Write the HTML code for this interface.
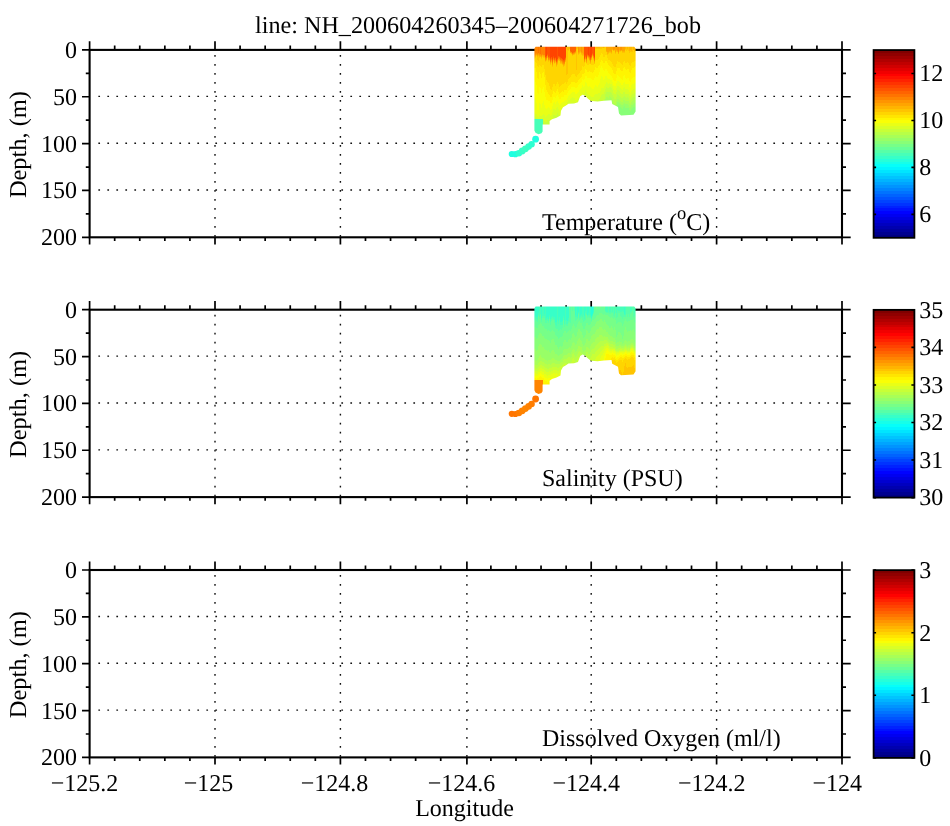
<!DOCTYPE html><html><head><meta charset="utf-8"><style>html,body{margin:0;padding:0;background:#fff;overflow:hidden}svg{display:block;text-rendering:geometricPrecision;will-change:transform}</style></head><body>
<svg width="950" height="826" viewBox="0 0 950 826">
<defs><linearGradient id="jet" x1="0" y1="1" x2="0" y2="0"><stop offset="0.00000" stop-color="#000080"/><stop offset="0.01562" stop-color="#000080"/><stop offset="0.01562" stop-color="#000090"/><stop offset="0.03125" stop-color="#000090"/><stop offset="0.03125" stop-color="#0000a0"/><stop offset="0.04688" stop-color="#0000a0"/><stop offset="0.04688" stop-color="#0000b0"/><stop offset="0.06250" stop-color="#0000b0"/><stop offset="0.06250" stop-color="#0000c0"/><stop offset="0.07812" stop-color="#0000c0"/><stop offset="0.07812" stop-color="#0000d0"/><stop offset="0.09375" stop-color="#0000d0"/><stop offset="0.09375" stop-color="#0000e1"/><stop offset="0.10938" stop-color="#0000e1"/><stop offset="0.10938" stop-color="#0000f1"/><stop offset="0.12500" stop-color="#0000f1"/><stop offset="0.12500" stop-color="#0002ff"/><stop offset="0.14062" stop-color="#0002ff"/><stop offset="0.14062" stop-color="#0012ff"/><stop offset="0.15625" stop-color="#0012ff"/><stop offset="0.15625" stop-color="#0022ff"/><stop offset="0.17188" stop-color="#0022ff"/><stop offset="0.17188" stop-color="#0033ff"/><stop offset="0.18750" stop-color="#0033ff"/><stop offset="0.18750" stop-color="#0043ff"/><stop offset="0.20312" stop-color="#0043ff"/><stop offset="0.20312" stop-color="#0053ff"/><stop offset="0.21875" stop-color="#0053ff"/><stop offset="0.21875" stop-color="#0063ff"/><stop offset="0.23438" stop-color="#0063ff"/><stop offset="0.23438" stop-color="#0073ff"/><stop offset="0.25000" stop-color="#0073ff"/><stop offset="0.25000" stop-color="#0084ff"/><stop offset="0.26562" stop-color="#0084ff"/><stop offset="0.26562" stop-color="#0094ff"/><stop offset="0.28125" stop-color="#0094ff"/><stop offset="0.28125" stop-color="#00a4ff"/><stop offset="0.29688" stop-color="#00a4ff"/><stop offset="0.29688" stop-color="#00b4ff"/><stop offset="0.31250" stop-color="#00b4ff"/><stop offset="0.31250" stop-color="#00c4ff"/><stop offset="0.32812" stop-color="#00c4ff"/><stop offset="0.32812" stop-color="#00d4ff"/><stop offset="0.34375" stop-color="#00d4ff"/><stop offset="0.34375" stop-color="#00e5ff"/><stop offset="0.35938" stop-color="#00e5ff"/><stop offset="0.35938" stop-color="#00f5ff"/><stop offset="0.37500" stop-color="#00f5ff"/><stop offset="0.37500" stop-color="#06fff9"/><stop offset="0.39062" stop-color="#06fff9"/><stop offset="0.39062" stop-color="#16ffe9"/><stop offset="0.40625" stop-color="#16ffe9"/><stop offset="0.40625" stop-color="#26ffd9"/><stop offset="0.42188" stop-color="#26ffd9"/><stop offset="0.42188" stop-color="#37ffc8"/><stop offset="0.43750" stop-color="#37ffc8"/><stop offset="0.43750" stop-color="#47ffb8"/><stop offset="0.45312" stop-color="#47ffb8"/><stop offset="0.45312" stop-color="#57ffa8"/><stop offset="0.46875" stop-color="#57ffa8"/><stop offset="0.46875" stop-color="#67ff98"/><stop offset="0.48438" stop-color="#67ff98"/><stop offset="0.48438" stop-color="#77ff88"/><stop offset="0.50000" stop-color="#77ff88"/><stop offset="0.50000" stop-color="#88ff77"/><stop offset="0.51562" stop-color="#88ff77"/><stop offset="0.51562" stop-color="#98ff67"/><stop offset="0.53125" stop-color="#98ff67"/><stop offset="0.53125" stop-color="#a8ff57"/><stop offset="0.54688" stop-color="#a8ff57"/><stop offset="0.54688" stop-color="#b8ff47"/><stop offset="0.56250" stop-color="#b8ff47"/><stop offset="0.56250" stop-color="#c8ff37"/><stop offset="0.57812" stop-color="#c8ff37"/><stop offset="0.57812" stop-color="#d9ff26"/><stop offset="0.59375" stop-color="#d9ff26"/><stop offset="0.59375" stop-color="#e9ff16"/><stop offset="0.60938" stop-color="#e9ff16"/><stop offset="0.60938" stop-color="#f9ff06"/><stop offset="0.62500" stop-color="#f9ff06"/><stop offset="0.62500" stop-color="#fff500"/><stop offset="0.64062" stop-color="#fff500"/><stop offset="0.64062" stop-color="#ffe500"/><stop offset="0.65625" stop-color="#ffe500"/><stop offset="0.65625" stop-color="#ffd500"/><stop offset="0.67188" stop-color="#ffd500"/><stop offset="0.67188" stop-color="#ffc400"/><stop offset="0.68750" stop-color="#ffc400"/><stop offset="0.68750" stop-color="#ffb400"/><stop offset="0.70312" stop-color="#ffb400"/><stop offset="0.70312" stop-color="#ffa400"/><stop offset="0.71875" stop-color="#ffa400"/><stop offset="0.71875" stop-color="#ff9400"/><stop offset="0.73438" stop-color="#ff9400"/><stop offset="0.73438" stop-color="#ff8400"/><stop offset="0.75000" stop-color="#ff8400"/><stop offset="0.75000" stop-color="#ff7300"/><stop offset="0.76562" stop-color="#ff7300"/><stop offset="0.76562" stop-color="#ff6300"/><stop offset="0.78125" stop-color="#ff6300"/><stop offset="0.78125" stop-color="#ff5300"/><stop offset="0.79688" stop-color="#ff5300"/><stop offset="0.79688" stop-color="#ff4300"/><stop offset="0.81250" stop-color="#ff4300"/><stop offset="0.81250" stop-color="#ff3300"/><stop offset="0.82812" stop-color="#ff3300"/><stop offset="0.82812" stop-color="#ff2200"/><stop offset="0.84375" stop-color="#ff2200"/><stop offset="0.84375" stop-color="#ff1200"/><stop offset="0.85938" stop-color="#ff1200"/><stop offset="0.85938" stop-color="#ff0200"/><stop offset="0.87500" stop-color="#ff0200"/><stop offset="0.87500" stop-color="#f10000"/><stop offset="0.89062" stop-color="#f10000"/><stop offset="0.89062" stop-color="#e10000"/><stop offset="0.90625" stop-color="#e10000"/><stop offset="0.90625" stop-color="#d00000"/><stop offset="0.92188" stop-color="#d00000"/><stop offset="0.92188" stop-color="#c00000"/><stop offset="0.93750" stop-color="#c00000"/><stop offset="0.93750" stop-color="#b00000"/><stop offset="0.95312" stop-color="#b00000"/><stop offset="0.95312" stop-color="#a00000"/><stop offset="0.96875" stop-color="#a00000"/><stop offset="0.96875" stop-color="#900000"/><stop offset="0.98438" stop-color="#900000"/><stop offset="0.98438" stop-color="#800000"/><stop offset="1.00000" stop-color="#800000"/></linearGradient></defs>
<rect width="950" height="826" fill="#fff"/>
<text transform="translate(255.00 32.90) scale(1 1.01)" font-family="Liberation Serif" font-size="24" textLength="446" lengthAdjust="spacingAndGlyphs">line: NH_200604260345–200604271726_bob</text>
<line x1="215.00" y1="55.00" x2="215.00" y2="237.30" stroke="#111" stroke-width="1.4" stroke-dasharray="1.7 7.3"/>
<line x1="340.40" y1="55.00" x2="340.40" y2="237.30" stroke="#111" stroke-width="1.4" stroke-dasharray="1.7 7.3"/>
<line x1="466.90" y1="55.00" x2="466.90" y2="237.30" stroke="#111" stroke-width="1.4" stroke-dasharray="1.7 7.3"/>
<line x1="591.20" y1="55.00" x2="591.20" y2="237.30" stroke="#111" stroke-width="1.4" stroke-dasharray="1.7 7.3"/>
<line x1="716.60" y1="55.00" x2="716.60" y2="237.30" stroke="#111" stroke-width="1.4" stroke-dasharray="1.7 7.3"/>
<line x1="98.35" y1="96.35" x2="842.00" y2="96.35" stroke="#111" stroke-width="1.4" stroke-dasharray="1.7 7.3"/>
<line x1="98.35" y1="143.20" x2="842.00" y2="143.20" stroke="#111" stroke-width="1.4" stroke-dasharray="1.7 7.3"/>
<line x1="98.35" y1="190.05" x2="842.00" y2="190.05" stroke="#111" stroke-width="1.4" stroke-dasharray="1.7 7.3"/>
<path d="M89.60 49.90V41.30M89.60 237.30V244.50M114.68 49.90V45.50M114.68 237.30V241.00M139.76 49.90V45.50M139.76 237.30V241.00M164.84 49.90V45.50M164.84 237.30V241.00M189.92 49.90V45.50M189.92 237.30V241.00M215.00 49.90V41.30M215.00 237.30V244.50M240.08 49.90V45.50M240.08 237.30V241.00M265.16 49.90V45.50M265.16 237.30V241.00M290.24 49.90V45.50M290.24 237.30V241.00M315.32 49.90V45.50M315.32 237.30V241.00M340.40 49.90V41.30M340.40 237.30V244.50M365.48 49.90V45.50M365.48 237.30V241.00M390.56 49.90V45.50M390.56 237.30V241.00M415.64 49.90V45.50M415.64 237.30V241.00M440.72 49.90V45.50M440.72 237.30V241.00M466.90 49.90V41.30M466.90 237.30V244.50M490.88 49.90V45.50M490.88 237.30V241.00M515.96 49.90V45.50M515.96 237.30V241.00M541.04 49.90V45.50M541.04 237.30V241.00M566.12 49.90V45.50M566.12 237.30V241.00M591.20 49.90V41.30M591.20 237.30V244.50M616.28 49.90V45.50M616.28 237.30V241.00M641.36 49.90V45.50M641.36 237.30V241.00M666.44 49.90V45.50M666.44 237.30V241.00M691.52 49.90V45.50M691.52 237.30V241.00M716.60 49.90V41.30M716.60 237.30V244.50M741.68 49.90V45.50M741.68 237.30V241.00M766.76 49.90V45.50M766.76 237.30V241.00M791.84 49.90V45.50M791.84 237.30V241.00M816.92 49.90V45.50M816.92 237.30V241.00M842.00 49.90V41.30M842.00 237.30V244.50M89.60 49.90H82.00M842.00 49.90H850.70M89.60 73.33H85.80M842.00 73.33H846.00M89.60 96.75H82.00M842.00 96.75H850.70M89.60 120.18H85.80M842.00 120.18H846.00M89.60 143.60H82.00M842.00 143.60H850.70M89.60 167.03H85.80M842.00 167.03H846.00M89.60 190.45H82.00M842.00 190.45H850.70M89.60 213.88H85.80M842.00 213.88H846.00M89.60 237.30H82.00M842.00 237.30H850.70" stroke="#000" stroke-width="1.7" fill="none"/>
<rect x="89.60" y="49.90" width="752.40" height="187.40" fill="none" stroke="#000" stroke-width="2.1"/>
<clipPath id="clip0"><polygon points="534.4,48.5 535.6,46.8 634.2,46.8 635.6,48.5 635.6,111.5 635.6,111.5 633.5,114.8 621.0,115.4 619.0,113.6 618.0,107.0 612.2,103.9 611.5,100.3 604.0,100.8 597.6,101.4 591.0,101.0 588.0,98.8 585.0,95.6 582.5,94.8 580.2,96.2 578.0,102.2 574.0,103.4 568.5,103.8 566.0,105.4 563.0,107.2 561.0,110.8 560.5,115.6 556.5,117.8 552.0,119.2 549.6,121.0 549.6,124.6 542.6,124.6 542.6,131.5 541.5,133.3 538.5,134.2 535.5,132.8 534.4,130.5"/></clipPath>
<g transform="translate(0 0.00)">
<g clip-path="url(#clip0)" shape-rendering="crispEdges">
<rect x="534" y="46" width="1" height="9" fill="#ff8400"/>
<rect x="534" y="55" width="1" height="1" fill="#ff9400"/>
<rect x="534" y="56" width="1" height="1" fill="#ffa400"/>
<rect x="534" y="57" width="1" height="1" fill="#ffb400"/>
<rect x="534" y="58" width="1" height="1" fill="#ffc400"/>
<rect x="534" y="59" width="1" height="2" fill="#ffd500"/>
<rect x="534" y="61" width="1" height="7" fill="#ffe500"/>
<rect x="534" y="68" width="1" height="12" fill="#fff500"/>
<rect x="534" y="80" width="1" height="18" fill="#f9ff06"/>
<rect x="534" y="98" width="1" height="15" fill="#e9ff16"/>
<rect x="534" y="113" width="1" height="3" fill="#d9ff26"/>
<rect x="534" y="116" width="1" height="3" fill="#c8ff37"/>
<rect x="534" y="119" width="1" height="17" fill="#47ffb8"/>
<rect x="535" y="46" width="1" height="8" fill="#ff8400"/>
<rect x="535" y="54" width="1" height="1" fill="#ff9400"/>
<rect x="535" y="55" width="1" height="1" fill="#ffa400"/>
<rect x="535" y="56" width="1" height="1" fill="#ffb400"/>
<rect x="535" y="57" width="1" height="1" fill="#ffc400"/>
<rect x="535" y="58" width="1" height="4" fill="#ffd500"/>
<rect x="535" y="62" width="1" height="6" fill="#ffe500"/>
<rect x="535" y="68" width="1" height="14" fill="#fff500"/>
<rect x="535" y="82" width="1" height="17" fill="#f9ff06"/>
<rect x="535" y="99" width="1" height="15" fill="#e9ff16"/>
<rect x="535" y="114" width="1" height="3" fill="#d9ff26"/>
<rect x="535" y="117" width="1" height="2" fill="#c8ff37"/>
<rect x="535" y="119" width="1" height="17" fill="#47ffb8"/>
<rect x="536" y="46" width="1" height="7" fill="#ff8400"/>
<rect x="536" y="53" width="1" height="1" fill="#ff9400"/>
<rect x="536" y="54" width="1" height="1" fill="#ffa400"/>
<rect x="536" y="55" width="1" height="1" fill="#ffc400"/>
<rect x="536" y="56" width="1" height="7" fill="#ffd500"/>
<rect x="536" y="63" width="1" height="9" fill="#ffe500"/>
<rect x="536" y="72" width="1" height="13" fill="#fff500"/>
<rect x="536" y="85" width="1" height="18" fill="#f9ff06"/>
<rect x="536" y="103" width="1" height="11" fill="#e9ff16"/>
<rect x="536" y="114" width="1" height="4" fill="#d9ff26"/>
<rect x="536" y="118" width="1" height="1" fill="#c8ff37"/>
<rect x="536" y="119" width="1" height="17" fill="#47ffb8"/>
<rect x="537" y="46" width="1" height="8" fill="#ff8400"/>
<rect x="537" y="54" width="1" height="1" fill="#ff9400"/>
<rect x="537" y="55" width="1" height="1" fill="#ffa400"/>
<rect x="537" y="56" width="1" height="1" fill="#ffb400"/>
<rect x="537" y="57" width="1" height="3" fill="#ffc400"/>
<rect x="537" y="60" width="1" height="6" fill="#ffd500"/>
<rect x="537" y="66" width="1" height="12" fill="#ffe500"/>
<rect x="537" y="78" width="1" height="15" fill="#fff500"/>
<rect x="537" y="93" width="1" height="17" fill="#f9ff06"/>
<rect x="537" y="110" width="1" height="6" fill="#e9ff16"/>
<rect x="537" y="116" width="1" height="3" fill="#d9ff26"/>
<rect x="537" y="119" width="1" height="17" fill="#47ffb8"/>
<rect x="538" y="46" width="1" height="7" fill="#ff7300"/>
<rect x="538" y="53" width="1" height="1" fill="#ff9400"/>
<rect x="538" y="54" width="1" height="1" fill="#ffa400"/>
<rect x="538" y="55" width="1" height="1" fill="#ffb400"/>
<rect x="538" y="56" width="1" height="5" fill="#ffc400"/>
<rect x="538" y="61" width="1" height="6" fill="#ffd500"/>
<rect x="538" y="67" width="1" height="12" fill="#ffe500"/>
<rect x="538" y="79" width="1" height="15" fill="#fff500"/>
<rect x="538" y="94" width="1" height="16" fill="#f9ff06"/>
<rect x="538" y="110" width="1" height="7" fill="#e9ff16"/>
<rect x="538" y="117" width="1" height="2" fill="#d9ff26"/>
<rect x="538" y="119" width="1" height="17" fill="#47ffb8"/>
<rect x="539" y="46" width="1" height="8" fill="#ff8400"/>
<rect x="539" y="54" width="1" height="1" fill="#ff9400"/>
<rect x="539" y="55" width="1" height="1" fill="#ffa400"/>
<rect x="539" y="56" width="1" height="1" fill="#ffb400"/>
<rect x="539" y="57" width="1" height="1" fill="#ffc400"/>
<rect x="539" y="58" width="1" height="7" fill="#ffd500"/>
<rect x="539" y="65" width="1" height="7" fill="#ffe500"/>
<rect x="539" y="72" width="1" height="15" fill="#fff500"/>
<rect x="539" y="87" width="1" height="16" fill="#f9ff06"/>
<rect x="539" y="103" width="1" height="12" fill="#e9ff16"/>
<rect x="539" y="115" width="1" height="4" fill="#d9ff26"/>
<rect x="539" y="119" width="1" height="17" fill="#47ffb8"/>
<rect x="540" y="46" width="1" height="8" fill="#ff7300"/>
<rect x="540" y="54" width="1" height="1" fill="#ff9400"/>
<rect x="540" y="55" width="1" height="1" fill="#ffa400"/>
<rect x="540" y="56" width="1" height="1" fill="#ffb400"/>
<rect x="540" y="57" width="1" height="9" fill="#ffd500"/>
<rect x="540" y="66" width="1" height="8" fill="#ffe500"/>
<rect x="540" y="74" width="1" height="14" fill="#fff500"/>
<rect x="540" y="88" width="1" height="16" fill="#f9ff06"/>
<rect x="540" y="104" width="1" height="12" fill="#e9ff16"/>
<rect x="540" y="116" width="1" height="3" fill="#d9ff26"/>
<rect x="540" y="119" width="1" height="17" fill="#47ffb8"/>
<rect x="541" y="46" width="1" height="9" fill="#ff8400"/>
<rect x="541" y="55" width="1" height="1" fill="#ff9400"/>
<rect x="541" y="56" width="1" height="1" fill="#ffa400"/>
<rect x="541" y="57" width="1" height="1" fill="#ffb400"/>
<rect x="541" y="58" width="1" height="1" fill="#ffc400"/>
<rect x="541" y="59" width="1" height="8" fill="#ffd500"/>
<rect x="541" y="67" width="1" height="11" fill="#ffe500"/>
<rect x="541" y="78" width="1" height="15" fill="#fff500"/>
<rect x="541" y="93" width="1" height="15" fill="#f9ff06"/>
<rect x="541" y="108" width="1" height="8" fill="#e9ff16"/>
<rect x="541" y="116" width="1" height="3" fill="#d9ff26"/>
<rect x="541" y="119" width="1" height="17" fill="#47ffb8"/>
<rect x="542" y="46" width="1" height="8" fill="#ff8400"/>
<rect x="542" y="54" width="1" height="1" fill="#ff9400"/>
<rect x="542" y="55" width="1" height="1" fill="#ffb400"/>
<rect x="542" y="56" width="1" height="1" fill="#ffc400"/>
<rect x="542" y="57" width="1" height="8" fill="#ffd500"/>
<rect x="542" y="65" width="1" height="8" fill="#ffe500"/>
<rect x="542" y="73" width="1" height="16" fill="#fff500"/>
<rect x="542" y="89" width="1" height="14" fill="#f9ff06"/>
<rect x="542" y="103" width="1" height="12" fill="#e9ff16"/>
<rect x="542" y="115" width="1" height="4" fill="#d9ff26"/>
<rect x="542" y="119" width="1" height="17" fill="#47ffb8"/>
<rect x="543" y="46" width="1" height="9" fill="#ff8400"/>
<rect x="543" y="55" width="1" height="1" fill="#ffa400"/>
<rect x="543" y="56" width="1" height="1" fill="#ffb400"/>
<rect x="543" y="57" width="1" height="1" fill="#ffc400"/>
<rect x="543" y="58" width="1" height="7" fill="#ffd500"/>
<rect x="543" y="65" width="1" height="7" fill="#ffe500"/>
<rect x="543" y="72" width="1" height="15" fill="#fff500"/>
<rect x="543" y="87" width="1" height="14" fill="#f9ff06"/>
<rect x="543" y="101" width="1" height="13" fill="#e9ff16"/>
<rect x="543" y="114" width="1" height="6" fill="#d9ff26"/>
<rect x="543" y="120" width="1" height="12" fill="#c8ff37"/>
<rect x="543" y="132" width="1" height="4" fill="#b8ff47"/>
<rect x="544" y="46" width="1" height="9" fill="#ff8400"/>
<rect x="544" y="55" width="1" height="1" fill="#ffa400"/>
<rect x="544" y="56" width="1" height="1" fill="#ffb400"/>
<rect x="544" y="57" width="1" height="1" fill="#ffc400"/>
<rect x="544" y="58" width="1" height="11" fill="#ffd500"/>
<rect x="544" y="69" width="1" height="8" fill="#ffe500"/>
<rect x="544" y="77" width="1" height="15" fill="#fff500"/>
<rect x="544" y="92" width="1" height="13" fill="#f9ff06"/>
<rect x="544" y="105" width="1" height="10" fill="#e9ff16"/>
<rect x="544" y="115" width="1" height="6" fill="#d9ff26"/>
<rect x="544" y="121" width="1" height="14" fill="#c8ff37"/>
<rect x="544" y="135" width="1" height="1" fill="#b8ff47"/>
<rect x="545" y="46" width="1" height="11" fill="#ff5300"/>
<rect x="545" y="57" width="1" height="1" fill="#ff7300"/>
<rect x="545" y="58" width="1" height="1" fill="#ff8400"/>
<rect x="545" y="59" width="1" height="1" fill="#ff9400"/>
<rect x="545" y="60" width="1" height="1" fill="#ffa400"/>
<rect x="545" y="61" width="1" height="1" fill="#ffc400"/>
<rect x="545" y="62" width="1" height="13" fill="#ffd500"/>
<rect x="545" y="75" width="1" height="10" fill="#ffe500"/>
<rect x="545" y="85" width="1" height="12" fill="#fff500"/>
<rect x="545" y="97" width="1" height="11" fill="#f9ff06"/>
<rect x="545" y="108" width="1" height="9" fill="#e9ff16"/>
<rect x="545" y="117" width="1" height="5" fill="#d9ff26"/>
<rect x="545" y="122" width="1" height="14" fill="#c8ff37"/>
<rect x="546" y="46" width="1" height="10" fill="#ff4300"/>
<rect x="546" y="56" width="1" height="1" fill="#ff6300"/>
<rect x="546" y="57" width="1" height="1" fill="#ff7300"/>
<rect x="546" y="58" width="1" height="1" fill="#ff9400"/>
<rect x="546" y="59" width="1" height="1" fill="#ffa400"/>
<rect x="546" y="60" width="1" height="1" fill="#ffc400"/>
<rect x="546" y="61" width="1" height="19" fill="#ffd500"/>
<rect x="546" y="80" width="1" height="10" fill="#ffe500"/>
<rect x="546" y="90" width="1" height="10" fill="#fff500"/>
<rect x="546" y="100" width="1" height="9" fill="#f9ff06"/>
<rect x="546" y="109" width="1" height="7" fill="#e9ff16"/>
<rect x="546" y="116" width="1" height="6" fill="#d9ff26"/>
<rect x="546" y="122" width="1" height="14" fill="#c8ff37"/>
<rect x="547" y="46" width="1" height="8" fill="#ff5300"/>
<rect x="547" y="54" width="1" height="1" fill="#ff6300"/>
<rect x="547" y="55" width="1" height="1" fill="#ff8400"/>
<rect x="547" y="56" width="1" height="1" fill="#ffa400"/>
<rect x="547" y="57" width="1" height="1" fill="#ffb400"/>
<rect x="547" y="58" width="1" height="24" fill="#ffd500"/>
<rect x="547" y="82" width="1" height="10" fill="#ffe500"/>
<rect x="547" y="92" width="1" height="8" fill="#fff500"/>
<rect x="547" y="100" width="1" height="8" fill="#f9ff06"/>
<rect x="547" y="108" width="1" height="7" fill="#e9ff16"/>
<rect x="547" y="115" width="1" height="5" fill="#d9ff26"/>
<rect x="547" y="120" width="1" height="16" fill="#c8ff37"/>
<rect x="548" y="46" width="1" height="11" fill="#ff5300"/>
<rect x="548" y="57" width="1" height="1" fill="#ff7300"/>
<rect x="548" y="58" width="1" height="1" fill="#ff8400"/>
<rect x="548" y="59" width="1" height="1" fill="#ff9400"/>
<rect x="548" y="60" width="1" height="1" fill="#ffb400"/>
<rect x="548" y="61" width="1" height="1" fill="#ffc400"/>
<rect x="548" y="62" width="1" height="21" fill="#ffd500"/>
<rect x="548" y="83" width="1" height="11" fill="#ffe500"/>
<rect x="548" y="94" width="1" height="7" fill="#fff500"/>
<rect x="548" y="101" width="1" height="6" fill="#f9ff06"/>
<rect x="548" y="107" width="1" height="7" fill="#e9ff16"/>
<rect x="548" y="114" width="1" height="6" fill="#d9ff26"/>
<rect x="548" y="120" width="1" height="13" fill="#c8ff37"/>
<rect x="548" y="133" width="1" height="3" fill="#b8ff47"/>
<rect x="549" y="46" width="1" height="10" fill="#ff5300"/>
<rect x="549" y="56" width="1" height="1" fill="#ff6300"/>
<rect x="549" y="57" width="1" height="1" fill="#ff7300"/>
<rect x="549" y="58" width="1" height="1" fill="#ff9400"/>
<rect x="549" y="59" width="1" height="1" fill="#ffa400"/>
<rect x="549" y="60" width="1" height="1" fill="#ffc400"/>
<rect x="549" y="61" width="1" height="25" fill="#ffd500"/>
<rect x="549" y="86" width="1" height="9" fill="#ffe500"/>
<rect x="549" y="95" width="1" height="6" fill="#fff500"/>
<rect x="549" y="101" width="1" height="7" fill="#f9ff06"/>
<rect x="549" y="108" width="1" height="6" fill="#e9ff16"/>
<rect x="549" y="114" width="1" height="6" fill="#d9ff26"/>
<rect x="549" y="120" width="1" height="16" fill="#c8ff37"/>
<rect x="550" y="46" width="1" height="12" fill="#ff4300"/>
<rect x="550" y="58" width="1" height="1" fill="#ff5300"/>
<rect x="550" y="59" width="1" height="1" fill="#ff6300"/>
<rect x="550" y="60" width="1" height="1" fill="#ff7300"/>
<rect x="550" y="61" width="1" height="1" fill="#ff8400"/>
<rect x="550" y="62" width="1" height="1" fill="#ffa400"/>
<rect x="550" y="63" width="1" height="1" fill="#ffb400"/>
<rect x="550" y="64" width="1" height="1" fill="#ffc400"/>
<rect x="550" y="65" width="1" height="24" fill="#ffd500"/>
<rect x="550" y="89" width="1" height="8" fill="#ffe500"/>
<rect x="550" y="97" width="1" height="6" fill="#fff500"/>
<rect x="550" y="103" width="1" height="7" fill="#f9ff06"/>
<rect x="550" y="110" width="1" height="6" fill="#e9ff16"/>
<rect x="550" y="116" width="1" height="6" fill="#d9ff26"/>
<rect x="550" y="122" width="1" height="14" fill="#c8ff37"/>
<rect x="551" y="46" width="1" height="11" fill="#ff4300"/>
<rect x="551" y="57" width="1" height="1" fill="#ff6300"/>
<rect x="551" y="58" width="1" height="1" fill="#ff7300"/>
<rect x="551" y="59" width="1" height="1" fill="#ff8400"/>
<rect x="551" y="60" width="1" height="1" fill="#ffa400"/>
<rect x="551" y="61" width="1" height="1" fill="#ffb400"/>
<rect x="551" y="62" width="1" height="1" fill="#ffc400"/>
<rect x="551" y="63" width="1" height="27" fill="#ffd500"/>
<rect x="551" y="90" width="1" height="7" fill="#ffe500"/>
<rect x="551" y="97" width="1" height="6" fill="#fff500"/>
<rect x="551" y="103" width="1" height="6" fill="#f9ff06"/>
<rect x="551" y="109" width="1" height="6" fill="#e9ff16"/>
<rect x="551" y="115" width="1" height="8" fill="#d9ff26"/>
<rect x="551" y="123" width="1" height="13" fill="#c8ff37"/>
<rect x="552" y="46" width="1" height="13" fill="#ff4300"/>
<rect x="552" y="59" width="1" height="1" fill="#ff5300"/>
<rect x="552" y="60" width="1" height="1" fill="#ff6300"/>
<rect x="552" y="61" width="1" height="1" fill="#ff7300"/>
<rect x="552" y="62" width="1" height="1" fill="#ff8400"/>
<rect x="552" y="63" width="1" height="1" fill="#ff9400"/>
<rect x="552" y="64" width="1" height="1" fill="#ffa400"/>
<rect x="552" y="65" width="1" height="1" fill="#ffb400"/>
<rect x="552" y="66" width="1" height="1" fill="#ffc400"/>
<rect x="552" y="67" width="1" height="20" fill="#ffd500"/>
<rect x="552" y="87" width="1" height="7" fill="#ffe500"/>
<rect x="552" y="94" width="1" height="6" fill="#fff500"/>
<rect x="552" y="100" width="1" height="6" fill="#f9ff06"/>
<rect x="552" y="106" width="1" height="6" fill="#e9ff16"/>
<rect x="552" y="112" width="1" height="7" fill="#d9ff26"/>
<rect x="552" y="119" width="1" height="16" fill="#c8ff37"/>
<rect x="552" y="135" width="1" height="1" fill="#b8ff47"/>
<rect x="553" y="46" width="1" height="10" fill="#ff4300"/>
<rect x="553" y="56" width="1" height="1" fill="#ff5300"/>
<rect x="553" y="57" width="1" height="1" fill="#ff6300"/>
<rect x="553" y="58" width="1" height="1" fill="#ff8400"/>
<rect x="553" y="59" width="1" height="1" fill="#ff9400"/>
<rect x="553" y="60" width="1" height="1" fill="#ffb400"/>
<rect x="553" y="61" width="1" height="1" fill="#ffc400"/>
<rect x="553" y="62" width="1" height="22" fill="#ffd500"/>
<rect x="553" y="84" width="1" height="7" fill="#ffe500"/>
<rect x="553" y="91" width="1" height="6" fill="#fff500"/>
<rect x="553" y="97" width="1" height="6" fill="#f9ff06"/>
<rect x="553" y="103" width="1" height="6" fill="#e9ff16"/>
<rect x="553" y="109" width="1" height="6" fill="#d9ff26"/>
<rect x="553" y="115" width="1" height="11" fill="#c8ff37"/>
<rect x="553" y="126" width="1" height="10" fill="#b8ff47"/>
<rect x="554" y="46" width="1" height="12" fill="#ff4300"/>
<rect x="554" y="58" width="1" height="1" fill="#ff5300"/>
<rect x="554" y="59" width="1" height="1" fill="#ff6300"/>
<rect x="554" y="60" width="1" height="1" fill="#ff8400"/>
<rect x="554" y="61" width="1" height="1" fill="#ff9400"/>
<rect x="554" y="62" width="1" height="1" fill="#ffa400"/>
<rect x="554" y="63" width="1" height="1" fill="#ffc400"/>
<rect x="554" y="64" width="1" height="20" fill="#ffd500"/>
<rect x="554" y="84" width="1" height="8" fill="#ffe500"/>
<rect x="554" y="92" width="1" height="5" fill="#fff500"/>
<rect x="554" y="97" width="1" height="5" fill="#f9ff06"/>
<rect x="554" y="102" width="1" height="7" fill="#e9ff16"/>
<rect x="554" y="109" width="1" height="6" fill="#d9ff26"/>
<rect x="554" y="115" width="1" height="13" fill="#c8ff37"/>
<rect x="554" y="128" width="1" height="8" fill="#b8ff47"/>
<rect x="555" y="46" width="1" height="11" fill="#ff4300"/>
<rect x="555" y="57" width="1" height="1" fill="#ff5300"/>
<rect x="555" y="58" width="1" height="1" fill="#ff7300"/>
<rect x="555" y="59" width="1" height="1" fill="#ff8400"/>
<rect x="555" y="60" width="1" height="1" fill="#ff9400"/>
<rect x="555" y="61" width="1" height="1" fill="#ffb400"/>
<rect x="555" y="62" width="1" height="1" fill="#ffc400"/>
<rect x="555" y="63" width="1" height="23" fill="#ffd500"/>
<rect x="555" y="86" width="1" height="7" fill="#ffe500"/>
<rect x="555" y="93" width="1" height="5" fill="#fff500"/>
<rect x="555" y="98" width="1" height="6" fill="#f9ff06"/>
<rect x="555" y="104" width="1" height="6" fill="#e9ff16"/>
<rect x="555" y="110" width="1" height="6" fill="#d9ff26"/>
<rect x="555" y="116" width="1" height="18" fill="#c8ff37"/>
<rect x="555" y="134" width="1" height="2" fill="#b8ff47"/>
<rect x="556" y="46" width="1" height="14" fill="#ff4300"/>
<rect x="556" y="60" width="1" height="1" fill="#ff5300"/>
<rect x="556" y="61" width="1" height="1" fill="#ff6300"/>
<rect x="556" y="62" width="1" height="1" fill="#ff8400"/>
<rect x="556" y="63" width="1" height="1" fill="#ff9400"/>
<rect x="556" y="64" width="1" height="1" fill="#ffa400"/>
<rect x="556" y="65" width="1" height="1" fill="#ffb400"/>
<rect x="556" y="66" width="1" height="1" fill="#ffc400"/>
<rect x="556" y="67" width="1" height="17" fill="#ffd500"/>
<rect x="556" y="84" width="1" height="7" fill="#ffe500"/>
<rect x="556" y="91" width="1" height="5" fill="#fff500"/>
<rect x="556" y="96" width="1" height="6" fill="#f9ff06"/>
<rect x="556" y="102" width="1" height="6" fill="#e9ff16"/>
<rect x="556" y="108" width="1" height="7" fill="#d9ff26"/>
<rect x="556" y="115" width="1" height="14" fill="#c8ff37"/>
<rect x="556" y="129" width="1" height="7" fill="#b8ff47"/>
<rect x="557" y="46" width="1" height="13" fill="#ff5300"/>
<rect x="557" y="59" width="1" height="1" fill="#ff7300"/>
<rect x="557" y="60" width="1" height="1" fill="#ff8400"/>
<rect x="557" y="61" width="1" height="1" fill="#ff9400"/>
<rect x="557" y="62" width="1" height="1" fill="#ffa400"/>
<rect x="557" y="63" width="1" height="1" fill="#ffb400"/>
<rect x="557" y="64" width="1" height="1" fill="#ffc400"/>
<rect x="557" y="65" width="1" height="17" fill="#ffd500"/>
<rect x="557" y="82" width="1" height="7" fill="#ffe500"/>
<rect x="557" y="89" width="1" height="6" fill="#fff500"/>
<rect x="557" y="95" width="1" height="6" fill="#f9ff06"/>
<rect x="557" y="101" width="1" height="6" fill="#e9ff16"/>
<rect x="557" y="107" width="1" height="6" fill="#d9ff26"/>
<rect x="557" y="113" width="1" height="10" fill="#c8ff37"/>
<rect x="557" y="123" width="1" height="13" fill="#b8ff47"/>
<rect x="558" y="46" width="1" height="10" fill="#ff4300"/>
<rect x="558" y="56" width="1" height="1" fill="#ff6300"/>
<rect x="558" y="57" width="1" height="1" fill="#ff7300"/>
<rect x="558" y="58" width="1" height="1" fill="#ff9400"/>
<rect x="558" y="59" width="1" height="1" fill="#ffa400"/>
<rect x="558" y="60" width="1" height="1" fill="#ffc400"/>
<rect x="558" y="61" width="1" height="23" fill="#ffd500"/>
<rect x="558" y="84" width="1" height="8" fill="#ffe500"/>
<rect x="558" y="92" width="1" height="5" fill="#fff500"/>
<rect x="558" y="97" width="1" height="6" fill="#f9ff06"/>
<rect x="558" y="103" width="1" height="6" fill="#e9ff16"/>
<rect x="558" y="109" width="1" height="6" fill="#d9ff26"/>
<rect x="558" y="115" width="1" height="13" fill="#c8ff37"/>
<rect x="558" y="128" width="1" height="8" fill="#b8ff47"/>
<rect x="559" y="46" width="1" height="10" fill="#ff4300"/>
<rect x="559" y="56" width="1" height="1" fill="#ff5300"/>
<rect x="559" y="57" width="1" height="1" fill="#ff7300"/>
<rect x="559" y="58" width="1" height="1" fill="#ff8400"/>
<rect x="559" y="59" width="1" height="1" fill="#ffa400"/>
<rect x="559" y="60" width="1" height="1" fill="#ffb400"/>
<rect x="559" y="61" width="1" height="26" fill="#ffd500"/>
<rect x="559" y="87" width="1" height="7" fill="#ffe500"/>
<rect x="559" y="94" width="1" height="5" fill="#fff500"/>
<rect x="559" y="99" width="1" height="6" fill="#f9ff06"/>
<rect x="559" y="105" width="1" height="6" fill="#e9ff16"/>
<rect x="559" y="111" width="1" height="6" fill="#d9ff26"/>
<rect x="559" y="117" width="1" height="18" fill="#c8ff37"/>
<rect x="559" y="135" width="1" height="1" fill="#b8ff47"/>
<rect x="560" y="46" width="1" height="11" fill="#ff4300"/>
<rect x="560" y="57" width="1" height="1" fill="#ff5300"/>
<rect x="560" y="58" width="1" height="1" fill="#ff6300"/>
<rect x="560" y="59" width="1" height="1" fill="#ff7300"/>
<rect x="560" y="60" width="1" height="1" fill="#ff9400"/>
<rect x="560" y="61" width="1" height="1" fill="#ffa400"/>
<rect x="560" y="62" width="1" height="1" fill="#ffb400"/>
<rect x="560" y="63" width="1" height="1" fill="#ffc400"/>
<rect x="560" y="64" width="1" height="22" fill="#ffd500"/>
<rect x="560" y="86" width="1" height="7" fill="#ffe500"/>
<rect x="560" y="93" width="1" height="6" fill="#fff500"/>
<rect x="560" y="99" width="1" height="5" fill="#f9ff06"/>
<rect x="560" y="104" width="1" height="6" fill="#e9ff16"/>
<rect x="560" y="110" width="1" height="6" fill="#d9ff26"/>
<rect x="560" y="116" width="1" height="20" fill="#c8ff37"/>
<rect x="561" y="46" width="1" height="12" fill="#ff4300"/>
<rect x="561" y="58" width="1" height="1" fill="#ff6300"/>
<rect x="561" y="59" width="1" height="1" fill="#ff7300"/>
<rect x="561" y="60" width="1" height="1" fill="#ff8400"/>
<rect x="561" y="61" width="1" height="1" fill="#ffa400"/>
<rect x="561" y="62" width="1" height="1" fill="#ffb400"/>
<rect x="561" y="63" width="1" height="1" fill="#ffc400"/>
<rect x="561" y="64" width="1" height="21" fill="#ffd500"/>
<rect x="561" y="85" width="1" height="7" fill="#ffe500"/>
<rect x="561" y="92" width="1" height="5" fill="#fff500"/>
<rect x="561" y="97" width="1" height="6" fill="#f9ff06"/>
<rect x="561" y="103" width="1" height="5" fill="#e9ff16"/>
<rect x="561" y="108" width="1" height="6" fill="#d9ff26"/>
<rect x="561" y="114" width="1" height="18" fill="#c8ff37"/>
<rect x="561" y="132" width="1" height="4" fill="#b8ff47"/>
<rect x="562" y="46" width="1" height="13" fill="#ff4300"/>
<rect x="562" y="59" width="1" height="1" fill="#ff6300"/>
<rect x="562" y="60" width="1" height="1" fill="#ff7300"/>
<rect x="562" y="61" width="1" height="1" fill="#ff8400"/>
<rect x="562" y="62" width="1" height="1" fill="#ff9400"/>
<rect x="562" y="63" width="1" height="1" fill="#ffa400"/>
<rect x="562" y="64" width="1" height="1" fill="#ffc400"/>
<rect x="562" y="65" width="1" height="19" fill="#ffd500"/>
<rect x="562" y="84" width="1" height="7" fill="#ffe500"/>
<rect x="562" y="91" width="1" height="6" fill="#fff500"/>
<rect x="562" y="97" width="1" height="5" fill="#f9ff06"/>
<rect x="562" y="102" width="1" height="6" fill="#e9ff16"/>
<rect x="562" y="108" width="1" height="5" fill="#d9ff26"/>
<rect x="562" y="113" width="1" height="21" fill="#c8ff37"/>
<rect x="562" y="134" width="1" height="2" fill="#b8ff47"/>
<rect x="563" y="46" width="1" height="14" fill="#ff4300"/>
<rect x="563" y="60" width="1" height="1" fill="#ff6300"/>
<rect x="563" y="61" width="1" height="1" fill="#ff7300"/>
<rect x="563" y="62" width="1" height="1" fill="#ff8400"/>
<rect x="563" y="63" width="1" height="1" fill="#ff9400"/>
<rect x="563" y="64" width="1" height="1" fill="#ffa400"/>
<rect x="563" y="65" width="1" height="1" fill="#ffb400"/>
<rect x="563" y="66" width="1" height="1" fill="#ffc400"/>
<rect x="563" y="67" width="1" height="17" fill="#ffd500"/>
<rect x="563" y="84" width="1" height="8" fill="#ffe500"/>
<rect x="563" y="92" width="1" height="5" fill="#fff500"/>
<rect x="563" y="97" width="1" height="5" fill="#f9ff06"/>
<rect x="563" y="102" width="1" height="6" fill="#e9ff16"/>
<rect x="563" y="108" width="1" height="5" fill="#d9ff26"/>
<rect x="563" y="113" width="1" height="22" fill="#c8ff37"/>
<rect x="563" y="135" width="1" height="1" fill="#b8ff47"/>
<rect x="564" y="46" width="1" height="13" fill="#ff4300"/>
<rect x="564" y="59" width="1" height="1" fill="#ff5300"/>
<rect x="564" y="60" width="1" height="1" fill="#ff6300"/>
<rect x="564" y="61" width="1" height="1" fill="#ff7300"/>
<rect x="564" y="62" width="1" height="1" fill="#ff8400"/>
<rect x="564" y="63" width="1" height="1" fill="#ff9400"/>
<rect x="564" y="64" width="1" height="1" fill="#ffb400"/>
<rect x="564" y="65" width="1" height="1" fill="#ffc400"/>
<rect x="564" y="66" width="1" height="17" fill="#ffd500"/>
<rect x="564" y="83" width="1" height="7" fill="#ffe500"/>
<rect x="564" y="90" width="1" height="5" fill="#fff500"/>
<rect x="564" y="95" width="1" height="6" fill="#f9ff06"/>
<rect x="564" y="101" width="1" height="5" fill="#e9ff16"/>
<rect x="564" y="106" width="1" height="5" fill="#d9ff26"/>
<rect x="564" y="111" width="1" height="18" fill="#c8ff37"/>
<rect x="564" y="129" width="1" height="7" fill="#b8ff47"/>
<rect x="565" y="46" width="1" height="11" fill="#ff4300"/>
<rect x="565" y="57" width="1" height="1" fill="#ff5300"/>
<rect x="565" y="58" width="1" height="1" fill="#ff7300"/>
<rect x="565" y="59" width="1" height="1" fill="#ff8400"/>
<rect x="565" y="60" width="1" height="1" fill="#ffa400"/>
<rect x="565" y="61" width="1" height="1" fill="#ffb400"/>
<rect x="565" y="62" width="1" height="20" fill="#ffd500"/>
<rect x="565" y="82" width="1" height="8" fill="#ffe500"/>
<rect x="565" y="90" width="1" height="5" fill="#fff500"/>
<rect x="565" y="95" width="1" height="5" fill="#f9ff06"/>
<rect x="565" y="100" width="1" height="5" fill="#e9ff16"/>
<rect x="565" y="105" width="1" height="5" fill="#d9ff26"/>
<rect x="565" y="110" width="1" height="21" fill="#c8ff37"/>
<rect x="565" y="131" width="1" height="5" fill="#b8ff47"/>
<rect x="566" y="46" width="1" height="2" fill="#ffb400"/>
<rect x="566" y="48" width="1" height="27" fill="#ffc400"/>
<rect x="566" y="75" width="1" height="9" fill="#ffd500"/>
<rect x="566" y="84" width="1" height="6" fill="#ffe500"/>
<rect x="566" y="90" width="1" height="5" fill="#fff500"/>
<rect x="566" y="95" width="1" height="5" fill="#f9ff06"/>
<rect x="566" y="100" width="1" height="5" fill="#e9ff16"/>
<rect x="566" y="105" width="1" height="9" fill="#d9ff26"/>
<rect x="566" y="114" width="1" height="22" fill="#c8ff37"/>
<rect x="567" y="46" width="1" height="4" fill="#ffb400"/>
<rect x="567" y="50" width="1" height="24" fill="#ffc400"/>
<rect x="567" y="74" width="1" height="8" fill="#ffd500"/>
<rect x="567" y="82" width="1" height="6" fill="#ffe500"/>
<rect x="567" y="88" width="1" height="5" fill="#fff500"/>
<rect x="567" y="93" width="1" height="5" fill="#f9ff06"/>
<rect x="567" y="98" width="1" height="4" fill="#e9ff16"/>
<rect x="567" y="102" width="1" height="11" fill="#d9ff26"/>
<rect x="567" y="113" width="1" height="23" fill="#c8ff37"/>
<rect x="568" y="46" width="1" height="4" fill="#ffb400"/>
<rect x="568" y="50" width="1" height="1" fill="#ffc400"/>
<rect x="568" y="51" width="1" height="28" fill="#ffd500"/>
<rect x="568" y="79" width="1" height="7" fill="#ffe500"/>
<rect x="568" y="86" width="1" height="5" fill="#fff500"/>
<rect x="568" y="91" width="1" height="5" fill="#f9ff06"/>
<rect x="568" y="96" width="1" height="4" fill="#e9ff16"/>
<rect x="568" y="100" width="1" height="6" fill="#d9ff26"/>
<rect x="568" y="106" width="1" height="28" fill="#c8ff37"/>
<rect x="568" y="134" width="1" height="2" fill="#b8ff47"/>
<rect x="569" y="46" width="1" height="3" fill="#ffb400"/>
<rect x="569" y="49" width="1" height="29" fill="#ffd500"/>
<rect x="569" y="78" width="1" height="7" fill="#ffe500"/>
<rect x="569" y="85" width="1" height="5" fill="#fff500"/>
<rect x="569" y="90" width="1" height="5" fill="#f9ff06"/>
<rect x="569" y="95" width="1" height="5" fill="#e9ff16"/>
<rect x="569" y="100" width="1" height="4" fill="#d9ff26"/>
<rect x="569" y="104" width="1" height="27" fill="#c8ff37"/>
<rect x="569" y="131" width="1" height="5" fill="#b8ff47"/>
<rect x="570" y="46" width="1" height="5" fill="#ff6300"/>
<rect x="570" y="51" width="1" height="1" fill="#ff8400"/>
<rect x="570" y="52" width="1" height="1" fill="#ffa400"/>
<rect x="570" y="53" width="1" height="24" fill="#ffd500"/>
<rect x="570" y="77" width="1" height="7" fill="#ffe500"/>
<rect x="570" y="84" width="1" height="5" fill="#fff500"/>
<rect x="570" y="89" width="1" height="5" fill="#f9ff06"/>
<rect x="570" y="94" width="1" height="5" fill="#e9ff16"/>
<rect x="570" y="99" width="1" height="5" fill="#d9ff26"/>
<rect x="570" y="104" width="1" height="27" fill="#c8ff37"/>
<rect x="570" y="131" width="1" height="5" fill="#b8ff47"/>
<rect x="571" y="46" width="1" height="6" fill="#ff6300"/>
<rect x="571" y="52" width="1" height="1" fill="#ff9400"/>
<rect x="571" y="53" width="1" height="1" fill="#ffb400"/>
<rect x="571" y="54" width="1" height="21" fill="#ffd500"/>
<rect x="571" y="75" width="1" height="7" fill="#ffe500"/>
<rect x="571" y="82" width="1" height="5" fill="#fff500"/>
<rect x="571" y="87" width="1" height="6" fill="#f9ff06"/>
<rect x="571" y="93" width="1" height="5" fill="#e9ff16"/>
<rect x="571" y="98" width="1" height="5" fill="#d9ff26"/>
<rect x="571" y="103" width="1" height="23" fill="#c8ff37"/>
<rect x="571" y="126" width="1" height="10" fill="#b8ff47"/>
<rect x="572" y="46" width="1" height="7" fill="#ff6300"/>
<rect x="572" y="53" width="1" height="1" fill="#ff8400"/>
<rect x="572" y="54" width="1" height="1" fill="#ffa400"/>
<rect x="572" y="55" width="1" height="1" fill="#ffc400"/>
<rect x="572" y="56" width="1" height="18" fill="#ffd500"/>
<rect x="572" y="74" width="1" height="8" fill="#ffe500"/>
<rect x="572" y="82" width="1" height="5" fill="#fff500"/>
<rect x="572" y="87" width="1" height="5" fill="#f9ff06"/>
<rect x="572" y="92" width="1" height="5" fill="#e9ff16"/>
<rect x="572" y="97" width="1" height="6" fill="#d9ff26"/>
<rect x="572" y="103" width="1" height="19" fill="#c8ff37"/>
<rect x="572" y="122" width="1" height="14" fill="#b8ff47"/>
<rect x="573" y="46" width="1" height="6" fill="#ff6300"/>
<rect x="573" y="52" width="1" height="1" fill="#ff7300"/>
<rect x="573" y="53" width="1" height="1" fill="#ff9400"/>
<rect x="573" y="54" width="1" height="1" fill="#ffb400"/>
<rect x="573" y="55" width="1" height="19" fill="#ffd500"/>
<rect x="573" y="74" width="1" height="8" fill="#ffe500"/>
<rect x="573" y="82" width="1" height="5" fill="#fff500"/>
<rect x="573" y="87" width="1" height="5" fill="#f9ff06"/>
<rect x="573" y="92" width="1" height="6" fill="#e9ff16"/>
<rect x="573" y="98" width="1" height="5" fill="#d9ff26"/>
<rect x="573" y="103" width="1" height="18" fill="#c8ff37"/>
<rect x="573" y="121" width="1" height="15" fill="#b8ff47"/>
<rect x="574" y="46" width="1" height="6" fill="#ff6300"/>
<rect x="574" y="52" width="1" height="1" fill="#ff8400"/>
<rect x="574" y="53" width="1" height="1" fill="#ffa400"/>
<rect x="574" y="54" width="1" height="1" fill="#ffc400"/>
<rect x="574" y="55" width="1" height="19" fill="#ffd500"/>
<rect x="574" y="74" width="1" height="8" fill="#ffe500"/>
<rect x="574" y="82" width="1" height="5" fill="#fff500"/>
<rect x="574" y="87" width="1" height="5" fill="#f9ff06"/>
<rect x="574" y="92" width="1" height="6" fill="#e9ff16"/>
<rect x="574" y="98" width="1" height="6" fill="#d9ff26"/>
<rect x="574" y="104" width="1" height="20" fill="#c8ff37"/>
<rect x="574" y="124" width="1" height="12" fill="#b8ff47"/>
<rect x="575" y="46" width="1" height="5" fill="#ff6300"/>
<rect x="575" y="51" width="1" height="1" fill="#ff8400"/>
<rect x="575" y="52" width="1" height="1" fill="#ffa400"/>
<rect x="575" y="53" width="1" height="1" fill="#ffc400"/>
<rect x="575" y="54" width="1" height="22" fill="#ffd500"/>
<rect x="575" y="76" width="1" height="7" fill="#ffe500"/>
<rect x="575" y="83" width="1" height="5" fill="#fff500"/>
<rect x="575" y="88" width="1" height="6" fill="#f9ff06"/>
<rect x="575" y="94" width="1" height="6" fill="#e9ff16"/>
<rect x="575" y="100" width="1" height="6" fill="#d9ff26"/>
<rect x="575" y="106" width="1" height="28" fill="#c8ff37"/>
<rect x="575" y="134" width="1" height="2" fill="#b8ff47"/>
<rect x="576" y="46" width="1" height="3" fill="#ffb400"/>
<rect x="576" y="49" width="1" height="21" fill="#ffc400"/>
<rect x="576" y="70" width="1" height="7" fill="#ffd500"/>
<rect x="576" y="77" width="1" height="6" fill="#ffe500"/>
<rect x="576" y="83" width="1" height="5" fill="#fff500"/>
<rect x="576" y="88" width="1" height="6" fill="#f9ff06"/>
<rect x="576" y="94" width="1" height="7" fill="#e9ff16"/>
<rect x="576" y="101" width="1" height="11" fill="#d9ff26"/>
<rect x="576" y="112" width="1" height="24" fill="#c8ff37"/>
<rect x="577" y="46" width="1" height="2" fill="#ffb400"/>
<rect x="577" y="48" width="1" height="1" fill="#ffc400"/>
<rect x="577" y="49" width="1" height="26" fill="#ffd500"/>
<rect x="577" y="75" width="1" height="7" fill="#ffe500"/>
<rect x="577" y="82" width="1" height="5" fill="#fff500"/>
<rect x="577" y="87" width="1" height="6" fill="#f9ff06"/>
<rect x="577" y="93" width="1" height="6" fill="#e9ff16"/>
<rect x="577" y="99" width="1" height="9" fill="#d9ff26"/>
<rect x="577" y="108" width="1" height="28" fill="#c8ff37"/>
<rect x="578" y="46" width="1" height="6" fill="#ff9400"/>
<rect x="578" y="52" width="1" height="1" fill="#ffa400"/>
<rect x="578" y="53" width="1" height="1" fill="#ffb400"/>
<rect x="578" y="54" width="1" height="1" fill="#ffc400"/>
<rect x="578" y="55" width="1" height="19" fill="#ffd500"/>
<rect x="578" y="74" width="1" height="6" fill="#ffe500"/>
<rect x="578" y="80" width="1" height="5" fill="#fff500"/>
<rect x="578" y="85" width="1" height="7" fill="#f9ff06"/>
<rect x="578" y="92" width="1" height="6" fill="#e9ff16"/>
<rect x="578" y="98" width="1" height="9" fill="#d9ff26"/>
<rect x="578" y="107" width="1" height="29" fill="#c8ff37"/>
<rect x="579" y="46" width="1" height="6" fill="#ffa400"/>
<rect x="579" y="52" width="1" height="1" fill="#ffb400"/>
<rect x="579" y="53" width="1" height="1" fill="#ffc400"/>
<rect x="579" y="54" width="1" height="19" fill="#ffd500"/>
<rect x="579" y="73" width="1" height="6" fill="#ffe500"/>
<rect x="579" y="79" width="1" height="5" fill="#fff500"/>
<rect x="579" y="84" width="1" height="6" fill="#f9ff06"/>
<rect x="579" y="90" width="1" height="7" fill="#e9ff16"/>
<rect x="579" y="97" width="1" height="9" fill="#d9ff26"/>
<rect x="579" y="106" width="1" height="30" fill="#c8ff37"/>
<rect x="580" y="46" width="1" height="5" fill="#ffa400"/>
<rect x="580" y="51" width="1" height="1" fill="#ffb400"/>
<rect x="580" y="52" width="1" height="1" fill="#ffc400"/>
<rect x="580" y="53" width="1" height="18" fill="#ffd500"/>
<rect x="580" y="71" width="1" height="7" fill="#ffe500"/>
<rect x="580" y="78" width="1" height="5" fill="#fff500"/>
<rect x="580" y="83" width="1" height="6" fill="#f9ff06"/>
<rect x="580" y="89" width="1" height="7" fill="#e9ff16"/>
<rect x="580" y="96" width="1" height="8" fill="#d9ff26"/>
<rect x="580" y="104" width="1" height="27" fill="#c8ff37"/>
<rect x="580" y="131" width="1" height="5" fill="#b8ff47"/>
<rect x="581" y="46" width="1" height="6" fill="#ff9400"/>
<rect x="581" y="52" width="1" height="1" fill="#ffa400"/>
<rect x="581" y="53" width="1" height="1" fill="#ffb400"/>
<rect x="581" y="54" width="1" height="1" fill="#ffc400"/>
<rect x="581" y="55" width="1" height="15" fill="#ffd500"/>
<rect x="581" y="70" width="1" height="7" fill="#ffe500"/>
<rect x="581" y="77" width="1" height="5" fill="#fff500"/>
<rect x="581" y="82" width="1" height="6" fill="#f9ff06"/>
<rect x="581" y="88" width="1" height="7" fill="#e9ff16"/>
<rect x="581" y="95" width="1" height="7" fill="#d9ff26"/>
<rect x="581" y="102" width="1" height="24" fill="#c8ff37"/>
<rect x="581" y="126" width="1" height="10" fill="#b8ff47"/>
<rect x="582" y="46" width="1" height="7" fill="#ffa400"/>
<rect x="582" y="53" width="1" height="2" fill="#ffb400"/>
<rect x="582" y="55" width="1" height="1" fill="#ffc400"/>
<rect x="582" y="56" width="1" height="10" fill="#ffd500"/>
<rect x="582" y="66" width="1" height="8" fill="#ffe500"/>
<rect x="582" y="74" width="1" height="5" fill="#fff500"/>
<rect x="582" y="79" width="1" height="6" fill="#f9ff06"/>
<rect x="582" y="85" width="1" height="8" fill="#e9ff16"/>
<rect x="582" y="93" width="1" height="7" fill="#d9ff26"/>
<rect x="582" y="100" width="1" height="16" fill="#c8ff37"/>
<rect x="582" y="116" width="1" height="20" fill="#b8ff47"/>
<rect x="583" y="46" width="1" height="8" fill="#ffa400"/>
<rect x="583" y="54" width="1" height="1" fill="#ffb400"/>
<rect x="583" y="55" width="1" height="1" fill="#ffc400"/>
<rect x="583" y="56" width="1" height="11" fill="#ffd500"/>
<rect x="583" y="67" width="1" height="7" fill="#ffe500"/>
<rect x="583" y="74" width="1" height="6" fill="#fff500"/>
<rect x="583" y="80" width="1" height="7" fill="#f9ff06"/>
<rect x="583" y="87" width="1" height="7" fill="#e9ff16"/>
<rect x="583" y="94" width="1" height="7" fill="#d9ff26"/>
<rect x="583" y="101" width="1" height="21" fill="#c8ff37"/>
<rect x="583" y="122" width="1" height="14" fill="#b8ff47"/>
<rect x="584" y="46" width="1" height="12" fill="#ff5300"/>
<rect x="584" y="58" width="1" height="1" fill="#ff6300"/>
<rect x="584" y="59" width="1" height="1" fill="#ff8400"/>
<rect x="584" y="60" width="1" height="1" fill="#ff9400"/>
<rect x="584" y="61" width="1" height="1" fill="#ffa400"/>
<rect x="584" y="62" width="1" height="1" fill="#ffc400"/>
<rect x="584" y="63" width="1" height="3" fill="#ffd500"/>
<rect x="584" y="66" width="1" height="7" fill="#ffe500"/>
<rect x="584" y="73" width="1" height="6" fill="#fff500"/>
<rect x="584" y="79" width="1" height="7" fill="#f9ff06"/>
<rect x="584" y="86" width="1" height="7" fill="#e9ff16"/>
<rect x="584" y="93" width="1" height="7" fill="#d9ff26"/>
<rect x="584" y="100" width="1" height="22" fill="#c8ff37"/>
<rect x="584" y="122" width="1" height="14" fill="#b8ff47"/>
<rect x="585" y="46" width="1" height="9" fill="#ff5300"/>
<rect x="585" y="55" width="1" height="1" fill="#ff6300"/>
<rect x="585" y="56" width="1" height="1" fill="#ff7300"/>
<rect x="585" y="57" width="1" height="1" fill="#ff9400"/>
<rect x="585" y="58" width="1" height="1" fill="#ffa400"/>
<rect x="585" y="59" width="1" height="1" fill="#ffc400"/>
<rect x="585" y="60" width="1" height="2" fill="#ffd500"/>
<rect x="585" y="62" width="1" height="7" fill="#ffe500"/>
<rect x="585" y="69" width="1" height="7" fill="#fff500"/>
<rect x="585" y="76" width="1" height="6" fill="#f9ff06"/>
<rect x="585" y="82" width="1" height="8" fill="#e9ff16"/>
<rect x="585" y="90" width="1" height="7" fill="#d9ff26"/>
<rect x="585" y="97" width="1" height="12" fill="#c8ff37"/>
<rect x="585" y="109" width="1" height="27" fill="#b8ff47"/>
<rect x="586" y="46" width="1" height="12" fill="#ff5300"/>
<rect x="586" y="58" width="1" height="1" fill="#ff6300"/>
<rect x="586" y="59" width="1" height="1" fill="#ff8400"/>
<rect x="586" y="60" width="1" height="1" fill="#ff9400"/>
<rect x="586" y="61" width="1" height="1" fill="#ffa400"/>
<rect x="586" y="62" width="1" height="1" fill="#ffb400"/>
<rect x="586" y="63" width="1" height="1" fill="#ffd500"/>
<rect x="586" y="64" width="1" height="6" fill="#ffe500"/>
<rect x="586" y="70" width="1" height="6" fill="#fff500"/>
<rect x="586" y="76" width="1" height="7" fill="#f9ff06"/>
<rect x="586" y="83" width="1" height="9" fill="#e9ff16"/>
<rect x="586" y="92" width="1" height="6" fill="#d9ff26"/>
<rect x="586" y="98" width="1" height="15" fill="#c8ff37"/>
<rect x="586" y="113" width="1" height="23" fill="#b8ff47"/>
<rect x="587" y="46" width="1" height="8" fill="#ff5300"/>
<rect x="587" y="54" width="1" height="1" fill="#ff6300"/>
<rect x="587" y="55" width="1" height="1" fill="#ff8400"/>
<rect x="587" y="56" width="1" height="1" fill="#ffa400"/>
<rect x="587" y="57" width="1" height="1" fill="#ffc400"/>
<rect x="587" y="58" width="1" height="7" fill="#ffd500"/>
<rect x="587" y="65" width="1" height="7" fill="#ffe500"/>
<rect x="587" y="72" width="1" height="6" fill="#fff500"/>
<rect x="587" y="78" width="1" height="8" fill="#f9ff06"/>
<rect x="587" y="86" width="1" height="8" fill="#e9ff16"/>
<rect x="587" y="94" width="1" height="6" fill="#d9ff26"/>
<rect x="587" y="100" width="1" height="25" fill="#c8ff37"/>
<rect x="587" y="125" width="1" height="11" fill="#b8ff47"/>
<rect x="588" y="46" width="1" height="9" fill="#ff4300"/>
<rect x="588" y="55" width="1" height="1" fill="#ff6300"/>
<rect x="588" y="56" width="1" height="1" fill="#ff8400"/>
<rect x="588" y="57" width="1" height="1" fill="#ffa400"/>
<rect x="588" y="58" width="1" height="1" fill="#ffc400"/>
<rect x="588" y="59" width="1" height="6" fill="#ffd500"/>
<rect x="588" y="65" width="1" height="7" fill="#ffe500"/>
<rect x="588" y="72" width="1" height="6" fill="#fff500"/>
<rect x="588" y="78" width="1" height="9" fill="#f9ff06"/>
<rect x="588" y="87" width="1" height="8" fill="#e9ff16"/>
<rect x="588" y="95" width="1" height="6" fill="#d9ff26"/>
<rect x="588" y="101" width="1" height="22" fill="#c8ff37"/>
<rect x="588" y="123" width="1" height="13" fill="#b8ff47"/>
<rect x="589" y="46" width="1" height="10" fill="#ff5300"/>
<rect x="589" y="56" width="1" height="1" fill="#ff6300"/>
<rect x="589" y="57" width="1" height="1" fill="#ff8400"/>
<rect x="589" y="58" width="1" height="1" fill="#ff9400"/>
<rect x="589" y="59" width="1" height="1" fill="#ffa400"/>
<rect x="589" y="60" width="1" height="1" fill="#ffc400"/>
<rect x="589" y="61" width="1" height="3" fill="#ffd500"/>
<rect x="589" y="64" width="1" height="7" fill="#ffe500"/>
<rect x="589" y="71" width="1" height="7" fill="#fff500"/>
<rect x="589" y="78" width="1" height="8" fill="#f9ff06"/>
<rect x="589" y="86" width="1" height="9" fill="#e9ff16"/>
<rect x="589" y="95" width="1" height="6" fill="#d9ff26"/>
<rect x="589" y="101" width="1" height="16" fill="#c8ff37"/>
<rect x="589" y="117" width="1" height="19" fill="#b8ff47"/>
<rect x="590" y="46" width="1" height="11" fill="#ff4300"/>
<rect x="590" y="57" width="1" height="1" fill="#ff5300"/>
<rect x="590" y="58" width="1" height="1" fill="#ff6300"/>
<rect x="590" y="59" width="1" height="1" fill="#ff7300"/>
<rect x="590" y="60" width="1" height="1" fill="#ff9400"/>
<rect x="590" y="61" width="1" height="1" fill="#ffa400"/>
<rect x="590" y="62" width="1" height="1" fill="#ffb400"/>
<rect x="590" y="63" width="1" height="1" fill="#ffc400"/>
<rect x="590" y="64" width="1" height="8" fill="#ffe500"/>
<rect x="590" y="72" width="1" height="6" fill="#fff500"/>
<rect x="590" y="78" width="1" height="9" fill="#f9ff06"/>
<rect x="590" y="87" width="1" height="9" fill="#e9ff16"/>
<rect x="590" y="96" width="1" height="6" fill="#d9ff26"/>
<rect x="590" y="102" width="1" height="17" fill="#c8ff37"/>
<rect x="590" y="119" width="1" height="17" fill="#b8ff47"/>
<rect x="591" y="46" width="1" height="9" fill="#ff4300"/>
<rect x="591" y="55" width="1" height="1" fill="#ff5300"/>
<rect x="591" y="56" width="1" height="1" fill="#ff6300"/>
<rect x="591" y="57" width="1" height="1" fill="#ff8400"/>
<rect x="591" y="58" width="1" height="1" fill="#ffa400"/>
<rect x="591" y="59" width="1" height="1" fill="#ffb400"/>
<rect x="591" y="60" width="1" height="5" fill="#ffd500"/>
<rect x="591" y="65" width="1" height="7" fill="#ffe500"/>
<rect x="591" y="72" width="1" height="7" fill="#fff500"/>
<rect x="591" y="79" width="1" height="9" fill="#f9ff06"/>
<rect x="591" y="88" width="1" height="9" fill="#e9ff16"/>
<rect x="591" y="97" width="1" height="6" fill="#d9ff26"/>
<rect x="591" y="103" width="1" height="21" fill="#c8ff37"/>
<rect x="591" y="124" width="1" height="12" fill="#b8ff47"/>
<rect x="592" y="46" width="1" height="7" fill="#ff5300"/>
<rect x="592" y="53" width="1" height="1" fill="#ff6300"/>
<rect x="592" y="54" width="1" height="1" fill="#ff8400"/>
<rect x="592" y="55" width="1" height="1" fill="#ffa400"/>
<rect x="592" y="56" width="1" height="1" fill="#ffc400"/>
<rect x="592" y="57" width="1" height="8" fill="#ffd500"/>
<rect x="592" y="65" width="1" height="8" fill="#ffe500"/>
<rect x="592" y="73" width="1" height="7" fill="#fff500"/>
<rect x="592" y="80" width="1" height="9" fill="#f9ff06"/>
<rect x="592" y="89" width="1" height="8" fill="#e9ff16"/>
<rect x="592" y="97" width="1" height="6" fill="#d9ff26"/>
<rect x="592" y="103" width="1" height="27" fill="#c8ff37"/>
<rect x="592" y="130" width="1" height="6" fill="#b8ff47"/>
<rect x="593" y="46" width="1" height="9" fill="#ff5300"/>
<rect x="593" y="55" width="1" height="1" fill="#ff6300"/>
<rect x="593" y="56" width="1" height="1" fill="#ff8400"/>
<rect x="593" y="57" width="1" height="1" fill="#ff9400"/>
<rect x="593" y="58" width="1" height="1" fill="#ffb400"/>
<rect x="593" y="59" width="1" height="1" fill="#ffc400"/>
<rect x="593" y="60" width="1" height="5" fill="#ffd500"/>
<rect x="593" y="65" width="1" height="7" fill="#ffe500"/>
<rect x="593" y="72" width="1" height="8" fill="#fff500"/>
<rect x="593" y="80" width="1" height="9" fill="#f9ff06"/>
<rect x="593" y="89" width="1" height="8" fill="#e9ff16"/>
<rect x="593" y="97" width="1" height="6" fill="#d9ff26"/>
<rect x="593" y="103" width="1" height="27" fill="#c8ff37"/>
<rect x="593" y="130" width="1" height="6" fill="#b8ff47"/>
<rect x="594" y="46" width="1" height="11" fill="#ff4300"/>
<rect x="594" y="57" width="1" height="1" fill="#ff5300"/>
<rect x="594" y="58" width="1" height="1" fill="#ff6300"/>
<rect x="594" y="59" width="1" height="1" fill="#ff7300"/>
<rect x="594" y="60" width="1" height="1" fill="#ff8400"/>
<rect x="594" y="61" width="1" height="1" fill="#ffa400"/>
<rect x="594" y="62" width="1" height="1" fill="#ffb400"/>
<rect x="594" y="63" width="1" height="1" fill="#ffc400"/>
<rect x="594" y="64" width="1" height="6" fill="#ffe500"/>
<rect x="594" y="70" width="1" height="8" fill="#fff500"/>
<rect x="594" y="78" width="1" height="9" fill="#f9ff06"/>
<rect x="594" y="87" width="1" height="8" fill="#e9ff16"/>
<rect x="594" y="95" width="1" height="7" fill="#d9ff26"/>
<rect x="594" y="102" width="1" height="22" fill="#c8ff37"/>
<rect x="594" y="124" width="1" height="12" fill="#b8ff47"/>
<rect x="595" y="46" width="1" height="3" fill="#ffc400"/>
<rect x="595" y="49" width="1" height="11" fill="#ffd500"/>
<rect x="595" y="60" width="1" height="7" fill="#ffe500"/>
<rect x="595" y="67" width="1" height="9" fill="#fff500"/>
<rect x="595" y="76" width="1" height="9" fill="#f9ff06"/>
<rect x="595" y="85" width="1" height="9" fill="#e9ff16"/>
<rect x="595" y="94" width="1" height="6" fill="#d9ff26"/>
<rect x="595" y="100" width="1" height="20" fill="#c8ff37"/>
<rect x="595" y="120" width="1" height="16" fill="#b8ff47"/>
<rect x="596" y="46" width="1" height="2" fill="#ffb400"/>
<rect x="596" y="48" width="1" height="1" fill="#ffc400"/>
<rect x="596" y="49" width="1" height="11" fill="#ffd500"/>
<rect x="596" y="60" width="1" height="8" fill="#ffe500"/>
<rect x="596" y="68" width="1" height="9" fill="#fff500"/>
<rect x="596" y="77" width="1" height="9" fill="#f9ff06"/>
<rect x="596" y="86" width="1" height="8" fill="#e9ff16"/>
<rect x="596" y="94" width="1" height="6" fill="#d9ff26"/>
<rect x="596" y="100" width="1" height="26" fill="#c8ff37"/>
<rect x="596" y="126" width="1" height="10" fill="#b8ff47"/>
<rect x="597" y="46" width="1" height="2" fill="#ffb400"/>
<rect x="597" y="48" width="1" height="1" fill="#ffc400"/>
<rect x="597" y="49" width="1" height="11" fill="#ffd500"/>
<rect x="597" y="60" width="1" height="8" fill="#ffe500"/>
<rect x="597" y="68" width="1" height="9" fill="#fff500"/>
<rect x="597" y="77" width="1" height="10" fill="#f9ff06"/>
<rect x="597" y="87" width="1" height="7" fill="#e9ff16"/>
<rect x="597" y="94" width="1" height="7" fill="#d9ff26"/>
<rect x="597" y="101" width="1" height="32" fill="#c8ff37"/>
<rect x="597" y="133" width="1" height="3" fill="#b8ff47"/>
<rect x="598" y="46" width="1" height="2" fill="#ffb400"/>
<rect x="598" y="48" width="1" height="1" fill="#ffc400"/>
<rect x="598" y="49" width="1" height="10" fill="#ffd500"/>
<rect x="598" y="59" width="1" height="7" fill="#ffe500"/>
<rect x="598" y="66" width="1" height="9" fill="#fff500"/>
<rect x="598" y="75" width="1" height="10" fill="#f9ff06"/>
<rect x="598" y="85" width="1" height="8" fill="#e9ff16"/>
<rect x="598" y="93" width="1" height="7" fill="#d9ff26"/>
<rect x="598" y="100" width="1" height="31" fill="#c8ff37"/>
<rect x="598" y="131" width="1" height="5" fill="#b8ff47"/>
<rect x="599" y="46" width="1" height="2" fill="#ffb400"/>
<rect x="599" y="48" width="1" height="1" fill="#ffc400"/>
<rect x="599" y="49" width="1" height="8" fill="#ffd500"/>
<rect x="599" y="57" width="1" height="8" fill="#ffe500"/>
<rect x="599" y="65" width="1" height="7" fill="#fff500"/>
<rect x="599" y="72" width="1" height="11" fill="#f9ff06"/>
<rect x="599" y="83" width="1" height="10" fill="#e9ff16"/>
<rect x="599" y="93" width="1" height="6" fill="#d9ff26"/>
<rect x="599" y="99" width="1" height="29" fill="#c8ff37"/>
<rect x="599" y="128" width="1" height="8" fill="#b8ff47"/>
<rect x="600" y="46" width="1" height="3" fill="#ffc400"/>
<rect x="600" y="49" width="1" height="6" fill="#ffd500"/>
<rect x="600" y="55" width="1" height="7" fill="#ffe500"/>
<rect x="600" y="62" width="1" height="6" fill="#fff500"/>
<rect x="600" y="68" width="1" height="11" fill="#f9ff06"/>
<rect x="600" y="79" width="1" height="12" fill="#e9ff16"/>
<rect x="600" y="91" width="1" height="6" fill="#d9ff26"/>
<rect x="600" y="97" width="1" height="23" fill="#c8ff37"/>
<rect x="600" y="120" width="1" height="16" fill="#b8ff47"/>
<rect x="601" y="46" width="1" height="3" fill="#ffc400"/>
<rect x="601" y="49" width="1" height="4" fill="#ffd500"/>
<rect x="601" y="53" width="1" height="7" fill="#ffe500"/>
<rect x="601" y="60" width="1" height="6" fill="#fff500"/>
<rect x="601" y="66" width="1" height="10" fill="#f9ff06"/>
<rect x="601" y="76" width="1" height="12" fill="#e9ff16"/>
<rect x="601" y="88" width="1" height="7" fill="#d9ff26"/>
<rect x="601" y="95" width="1" height="15" fill="#c8ff37"/>
<rect x="601" y="110" width="1" height="26" fill="#b8ff47"/>
<rect x="602" y="46" width="1" height="2" fill="#ffc400"/>
<rect x="602" y="48" width="1" height="6" fill="#ffd500"/>
<rect x="602" y="54" width="1" height="7" fill="#ffe500"/>
<rect x="602" y="61" width="1" height="7" fill="#fff500"/>
<rect x="602" y="68" width="1" height="9" fill="#f9ff06"/>
<rect x="602" y="77" width="1" height="11" fill="#e9ff16"/>
<rect x="602" y="88" width="1" height="6" fill="#d9ff26"/>
<rect x="602" y="94" width="1" height="14" fill="#c8ff37"/>
<rect x="602" y="108" width="1" height="23" fill="#b8ff47"/>
<rect x="602" y="131" width="1" height="5" fill="#a8ff57"/>
<rect x="603" y="46" width="1" height="2" fill="#ffb400"/>
<rect x="603" y="48" width="1" height="9" fill="#ffd500"/>
<rect x="603" y="57" width="1" height="6" fill="#ffe500"/>
<rect x="603" y="63" width="1" height="7" fill="#fff500"/>
<rect x="603" y="70" width="1" height="10" fill="#f9ff06"/>
<rect x="603" y="80" width="1" height="8" fill="#e9ff16"/>
<rect x="603" y="88" width="1" height="6" fill="#d9ff26"/>
<rect x="603" y="94" width="1" height="13" fill="#c8ff37"/>
<rect x="603" y="107" width="1" height="15" fill="#b8ff47"/>
<rect x="603" y="122" width="1" height="14" fill="#a8ff57"/>
<rect x="604" y="46" width="1" height="2" fill="#ffc400"/>
<rect x="604" y="48" width="1" height="9" fill="#ffd500"/>
<rect x="604" y="57" width="1" height="6" fill="#ffe500"/>
<rect x="604" y="63" width="1" height="8" fill="#fff500"/>
<rect x="604" y="71" width="1" height="8" fill="#f9ff06"/>
<rect x="604" y="79" width="1" height="7" fill="#e9ff16"/>
<rect x="604" y="86" width="1" height="6" fill="#d9ff26"/>
<rect x="604" y="92" width="1" height="7" fill="#c8ff37"/>
<rect x="604" y="99" width="1" height="10" fill="#b8ff47"/>
<rect x="604" y="109" width="1" height="18" fill="#a8ff57"/>
<rect x="604" y="127" width="1" height="9" fill="#98ff67"/>
<rect x="605" y="46" width="1" height="1" fill="#ffc400"/>
<rect x="605" y="47" width="1" height="8" fill="#ffd500"/>
<rect x="605" y="55" width="1" height="6" fill="#ffe500"/>
<rect x="605" y="61" width="1" height="8" fill="#fff500"/>
<rect x="605" y="69" width="1" height="7" fill="#f9ff06"/>
<rect x="605" y="76" width="1" height="8" fill="#e9ff16"/>
<rect x="605" y="84" width="1" height="5" fill="#d9ff26"/>
<rect x="605" y="89" width="1" height="5" fill="#c8ff37"/>
<rect x="605" y="94" width="1" height="5" fill="#b8ff47"/>
<rect x="605" y="99" width="1" height="16" fill="#a8ff57"/>
<rect x="605" y="115" width="1" height="19" fill="#98ff67"/>
<rect x="605" y="134" width="1" height="2" fill="#88ff77"/>
<rect x="606" y="46" width="1" height="5" fill="#ffa400"/>
<rect x="606" y="51" width="1" height="1" fill="#ffb400"/>
<rect x="606" y="52" width="1" height="3" fill="#ffd500"/>
<rect x="606" y="55" width="1" height="6" fill="#ffe500"/>
<rect x="606" y="61" width="1" height="8" fill="#fff500"/>
<rect x="606" y="69" width="1" height="7" fill="#f9ff06"/>
<rect x="606" y="76" width="1" height="6" fill="#e9ff16"/>
<rect x="606" y="82" width="1" height="5" fill="#d9ff26"/>
<rect x="606" y="87" width="1" height="5" fill="#c8ff37"/>
<rect x="606" y="92" width="1" height="5" fill="#b8ff47"/>
<rect x="606" y="97" width="1" height="14" fill="#a8ff57"/>
<rect x="606" y="111" width="1" height="17" fill="#98ff67"/>
<rect x="606" y="128" width="1" height="8" fill="#88ff77"/>
<rect x="607" y="46" width="1" height="6" fill="#ffa400"/>
<rect x="607" y="52" width="1" height="2" fill="#ffb400"/>
<rect x="607" y="54" width="1" height="1" fill="#ffc400"/>
<rect x="607" y="55" width="1" height="3" fill="#ffd500"/>
<rect x="607" y="58" width="1" height="5" fill="#ffe500"/>
<rect x="607" y="63" width="1" height="8" fill="#fff500"/>
<rect x="607" y="71" width="1" height="7" fill="#f9ff06"/>
<rect x="607" y="78" width="1" height="5" fill="#e9ff16"/>
<rect x="607" y="83" width="1" height="5" fill="#d9ff26"/>
<rect x="607" y="88" width="1" height="4" fill="#c8ff37"/>
<rect x="607" y="92" width="1" height="5" fill="#b8ff47"/>
<rect x="607" y="97" width="1" height="15" fill="#a8ff57"/>
<rect x="607" y="112" width="1" height="15" fill="#98ff67"/>
<rect x="607" y="127" width="1" height="9" fill="#88ff77"/>
<rect x="608" y="46" width="1" height="6" fill="#ffa400"/>
<rect x="608" y="52" width="1" height="1" fill="#ffb400"/>
<rect x="608" y="53" width="1" height="1" fill="#ffc400"/>
<rect x="608" y="54" width="1" height="6" fill="#ffd500"/>
<rect x="608" y="60" width="1" height="5" fill="#ffe500"/>
<rect x="608" y="65" width="1" height="8" fill="#fff500"/>
<rect x="608" y="73" width="1" height="6" fill="#f9ff06"/>
<rect x="608" y="79" width="1" height="5" fill="#e9ff16"/>
<rect x="608" y="84" width="1" height="4" fill="#d9ff26"/>
<rect x="608" y="88" width="1" height="4" fill="#c8ff37"/>
<rect x="608" y="92" width="1" height="6" fill="#b8ff47"/>
<rect x="608" y="98" width="1" height="12" fill="#a8ff57"/>
<rect x="608" y="110" width="1" height="13" fill="#98ff67"/>
<rect x="608" y="123" width="1" height="13" fill="#88ff77"/>
<rect x="609" y="46" width="1" height="5" fill="#ffa400"/>
<rect x="609" y="51" width="1" height="1" fill="#ffb400"/>
<rect x="609" y="52" width="1" height="1" fill="#ffc400"/>
<rect x="609" y="53" width="1" height="7" fill="#ffd500"/>
<rect x="609" y="60" width="1" height="6" fill="#ffe500"/>
<rect x="609" y="66" width="1" height="8" fill="#fff500"/>
<rect x="609" y="74" width="1" height="5" fill="#f9ff06"/>
<rect x="609" y="79" width="1" height="4" fill="#e9ff16"/>
<rect x="609" y="83" width="1" height="4" fill="#d9ff26"/>
<rect x="609" y="87" width="1" height="5" fill="#c8ff37"/>
<rect x="609" y="92" width="1" height="4" fill="#b8ff47"/>
<rect x="609" y="96" width="1" height="11" fill="#a8ff57"/>
<rect x="609" y="107" width="1" height="11" fill="#98ff67"/>
<rect x="609" y="118" width="1" height="18" fill="#88ff77"/>
<rect x="610" y="46" width="1" height="5" fill="#ffa400"/>
<rect x="610" y="51" width="1" height="1" fill="#ffb400"/>
<rect x="610" y="52" width="1" height="1" fill="#ffc400"/>
<rect x="610" y="53" width="1" height="8" fill="#ffd500"/>
<rect x="610" y="61" width="1" height="6" fill="#ffe500"/>
<rect x="610" y="67" width="1" height="8" fill="#fff500"/>
<rect x="610" y="75" width="1" height="5" fill="#f9ff06"/>
<rect x="610" y="80" width="1" height="4" fill="#e9ff16"/>
<rect x="610" y="84" width="1" height="3" fill="#d9ff26"/>
<rect x="610" y="87" width="1" height="5" fill="#c8ff37"/>
<rect x="610" y="92" width="1" height="5" fill="#b8ff47"/>
<rect x="610" y="97" width="1" height="9" fill="#a8ff57"/>
<rect x="610" y="106" width="1" height="10" fill="#98ff67"/>
<rect x="610" y="116" width="1" height="20" fill="#88ff77"/>
<rect x="611" y="46" width="1" height="6" fill="#ffa400"/>
<rect x="611" y="52" width="1" height="1" fill="#ffb400"/>
<rect x="611" y="53" width="1" height="1" fill="#ffc400"/>
<rect x="611" y="54" width="1" height="8" fill="#ffd500"/>
<rect x="611" y="62" width="1" height="6" fill="#ffe500"/>
<rect x="611" y="68" width="1" height="8" fill="#fff500"/>
<rect x="611" y="76" width="1" height="4" fill="#f9ff06"/>
<rect x="611" y="80" width="1" height="4" fill="#e9ff16"/>
<rect x="611" y="84" width="1" height="4" fill="#d9ff26"/>
<rect x="611" y="88" width="1" height="5" fill="#c8ff37"/>
<rect x="611" y="93" width="1" height="5" fill="#b8ff47"/>
<rect x="611" y="98" width="1" height="8" fill="#a8ff57"/>
<rect x="611" y="106" width="1" height="9" fill="#98ff67"/>
<rect x="611" y="115" width="1" height="21" fill="#88ff77"/>
<rect x="612" y="46" width="1" height="3" fill="#ffa400"/>
<rect x="612" y="49" width="1" height="1" fill="#ffb400"/>
<rect x="612" y="50" width="1" height="14" fill="#ffd500"/>
<rect x="612" y="64" width="1" height="6" fill="#ffe500"/>
<rect x="612" y="70" width="1" height="8" fill="#fff500"/>
<rect x="612" y="78" width="1" height="4" fill="#f9ff06"/>
<rect x="612" y="82" width="1" height="4" fill="#e9ff16"/>
<rect x="612" y="86" width="1" height="4" fill="#d9ff26"/>
<rect x="612" y="90" width="1" height="5" fill="#c8ff37"/>
<rect x="612" y="95" width="1" height="5" fill="#b8ff47"/>
<rect x="612" y="100" width="1" height="8" fill="#a8ff57"/>
<rect x="612" y="108" width="1" height="8" fill="#98ff67"/>
<rect x="612" y="116" width="1" height="20" fill="#88ff77"/>
<rect x="613" y="46" width="1" height="4" fill="#ff9400"/>
<rect x="613" y="50" width="1" height="1" fill="#ffb400"/>
<rect x="613" y="51" width="1" height="15" fill="#ffd500"/>
<rect x="613" y="66" width="1" height="7" fill="#ffe500"/>
<rect x="613" y="73" width="1" height="7" fill="#fff500"/>
<rect x="613" y="80" width="1" height="5" fill="#f9ff06"/>
<rect x="613" y="85" width="1" height="4" fill="#e9ff16"/>
<rect x="613" y="89" width="1" height="4" fill="#d9ff26"/>
<rect x="613" y="93" width="1" height="4" fill="#c8ff37"/>
<rect x="613" y="97" width="1" height="6" fill="#b8ff47"/>
<rect x="613" y="103" width="1" height="7" fill="#a8ff57"/>
<rect x="613" y="110" width="1" height="7" fill="#98ff67"/>
<rect x="613" y="117" width="1" height="19" fill="#88ff77"/>
<rect x="614" y="46" width="1" height="3" fill="#ff9400"/>
<rect x="614" y="49" width="1" height="1" fill="#ffa400"/>
<rect x="614" y="50" width="1" height="1" fill="#ffc400"/>
<rect x="614" y="51" width="1" height="16" fill="#ffd500"/>
<rect x="614" y="67" width="1" height="7" fill="#ffe500"/>
<rect x="614" y="74" width="1" height="7" fill="#fff500"/>
<rect x="614" y="81" width="1" height="5" fill="#f9ff06"/>
<rect x="614" y="86" width="1" height="4" fill="#e9ff16"/>
<rect x="614" y="90" width="1" height="4" fill="#d9ff26"/>
<rect x="614" y="94" width="1" height="5" fill="#c8ff37"/>
<rect x="614" y="99" width="1" height="5" fill="#b8ff47"/>
<rect x="614" y="104" width="1" height="6" fill="#a8ff57"/>
<rect x="614" y="110" width="1" height="26" fill="#98ff67"/>
<rect x="615" y="46" width="1" height="6" fill="#ffa400"/>
<rect x="615" y="52" width="1" height="1" fill="#ffb400"/>
<rect x="615" y="53" width="1" height="1" fill="#ffc400"/>
<rect x="615" y="54" width="1" height="13" fill="#ffd500"/>
<rect x="615" y="67" width="1" height="7" fill="#ffe500"/>
<rect x="615" y="74" width="1" height="7" fill="#fff500"/>
<rect x="615" y="81" width="1" height="5" fill="#f9ff06"/>
<rect x="615" y="86" width="1" height="4" fill="#e9ff16"/>
<rect x="615" y="90" width="1" height="4" fill="#d9ff26"/>
<rect x="615" y="94" width="1" height="5" fill="#c8ff37"/>
<rect x="615" y="99" width="1" height="5" fill="#b8ff47"/>
<rect x="615" y="104" width="1" height="5" fill="#a8ff57"/>
<rect x="615" y="109" width="1" height="27" fill="#98ff67"/>
<rect x="616" y="46" width="1" height="4" fill="#ffa400"/>
<rect x="616" y="50" width="1" height="1" fill="#ffb400"/>
<rect x="616" y="51" width="1" height="1" fill="#ffc400"/>
<rect x="616" y="52" width="1" height="12" fill="#ffd500"/>
<rect x="616" y="64" width="1" height="7" fill="#ffe500"/>
<rect x="616" y="71" width="1" height="7" fill="#fff500"/>
<rect x="616" y="78" width="1" height="5" fill="#f9ff06"/>
<rect x="616" y="83" width="1" height="5" fill="#e9ff16"/>
<rect x="616" y="88" width="1" height="4" fill="#d9ff26"/>
<rect x="616" y="92" width="1" height="5" fill="#c8ff37"/>
<rect x="616" y="97" width="1" height="4" fill="#b8ff47"/>
<rect x="616" y="101" width="1" height="4" fill="#a8ff57"/>
<rect x="616" y="105" width="1" height="5" fill="#98ff67"/>
<rect x="616" y="110" width="1" height="26" fill="#88ff77"/>
<rect x="617" y="46" width="1" height="4" fill="#ff9400"/>
<rect x="617" y="50" width="1" height="1" fill="#ffa400"/>
<rect x="617" y="51" width="1" height="1" fill="#ffb400"/>
<rect x="617" y="52" width="1" height="9" fill="#ffd500"/>
<rect x="617" y="61" width="1" height="7" fill="#ffe500"/>
<rect x="617" y="68" width="1" height="7" fill="#fff500"/>
<rect x="617" y="75" width="1" height="6" fill="#f9ff06"/>
<rect x="617" y="81" width="1" height="5" fill="#e9ff16"/>
<rect x="617" y="86" width="1" height="4" fill="#d9ff26"/>
<rect x="617" y="90" width="1" height="4" fill="#c8ff37"/>
<rect x="617" y="94" width="1" height="5" fill="#b8ff47"/>
<rect x="617" y="99" width="1" height="3" fill="#a8ff57"/>
<rect x="617" y="102" width="1" height="4" fill="#98ff67"/>
<rect x="617" y="106" width="1" height="30" fill="#88ff77"/>
<rect x="618" y="46" width="1" height="6" fill="#ff9400"/>
<rect x="618" y="52" width="1" height="1" fill="#ffa400"/>
<rect x="618" y="53" width="1" height="1" fill="#ffb400"/>
<rect x="618" y="54" width="1" height="8" fill="#ffd500"/>
<rect x="618" y="62" width="1" height="6" fill="#ffe500"/>
<rect x="618" y="68" width="1" height="8" fill="#fff500"/>
<rect x="618" y="76" width="1" height="5" fill="#f9ff06"/>
<rect x="618" y="81" width="1" height="5" fill="#e9ff16"/>
<rect x="618" y="86" width="1" height="4" fill="#d9ff26"/>
<rect x="618" y="90" width="1" height="5" fill="#c8ff37"/>
<rect x="618" y="95" width="1" height="4" fill="#b8ff47"/>
<rect x="618" y="99" width="1" height="3" fill="#a8ff57"/>
<rect x="618" y="102" width="1" height="3" fill="#98ff67"/>
<rect x="618" y="105" width="1" height="31" fill="#88ff77"/>
<rect x="619" y="46" width="1" height="4" fill="#ffa400"/>
<rect x="619" y="50" width="1" height="1" fill="#ffb400"/>
<rect x="619" y="51" width="1" height="1" fill="#ffc400"/>
<rect x="619" y="52" width="1" height="10" fill="#ffd500"/>
<rect x="619" y="62" width="1" height="6" fill="#ffe500"/>
<rect x="619" y="68" width="1" height="9" fill="#fff500"/>
<rect x="619" y="77" width="1" height="5" fill="#f9ff06"/>
<rect x="619" y="82" width="1" height="5" fill="#e9ff16"/>
<rect x="619" y="87" width="1" height="4" fill="#d9ff26"/>
<rect x="619" y="91" width="1" height="5" fill="#c8ff37"/>
<rect x="619" y="96" width="1" height="4" fill="#b8ff47"/>
<rect x="619" y="100" width="1" height="3" fill="#a8ff57"/>
<rect x="619" y="103" width="1" height="3" fill="#98ff67"/>
<rect x="619" y="106" width="1" height="30" fill="#88ff77"/>
<rect x="620" y="46" width="1" height="4" fill="#ff9400"/>
<rect x="620" y="50" width="1" height="1" fill="#ffa400"/>
<rect x="620" y="51" width="1" height="1" fill="#ffc400"/>
<rect x="620" y="52" width="1" height="11" fill="#ffd500"/>
<rect x="620" y="63" width="1" height="7" fill="#ffe500"/>
<rect x="620" y="70" width="1" height="8" fill="#fff500"/>
<rect x="620" y="78" width="1" height="5" fill="#f9ff06"/>
<rect x="620" y="83" width="1" height="5" fill="#e9ff16"/>
<rect x="620" y="88" width="1" height="5" fill="#d9ff26"/>
<rect x="620" y="93" width="1" height="4" fill="#c8ff37"/>
<rect x="620" y="97" width="1" height="4" fill="#b8ff47"/>
<rect x="620" y="101" width="1" height="3" fill="#a8ff57"/>
<rect x="620" y="104" width="1" height="3" fill="#98ff67"/>
<rect x="620" y="107" width="1" height="29" fill="#88ff77"/>
<rect x="621" y="46" width="1" height="4" fill="#ff9400"/>
<rect x="621" y="50" width="1" height="1" fill="#ffb400"/>
<rect x="621" y="51" width="1" height="13" fill="#ffd500"/>
<rect x="621" y="64" width="1" height="7" fill="#ffe500"/>
<rect x="621" y="71" width="1" height="8" fill="#fff500"/>
<rect x="621" y="79" width="1" height="6" fill="#f9ff06"/>
<rect x="621" y="85" width="1" height="4" fill="#e9ff16"/>
<rect x="621" y="89" width="1" height="5" fill="#d9ff26"/>
<rect x="621" y="94" width="1" height="4" fill="#c8ff37"/>
<rect x="621" y="98" width="1" height="4" fill="#b8ff47"/>
<rect x="621" y="102" width="1" height="3" fill="#a8ff57"/>
<rect x="621" y="105" width="1" height="3" fill="#98ff67"/>
<rect x="621" y="108" width="1" height="28" fill="#88ff77"/>
<rect x="622" y="46" width="1" height="5" fill="#ffa400"/>
<rect x="622" y="51" width="1" height="1" fill="#ffb400"/>
<rect x="622" y="52" width="1" height="1" fill="#ffc400"/>
<rect x="622" y="53" width="1" height="12" fill="#ffd500"/>
<rect x="622" y="65" width="1" height="6" fill="#ffe500"/>
<rect x="622" y="71" width="1" height="9" fill="#fff500"/>
<rect x="622" y="80" width="1" height="5" fill="#f9ff06"/>
<rect x="622" y="85" width="1" height="5" fill="#e9ff16"/>
<rect x="622" y="90" width="1" height="4" fill="#d9ff26"/>
<rect x="622" y="94" width="1" height="4" fill="#c8ff37"/>
<rect x="622" y="98" width="1" height="4" fill="#b8ff47"/>
<rect x="622" y="102" width="1" height="3" fill="#a8ff57"/>
<rect x="622" y="105" width="1" height="4" fill="#98ff67"/>
<rect x="622" y="109" width="1" height="27" fill="#88ff77"/>
<rect x="623" y="46" width="1" height="5" fill="#ffa400"/>
<rect x="623" y="51" width="1" height="1" fill="#ffb400"/>
<rect x="623" y="52" width="1" height="1" fill="#ffc400"/>
<rect x="623" y="53" width="1" height="9" fill="#ffd500"/>
<rect x="623" y="62" width="1" height="6" fill="#ffe500"/>
<rect x="623" y="68" width="1" height="8" fill="#fff500"/>
<rect x="623" y="76" width="1" height="7" fill="#f9ff06"/>
<rect x="623" y="83" width="1" height="5" fill="#e9ff16"/>
<rect x="623" y="88" width="1" height="4" fill="#d9ff26"/>
<rect x="623" y="92" width="1" height="5" fill="#c8ff37"/>
<rect x="623" y="97" width="1" height="3" fill="#b8ff47"/>
<rect x="623" y="100" width="1" height="4" fill="#a8ff57"/>
<rect x="623" y="104" width="1" height="3" fill="#98ff67"/>
<rect x="623" y="107" width="1" height="29" fill="#88ff77"/>
<rect x="624" y="46" width="1" height="5" fill="#ffa400"/>
<rect x="624" y="51" width="1" height="1" fill="#ffb400"/>
<rect x="624" y="52" width="1" height="1" fill="#ffc400"/>
<rect x="624" y="53" width="1" height="8" fill="#ffd500"/>
<rect x="624" y="61" width="1" height="6" fill="#ffe500"/>
<rect x="624" y="67" width="1" height="8" fill="#fff500"/>
<rect x="624" y="75" width="1" height="7" fill="#f9ff06"/>
<rect x="624" y="82" width="1" height="5" fill="#e9ff16"/>
<rect x="624" y="87" width="1" height="5" fill="#d9ff26"/>
<rect x="624" y="92" width="1" height="4" fill="#c8ff37"/>
<rect x="624" y="96" width="1" height="4" fill="#b8ff47"/>
<rect x="624" y="100" width="1" height="3" fill="#a8ff57"/>
<rect x="624" y="103" width="1" height="3" fill="#98ff67"/>
<rect x="624" y="106" width="1" height="30" fill="#88ff77"/>
<rect x="625" y="46" width="1" height="3" fill="#ffb400"/>
<rect x="625" y="49" width="1" height="1" fill="#ffc400"/>
<rect x="625" y="50" width="1" height="13" fill="#ffd500"/>
<rect x="625" y="63" width="1" height="6" fill="#ffe500"/>
<rect x="625" y="69" width="1" height="9" fill="#fff500"/>
<rect x="625" y="78" width="1" height="6" fill="#f9ff06"/>
<rect x="625" y="84" width="1" height="5" fill="#e9ff16"/>
<rect x="625" y="89" width="1" height="5" fill="#d9ff26"/>
<rect x="625" y="94" width="1" height="3" fill="#c8ff37"/>
<rect x="625" y="97" width="1" height="4" fill="#b8ff47"/>
<rect x="625" y="101" width="1" height="3" fill="#a8ff57"/>
<rect x="625" y="104" width="1" height="4" fill="#98ff67"/>
<rect x="625" y="108" width="1" height="28" fill="#88ff77"/>
<rect x="626" y="46" width="1" height="5" fill="#ffc400"/>
<rect x="626" y="51" width="1" height="12" fill="#ffd500"/>
<rect x="626" y="63" width="1" height="7" fill="#ffe500"/>
<rect x="626" y="70" width="1" height="9" fill="#fff500"/>
<rect x="626" y="79" width="1" height="5" fill="#f9ff06"/>
<rect x="626" y="84" width="1" height="5" fill="#e9ff16"/>
<rect x="626" y="89" width="1" height="5" fill="#d9ff26"/>
<rect x="626" y="94" width="1" height="4" fill="#c8ff37"/>
<rect x="626" y="98" width="1" height="3" fill="#b8ff47"/>
<rect x="626" y="101" width="1" height="3" fill="#a8ff57"/>
<rect x="626" y="104" width="1" height="4" fill="#98ff67"/>
<rect x="626" y="108" width="1" height="28" fill="#88ff77"/>
<rect x="627" y="46" width="1" height="3" fill="#ffb400"/>
<rect x="627" y="49" width="1" height="1" fill="#ffc400"/>
<rect x="627" y="50" width="1" height="12" fill="#ffd500"/>
<rect x="627" y="62" width="1" height="7" fill="#ffe500"/>
<rect x="627" y="69" width="1" height="9" fill="#fff500"/>
<rect x="627" y="78" width="1" height="6" fill="#f9ff06"/>
<rect x="627" y="84" width="1" height="5" fill="#e9ff16"/>
<rect x="627" y="89" width="1" height="5" fill="#d9ff26"/>
<rect x="627" y="94" width="1" height="3" fill="#c8ff37"/>
<rect x="627" y="97" width="1" height="4" fill="#b8ff47"/>
<rect x="627" y="101" width="1" height="3" fill="#a8ff57"/>
<rect x="627" y="104" width="1" height="4" fill="#98ff67"/>
<rect x="627" y="108" width="1" height="28" fill="#88ff77"/>
<rect x="628" y="46" width="1" height="5" fill="#ffc400"/>
<rect x="628" y="51" width="1" height="12" fill="#ffd500"/>
<rect x="628" y="63" width="1" height="6" fill="#ffe500"/>
<rect x="628" y="69" width="1" height="9" fill="#fff500"/>
<rect x="628" y="78" width="1" height="6" fill="#f9ff06"/>
<rect x="628" y="84" width="1" height="6" fill="#e9ff16"/>
<rect x="628" y="90" width="1" height="4" fill="#d9ff26"/>
<rect x="628" y="94" width="1" height="4" fill="#c8ff37"/>
<rect x="628" y="98" width="1" height="3" fill="#b8ff47"/>
<rect x="628" y="101" width="1" height="4" fill="#a8ff57"/>
<rect x="628" y="105" width="1" height="3" fill="#98ff67"/>
<rect x="628" y="108" width="1" height="28" fill="#88ff77"/>
<rect x="629" y="46" width="1" height="5" fill="#ffb400"/>
<rect x="629" y="51" width="1" height="2" fill="#ffc400"/>
<rect x="629" y="53" width="1" height="12" fill="#ffd500"/>
<rect x="629" y="65" width="1" height="7" fill="#ffe500"/>
<rect x="629" y="72" width="1" height="9" fill="#fff500"/>
<rect x="629" y="81" width="1" height="6" fill="#f9ff06"/>
<rect x="629" y="87" width="1" height="5" fill="#e9ff16"/>
<rect x="629" y="92" width="1" height="4" fill="#d9ff26"/>
<rect x="629" y="96" width="1" height="4" fill="#c8ff37"/>
<rect x="629" y="100" width="1" height="3" fill="#b8ff47"/>
<rect x="629" y="103" width="1" height="4" fill="#a8ff57"/>
<rect x="629" y="107" width="1" height="3" fill="#98ff67"/>
<rect x="629" y="110" width="1" height="26" fill="#88ff77"/>
<rect x="630" y="46" width="1" height="4" fill="#ffb400"/>
<rect x="630" y="50" width="1" height="2" fill="#ffc400"/>
<rect x="630" y="52" width="1" height="14" fill="#ffd500"/>
<rect x="630" y="66" width="1" height="7" fill="#ffe500"/>
<rect x="630" y="73" width="1" height="9" fill="#fff500"/>
<rect x="630" y="82" width="1" height="6" fill="#f9ff06"/>
<rect x="630" y="88" width="1" height="5" fill="#e9ff16"/>
<rect x="630" y="93" width="1" height="4" fill="#d9ff26"/>
<rect x="630" y="97" width="1" height="3" fill="#c8ff37"/>
<rect x="630" y="100" width="1" height="4" fill="#b8ff47"/>
<rect x="630" y="104" width="1" height="3" fill="#a8ff57"/>
<rect x="630" y="107" width="1" height="4" fill="#98ff67"/>
<rect x="630" y="111" width="1" height="25" fill="#88ff77"/>
<rect x="631" y="46" width="1" height="5" fill="#ffb400"/>
<rect x="631" y="51" width="1" height="1" fill="#ffc400"/>
<rect x="631" y="52" width="1" height="11" fill="#ffd500"/>
<rect x="631" y="63" width="1" height="7" fill="#ffe500"/>
<rect x="631" y="70" width="1" height="9" fill="#fff500"/>
<rect x="631" y="79" width="1" height="6" fill="#f9ff06"/>
<rect x="631" y="85" width="1" height="6" fill="#e9ff16"/>
<rect x="631" y="91" width="1" height="4" fill="#d9ff26"/>
<rect x="631" y="95" width="1" height="4" fill="#c8ff37"/>
<rect x="631" y="99" width="1" height="3" fill="#b8ff47"/>
<rect x="631" y="102" width="1" height="3" fill="#a8ff57"/>
<rect x="631" y="105" width="1" height="4" fill="#98ff67"/>
<rect x="631" y="109" width="1" height="27" fill="#88ff77"/>
<rect x="632" y="46" width="1" height="6" fill="#ffc400"/>
<rect x="632" y="52" width="1" height="10" fill="#ffd500"/>
<rect x="632" y="62" width="1" height="6" fill="#ffe500"/>
<rect x="632" y="68" width="1" height="10" fill="#fff500"/>
<rect x="632" y="78" width="1" height="6" fill="#f9ff06"/>
<rect x="632" y="84" width="1" height="6" fill="#e9ff16"/>
<rect x="632" y="90" width="1" height="4" fill="#d9ff26"/>
<rect x="632" y="94" width="1" height="4" fill="#c8ff37"/>
<rect x="632" y="98" width="1" height="3" fill="#b8ff47"/>
<rect x="632" y="101" width="1" height="4" fill="#a8ff57"/>
<rect x="632" y="105" width="1" height="3" fill="#98ff67"/>
<rect x="632" y="108" width="1" height="28" fill="#88ff77"/>
<rect x="633" y="46" width="1" height="4" fill="#ffb400"/>
<rect x="633" y="50" width="1" height="12" fill="#ffd500"/>
<rect x="633" y="62" width="1" height="6" fill="#ffe500"/>
<rect x="633" y="68" width="1" height="9" fill="#fff500"/>
<rect x="633" y="77" width="1" height="7" fill="#f9ff06"/>
<rect x="633" y="84" width="1" height="5" fill="#e9ff16"/>
<rect x="633" y="89" width="1" height="5" fill="#d9ff26"/>
<rect x="633" y="94" width="1" height="3" fill="#c8ff37"/>
<rect x="633" y="97" width="1" height="3" fill="#b8ff47"/>
<rect x="633" y="100" width="1" height="4" fill="#a8ff57"/>
<rect x="633" y="104" width="1" height="3" fill="#98ff67"/>
<rect x="633" y="107" width="1" height="29" fill="#88ff77"/>
<rect x="634" y="46" width="1" height="5" fill="#ffb400"/>
<rect x="634" y="51" width="1" height="1" fill="#ffc400"/>
<rect x="634" y="52" width="1" height="9" fill="#ffd500"/>
<rect x="634" y="61" width="1" height="6" fill="#ffe500"/>
<rect x="634" y="67" width="1" height="10" fill="#fff500"/>
<rect x="634" y="77" width="1" height="6" fill="#f9ff06"/>
<rect x="634" y="83" width="1" height="6" fill="#e9ff16"/>
<rect x="634" y="89" width="1" height="4" fill="#d9ff26"/>
<rect x="634" y="93" width="1" height="4" fill="#c8ff37"/>
<rect x="634" y="97" width="1" height="3" fill="#b8ff47"/>
<rect x="634" y="100" width="1" height="3" fill="#a8ff57"/>
<rect x="634" y="103" width="1" height="4" fill="#98ff67"/>
<rect x="634" y="107" width="1" height="29" fill="#88ff77"/>
<rect x="635" y="46" width="1" height="4" fill="#ffb400"/>
<rect x="635" y="50" width="1" height="1" fill="#ffc400"/>
<rect x="635" y="51" width="1" height="10" fill="#ffd500"/>
<rect x="635" y="61" width="1" height="5" fill="#ffe500"/>
<rect x="635" y="66" width="1" height="10" fill="#fff500"/>
<rect x="635" y="76" width="1" height="7" fill="#f9ff06"/>
<rect x="635" y="83" width="1" height="5" fill="#e9ff16"/>
<rect x="635" y="88" width="1" height="5" fill="#d9ff26"/>
<rect x="635" y="93" width="1" height="3" fill="#c8ff37"/>
<rect x="635" y="96" width="1" height="4" fill="#b8ff47"/>
<rect x="635" y="100" width="1" height="3" fill="#a8ff57"/>
<rect x="635" y="103" width="1" height="4" fill="#98ff67"/>
<rect x="635" y="107" width="1" height="29" fill="#88ff77"/>
</g>
<circle cx="511.8" cy="154.0" r="3.1" fill="#1fffe0"/>
<circle cx="515.4" cy="154.2" r="3.1" fill="#1fffe0"/>
<circle cx="518.8" cy="153.2" r="3.3" fill="#2effd1"/>
<circle cx="522.2" cy="151.0" r="3.4" fill="#38ffc7"/>
<circle cx="525.4" cy="148.8" r="3.4" fill="#3dffc2"/>
<circle cx="528.6" cy="146.6" r="3.3" fill="#38ffc7"/>
<circle cx="531.6" cy="144.2" r="3.2" fill="#2effd1"/>
<circle cx="535.6" cy="139.2" r="3.4" fill="#1fffe0"/>
</g>
<text transform="translate(77.00 57.90) scale(1 1.01)" font-family="Liberation Serif" font-size="24" text-anchor="end">0</text>
<text transform="translate(77.00 104.75) scale(1 1.01)" font-family="Liberation Serif" font-size="24" text-anchor="end">50</text>
<text transform="translate(77.00 151.60) scale(1 1.01)" font-family="Liberation Serif" font-size="24" text-anchor="end">100</text>
<text transform="translate(77.00 198.45) scale(1 1.01)" font-family="Liberation Serif" font-size="24" text-anchor="end">150</text>
<text transform="translate(77.00 245.30) scale(1 1.01)" font-family="Liberation Serif" font-size="24" text-anchor="end">200</text>
<text transform="translate(25.7 144.60) rotate(-90) scale(1 1.01)" font-family="Liberation Serif" font-size="24" text-anchor="middle" textLength="107" lengthAdjust="spacingAndGlyphs">Depth, (m)</text>
<text transform="translate(542.00 229.70) scale(1 1.01)" font-family="Liberation Serif" font-size="24">Temperature (<tspan font-size="18.5" dy="-10.3">o</tspan><tspan dy="10.3">C)</tspan></text>
<rect x="873.6" y="50.05" width="40.80" height="187.75" fill="url(#jet)" stroke="#000" stroke-width="1.8"/>
<text transform="translate(919.30 222.13) scale(1 1.01)" font-family="Liberation Serif" font-size="24">6</text>
<text transform="translate(919.30 175.19) scale(1 1.01)" font-family="Liberation Serif" font-size="24">8</text>
<text transform="translate(919.30 128.26) scale(1 1.01)" font-family="Liberation Serif" font-size="24">10</text>
<text transform="translate(919.30 81.32) scale(1 1.01)" font-family="Liberation Serif" font-size="24">12</text>
<path d="M914.40 214.33H911.40M873.60 214.33H876.10M914.40 167.39H911.40M873.60 167.39H876.10M914.40 120.46H911.40M873.60 120.46H876.10M914.40 73.52H911.40M873.60 73.52H876.10" stroke="#000" stroke-width="1.6"/>
<line x1="215.00" y1="314.80" x2="215.00" y2="497.10" stroke="#111" stroke-width="1.4" stroke-dasharray="1.7 7.3"/>
<line x1="340.40" y1="314.80" x2="340.40" y2="497.10" stroke="#111" stroke-width="1.4" stroke-dasharray="1.7 7.3"/>
<line x1="466.90" y1="314.80" x2="466.90" y2="497.10" stroke="#111" stroke-width="1.4" stroke-dasharray="1.7 7.3"/>
<line x1="591.20" y1="314.80" x2="591.20" y2="497.10" stroke="#111" stroke-width="1.4" stroke-dasharray="1.7 7.3"/>
<line x1="716.60" y1="314.80" x2="716.60" y2="497.10" stroke="#111" stroke-width="1.4" stroke-dasharray="1.7 7.3"/>
<line x1="98.35" y1="356.15" x2="842.00" y2="356.15" stroke="#111" stroke-width="1.4" stroke-dasharray="1.7 7.3"/>
<line x1="98.35" y1="403.00" x2="842.00" y2="403.00" stroke="#111" stroke-width="1.4" stroke-dasharray="1.7 7.3"/>
<line x1="98.35" y1="449.85" x2="842.00" y2="449.85" stroke="#111" stroke-width="1.4" stroke-dasharray="1.7 7.3"/>
<path d="M89.60 309.70V301.10M89.60 497.10V504.30M114.68 309.70V305.30M114.68 497.10V500.80M139.76 309.70V305.30M139.76 497.10V500.80M164.84 309.70V305.30M164.84 497.10V500.80M189.92 309.70V305.30M189.92 497.10V500.80M215.00 309.70V301.10M215.00 497.10V504.30M240.08 309.70V305.30M240.08 497.10V500.80M265.16 309.70V305.30M265.16 497.10V500.80M290.24 309.70V305.30M290.24 497.10V500.80M315.32 309.70V305.30M315.32 497.10V500.80M340.40 309.70V301.10M340.40 497.10V504.30M365.48 309.70V305.30M365.48 497.10V500.80M390.56 309.70V305.30M390.56 497.10V500.80M415.64 309.70V305.30M415.64 497.10V500.80M440.72 309.70V305.30M440.72 497.10V500.80M466.90 309.70V301.10M466.90 497.10V504.30M490.88 309.70V305.30M490.88 497.10V500.80M515.96 309.70V305.30M515.96 497.10V500.80M541.04 309.70V305.30M541.04 497.10V500.80M566.12 309.70V305.30M566.12 497.10V500.80M591.20 309.70V301.10M591.20 497.10V504.30M616.28 309.70V305.30M616.28 497.10V500.80M641.36 309.70V305.30M641.36 497.10V500.80M666.44 309.70V305.30M666.44 497.10V500.80M691.52 309.70V305.30M691.52 497.10V500.80M716.60 309.70V301.10M716.60 497.10V504.30M741.68 309.70V305.30M741.68 497.10V500.80M766.76 309.70V305.30M766.76 497.10V500.80M791.84 309.70V305.30M791.84 497.10V500.80M816.92 309.70V305.30M816.92 497.10V500.80M842.00 309.70V301.10M842.00 497.10V504.30M89.60 309.70H82.00M842.00 309.70H850.70M89.60 333.12H85.80M842.00 333.12H846.00M89.60 356.55H82.00M842.00 356.55H850.70M89.60 379.98H85.80M842.00 379.98H846.00M89.60 403.40H82.00M842.00 403.40H850.70M89.60 426.82H85.80M842.00 426.82H846.00M89.60 450.25H82.00M842.00 450.25H850.70M89.60 473.67H85.80M842.00 473.67H846.00M89.60 497.10H82.00M842.00 497.10H850.70" stroke="#000" stroke-width="1.7" fill="none"/>
<rect x="89.60" y="309.70" width="752.40" height="187.40" fill="none" stroke="#000" stroke-width="2.1"/>
<clipPath id="clip1"><polygon points="534.4,48.5 535.6,46.8 634.2,46.8 635.6,48.5 635.6,111.5 635.6,111.5 633.5,114.8 621.0,115.4 619.0,113.6 618.0,107.0 612.2,103.9 611.5,100.3 604.0,100.8 597.6,101.4 591.0,101.0 588.0,98.8 585.0,95.6 582.5,94.8 580.2,96.2 578.0,102.2 574.0,103.4 568.5,103.8 566.0,105.4 563.0,107.2 561.0,110.8 560.5,115.6 556.5,117.8 552.0,119.2 549.6,121.0 549.6,124.6 542.6,124.6 542.6,131.5 541.5,133.3 538.5,134.2 535.5,132.8 534.4,130.5"/></clipPath>
<g transform="translate(0 259.80)">
<g clip-path="url(#clip1)" shape-rendering="crispEdges">
<rect x="534" y="46" width="1" height="11" fill="#37ffc8"/>
<rect x="534" y="57" width="1" height="3" fill="#47ffb8"/>
<rect x="534" y="60" width="1" height="2" fill="#57ffa8"/>
<rect x="534" y="62" width="1" height="5" fill="#67ff98"/>
<rect x="534" y="67" width="1" height="10" fill="#77ff88"/>
<rect x="534" y="77" width="1" height="12" fill="#88ff77"/>
<rect x="534" y="89" width="1" height="12" fill="#98ff67"/>
<rect x="534" y="101" width="1" height="4" fill="#a8ff57"/>
<rect x="534" y="105" width="1" height="4" fill="#b8ff47"/>
<rect x="534" y="109" width="1" height="2" fill="#c8ff37"/>
<rect x="534" y="111" width="1" height="2" fill="#d9ff26"/>
<rect x="534" y="113" width="1" height="3" fill="#e9ff16"/>
<rect x="534" y="116" width="1" height="2" fill="#f9ff06"/>
<rect x="534" y="118" width="1" height="2" fill="#fff500"/>
<rect x="534" y="120" width="1" height="16" fill="#ff8400"/>
<rect x="535" y="46" width="1" height="10" fill="#37ffc8"/>
<rect x="535" y="56" width="1" height="2" fill="#47ffb8"/>
<rect x="535" y="58" width="1" height="2" fill="#57ffa8"/>
<rect x="535" y="60" width="1" height="7" fill="#67ff98"/>
<rect x="535" y="67" width="1" height="10" fill="#77ff88"/>
<rect x="535" y="77" width="1" height="12" fill="#88ff77"/>
<rect x="535" y="89" width="1" height="11" fill="#98ff67"/>
<rect x="535" y="100" width="1" height="5" fill="#a8ff57"/>
<rect x="535" y="105" width="1" height="3" fill="#b8ff47"/>
<rect x="535" y="108" width="1" height="3" fill="#c8ff37"/>
<rect x="535" y="111" width="1" height="2" fill="#d9ff26"/>
<rect x="535" y="113" width="1" height="3" fill="#e9ff16"/>
<rect x="535" y="116" width="1" height="2" fill="#f9ff06"/>
<rect x="535" y="118" width="1" height="2" fill="#fff500"/>
<rect x="535" y="120" width="1" height="16" fill="#ff8400"/>
<rect x="536" y="46" width="1" height="11" fill="#37ffc8"/>
<rect x="536" y="57" width="1" height="2" fill="#47ffb8"/>
<rect x="536" y="59" width="1" height="2" fill="#57ffa8"/>
<rect x="536" y="61" width="1" height="7" fill="#67ff98"/>
<rect x="536" y="68" width="1" height="11" fill="#77ff88"/>
<rect x="536" y="79" width="1" height="12" fill="#88ff77"/>
<rect x="536" y="91" width="1" height="10" fill="#98ff67"/>
<rect x="536" y="101" width="1" height="4" fill="#a8ff57"/>
<rect x="536" y="105" width="1" height="4" fill="#b8ff47"/>
<rect x="536" y="109" width="1" height="2" fill="#c8ff37"/>
<rect x="536" y="111" width="1" height="3" fill="#d9ff26"/>
<rect x="536" y="114" width="1" height="2" fill="#e9ff16"/>
<rect x="536" y="116" width="1" height="3" fill="#f9ff06"/>
<rect x="536" y="119" width="1" height="1" fill="#fff500"/>
<rect x="536" y="120" width="1" height="16" fill="#ff8400"/>
<rect x="537" y="46" width="1" height="11" fill="#37ffc8"/>
<rect x="537" y="57" width="1" height="3" fill="#47ffb8"/>
<rect x="537" y="60" width="1" height="2" fill="#57ffa8"/>
<rect x="537" y="62" width="1" height="6" fill="#67ff98"/>
<rect x="537" y="68" width="1" height="10" fill="#77ff88"/>
<rect x="537" y="78" width="1" height="12" fill="#88ff77"/>
<rect x="537" y="90" width="1" height="10" fill="#98ff67"/>
<rect x="537" y="100" width="1" height="5" fill="#a8ff57"/>
<rect x="537" y="105" width="1" height="3" fill="#b8ff47"/>
<rect x="537" y="108" width="1" height="3" fill="#c8ff37"/>
<rect x="537" y="111" width="1" height="3" fill="#d9ff26"/>
<rect x="537" y="114" width="1" height="2" fill="#e9ff16"/>
<rect x="537" y="116" width="1" height="2" fill="#f9ff06"/>
<rect x="537" y="118" width="1" height="2" fill="#fff500"/>
<rect x="537" y="120" width="1" height="16" fill="#ff8400"/>
<rect x="538" y="46" width="1" height="7" fill="#37ffc8"/>
<rect x="538" y="53" width="1" height="2" fill="#47ffb8"/>
<rect x="538" y="55" width="1" height="1" fill="#57ffa8"/>
<rect x="538" y="56" width="1" height="9" fill="#67ff98"/>
<rect x="538" y="65" width="1" height="10" fill="#77ff88"/>
<rect x="538" y="75" width="1" height="11" fill="#88ff77"/>
<rect x="538" y="86" width="1" height="12" fill="#98ff67"/>
<rect x="538" y="98" width="1" height="5" fill="#a8ff57"/>
<rect x="538" y="103" width="1" height="4" fill="#b8ff47"/>
<rect x="538" y="107" width="1" height="3" fill="#c8ff37"/>
<rect x="538" y="110" width="1" height="2" fill="#d9ff26"/>
<rect x="538" y="112" width="1" height="3" fill="#e9ff16"/>
<rect x="538" y="115" width="1" height="3" fill="#f9ff06"/>
<rect x="538" y="118" width="1" height="2" fill="#fff500"/>
<rect x="538" y="120" width="1" height="16" fill="#ff8400"/>
<rect x="539" y="46" width="1" height="11" fill="#47ffb8"/>
<rect x="539" y="57" width="1" height="2" fill="#57ffa8"/>
<rect x="539" y="59" width="1" height="5" fill="#67ff98"/>
<rect x="539" y="64" width="1" height="9" fill="#77ff88"/>
<rect x="539" y="73" width="1" height="11" fill="#88ff77"/>
<rect x="539" y="84" width="1" height="12" fill="#98ff67"/>
<rect x="539" y="96" width="1" height="6" fill="#a8ff57"/>
<rect x="539" y="102" width="1" height="4" fill="#b8ff47"/>
<rect x="539" y="106" width="1" height="3" fill="#c8ff37"/>
<rect x="539" y="109" width="1" height="3" fill="#d9ff26"/>
<rect x="539" y="112" width="1" height="2" fill="#e9ff16"/>
<rect x="539" y="114" width="1" height="3" fill="#f9ff06"/>
<rect x="539" y="117" width="1" height="3" fill="#fff500"/>
<rect x="539" y="120" width="1" height="16" fill="#ff8400"/>
<rect x="540" y="46" width="1" height="8" fill="#47ffb8"/>
<rect x="540" y="54" width="1" height="1" fill="#57ffa8"/>
<rect x="540" y="55" width="1" height="8" fill="#67ff98"/>
<rect x="540" y="63" width="1" height="10" fill="#77ff88"/>
<rect x="540" y="73" width="1" height="11" fill="#88ff77"/>
<rect x="540" y="84" width="1" height="11" fill="#98ff67"/>
<rect x="540" y="95" width="1" height="6" fill="#a8ff57"/>
<rect x="540" y="101" width="1" height="4" fill="#b8ff47"/>
<rect x="540" y="105" width="1" height="3" fill="#c8ff37"/>
<rect x="540" y="108" width="1" height="3" fill="#d9ff26"/>
<rect x="540" y="111" width="1" height="2" fill="#e9ff16"/>
<rect x="540" y="113" width="1" height="3" fill="#f9ff06"/>
<rect x="540" y="116" width="1" height="4" fill="#fff500"/>
<rect x="540" y="120" width="1" height="16" fill="#ff8400"/>
<rect x="541" y="46" width="1" height="12" fill="#37ffc8"/>
<rect x="541" y="58" width="1" height="2" fill="#47ffb8"/>
<rect x="541" y="60" width="1" height="2" fill="#57ffa8"/>
<rect x="541" y="62" width="1" height="2" fill="#67ff98"/>
<rect x="541" y="64" width="1" height="10" fill="#77ff88"/>
<rect x="541" y="74" width="1" height="11" fill="#88ff77"/>
<rect x="541" y="85" width="1" height="12" fill="#98ff67"/>
<rect x="541" y="97" width="1" height="4" fill="#a8ff57"/>
<rect x="541" y="101" width="1" height="4" fill="#b8ff47"/>
<rect x="541" y="105" width="1" height="3" fill="#c8ff37"/>
<rect x="541" y="108" width="1" height="3" fill="#d9ff26"/>
<rect x="541" y="111" width="1" height="3" fill="#e9ff16"/>
<rect x="541" y="114" width="1" height="3" fill="#f9ff06"/>
<rect x="541" y="117" width="1" height="3" fill="#fff500"/>
<rect x="541" y="120" width="1" height="16" fill="#ff8400"/>
<rect x="542" y="46" width="1" height="10" fill="#47ffb8"/>
<rect x="542" y="56" width="1" height="2" fill="#57ffa8"/>
<rect x="542" y="58" width="1" height="8" fill="#67ff98"/>
<rect x="542" y="66" width="1" height="10" fill="#77ff88"/>
<rect x="542" y="76" width="1" height="11" fill="#88ff77"/>
<rect x="542" y="87" width="1" height="11" fill="#98ff67"/>
<rect x="542" y="98" width="1" height="4" fill="#a8ff57"/>
<rect x="542" y="102" width="1" height="4" fill="#b8ff47"/>
<rect x="542" y="106" width="1" height="3" fill="#c8ff37"/>
<rect x="542" y="109" width="1" height="3" fill="#d9ff26"/>
<rect x="542" y="112" width="1" height="3" fill="#e9ff16"/>
<rect x="542" y="115" width="1" height="3" fill="#f9ff06"/>
<rect x="542" y="118" width="1" height="2" fill="#fff500"/>
<rect x="542" y="120" width="1" height="16" fill="#ff8400"/>
<rect x="543" y="46" width="1" height="10" fill="#47ffb8"/>
<rect x="543" y="56" width="1" height="2" fill="#57ffa8"/>
<rect x="543" y="58" width="1" height="8" fill="#67ff98"/>
<rect x="543" y="66" width="1" height="10" fill="#77ff88"/>
<rect x="543" y="76" width="1" height="11" fill="#88ff77"/>
<rect x="543" y="87" width="1" height="11" fill="#98ff67"/>
<rect x="543" y="98" width="1" height="4" fill="#a8ff57"/>
<rect x="543" y="102" width="1" height="4" fill="#b8ff47"/>
<rect x="543" y="106" width="1" height="3" fill="#c8ff37"/>
<rect x="543" y="109" width="1" height="3" fill="#d9ff26"/>
<rect x="543" y="112" width="1" height="3" fill="#e9ff16"/>
<rect x="543" y="115" width="1" height="3" fill="#f9ff06"/>
<rect x="543" y="118" width="1" height="12" fill="#fff500"/>
<rect x="543" y="130" width="1" height="6" fill="#ffe500"/>
<rect x="544" y="46" width="1" height="8" fill="#37ffc8"/>
<rect x="544" y="54" width="1" height="2" fill="#47ffb8"/>
<rect x="544" y="56" width="1" height="2" fill="#57ffa8"/>
<rect x="544" y="58" width="1" height="10" fill="#67ff98"/>
<rect x="544" y="68" width="1" height="10" fill="#77ff88"/>
<rect x="544" y="78" width="1" height="11" fill="#88ff77"/>
<rect x="544" y="89" width="1" height="10" fill="#98ff67"/>
<rect x="544" y="99" width="1" height="4" fill="#a8ff57"/>
<rect x="544" y="103" width="1" height="4" fill="#b8ff47"/>
<rect x="544" y="107" width="1" height="3" fill="#c8ff37"/>
<rect x="544" y="110" width="1" height="4" fill="#d9ff26"/>
<rect x="544" y="114" width="1" height="3" fill="#e9ff16"/>
<rect x="544" y="117" width="1" height="3" fill="#f9ff06"/>
<rect x="544" y="120" width="1" height="11" fill="#fff500"/>
<rect x="544" y="131" width="1" height="5" fill="#ffe500"/>
<rect x="545" y="46" width="1" height="14" fill="#47ffb8"/>
<rect x="545" y="60" width="1" height="3" fill="#57ffa8"/>
<rect x="545" y="63" width="1" height="6" fill="#67ff98"/>
<rect x="545" y="69" width="1" height="10" fill="#77ff88"/>
<rect x="545" y="79" width="1" height="11" fill="#88ff77"/>
<rect x="545" y="90" width="1" height="10" fill="#98ff67"/>
<rect x="545" y="100" width="1" height="4" fill="#a8ff57"/>
<rect x="545" y="104" width="1" height="4" fill="#b8ff47"/>
<rect x="545" y="108" width="1" height="3" fill="#c8ff37"/>
<rect x="545" y="111" width="1" height="3" fill="#d9ff26"/>
<rect x="545" y="114" width="1" height="4" fill="#e9ff16"/>
<rect x="545" y="118" width="1" height="3" fill="#f9ff06"/>
<rect x="545" y="121" width="1" height="11" fill="#fff500"/>
<rect x="545" y="132" width="1" height="4" fill="#ffe500"/>
<rect x="546" y="46" width="1" height="12" fill="#37ffc8"/>
<rect x="546" y="58" width="1" height="2" fill="#47ffb8"/>
<rect x="546" y="60" width="1" height="3" fill="#57ffa8"/>
<rect x="546" y="63" width="1" height="6" fill="#67ff98"/>
<rect x="546" y="69" width="1" height="10" fill="#77ff88"/>
<rect x="546" y="79" width="1" height="11" fill="#88ff77"/>
<rect x="546" y="90" width="1" height="10" fill="#98ff67"/>
<rect x="546" y="100" width="1" height="4" fill="#a8ff57"/>
<rect x="546" y="104" width="1" height="4" fill="#b8ff47"/>
<rect x="546" y="108" width="1" height="4" fill="#c8ff37"/>
<rect x="546" y="112" width="1" height="3" fill="#d9ff26"/>
<rect x="546" y="115" width="1" height="3" fill="#e9ff16"/>
<rect x="546" y="118" width="1" height="3" fill="#f9ff06"/>
<rect x="546" y="121" width="1" height="11" fill="#fff500"/>
<rect x="546" y="132" width="1" height="4" fill="#ffe500"/>
<rect x="547" y="46" width="1" height="11" fill="#37ffc8"/>
<rect x="547" y="57" width="1" height="2" fill="#47ffb8"/>
<rect x="547" y="59" width="1" height="2" fill="#57ffa8"/>
<rect x="547" y="61" width="1" height="10" fill="#67ff98"/>
<rect x="547" y="71" width="1" height="9" fill="#77ff88"/>
<rect x="547" y="80" width="1" height="11" fill="#88ff77"/>
<rect x="547" y="91" width="1" height="10" fill="#98ff67"/>
<rect x="547" y="101" width="1" height="4" fill="#a8ff57"/>
<rect x="547" y="105" width="1" height="4" fill="#b8ff47"/>
<rect x="547" y="109" width="1" height="3" fill="#c8ff37"/>
<rect x="547" y="112" width="1" height="4" fill="#d9ff26"/>
<rect x="547" y="116" width="1" height="3" fill="#e9ff16"/>
<rect x="547" y="119" width="1" height="4" fill="#f9ff06"/>
<rect x="547" y="123" width="1" height="9" fill="#fff500"/>
<rect x="547" y="132" width="1" height="4" fill="#ffe500"/>
<rect x="548" y="46" width="1" height="13" fill="#37ffc8"/>
<rect x="548" y="59" width="1" height="2" fill="#47ffb8"/>
<rect x="548" y="61" width="1" height="2" fill="#57ffa8"/>
<rect x="548" y="63" width="1" height="7" fill="#67ff98"/>
<rect x="548" y="70" width="1" height="10" fill="#77ff88"/>
<rect x="548" y="80" width="1" height="10" fill="#88ff77"/>
<rect x="548" y="90" width="1" height="10" fill="#98ff67"/>
<rect x="548" y="100" width="1" height="4" fill="#a8ff57"/>
<rect x="548" y="104" width="1" height="5" fill="#b8ff47"/>
<rect x="548" y="109" width="1" height="3" fill="#c8ff37"/>
<rect x="548" y="112" width="1" height="3" fill="#d9ff26"/>
<rect x="548" y="115" width="1" height="3" fill="#e9ff16"/>
<rect x="548" y="118" width="1" height="4" fill="#f9ff06"/>
<rect x="548" y="122" width="1" height="9" fill="#fff500"/>
<rect x="548" y="131" width="1" height="5" fill="#ffe500"/>
<rect x="549" y="46" width="1" height="9" fill="#37ffc8"/>
<rect x="549" y="55" width="1" height="2" fill="#47ffb8"/>
<rect x="549" y="57" width="1" height="2" fill="#57ffa8"/>
<rect x="549" y="59" width="1" height="12" fill="#67ff98"/>
<rect x="549" y="71" width="1" height="10" fill="#77ff88"/>
<rect x="549" y="81" width="1" height="11" fill="#88ff77"/>
<rect x="549" y="92" width="1" height="8" fill="#98ff67"/>
<rect x="549" y="100" width="1" height="4" fill="#a8ff57"/>
<rect x="549" y="104" width="1" height="4" fill="#b8ff47"/>
<rect x="549" y="108" width="1" height="3" fill="#c8ff37"/>
<rect x="549" y="111" width="1" height="4" fill="#d9ff26"/>
<rect x="549" y="115" width="1" height="3" fill="#e9ff16"/>
<rect x="549" y="118" width="1" height="4" fill="#f9ff06"/>
<rect x="549" y="122" width="1" height="11" fill="#fff500"/>
<rect x="549" y="133" width="1" height="3" fill="#ffe500"/>
<rect x="550" y="46" width="1" height="13" fill="#37ffc8"/>
<rect x="550" y="59" width="1" height="3" fill="#47ffb8"/>
<rect x="550" y="62" width="1" height="3" fill="#57ffa8"/>
<rect x="550" y="65" width="1" height="7" fill="#67ff98"/>
<rect x="550" y="72" width="1" height="11" fill="#77ff88"/>
<rect x="550" y="83" width="1" height="10" fill="#88ff77"/>
<rect x="550" y="93" width="1" height="7" fill="#98ff67"/>
<rect x="550" y="100" width="1" height="5" fill="#a8ff57"/>
<rect x="550" y="105" width="1" height="3" fill="#b8ff47"/>
<rect x="550" y="108" width="1" height="4" fill="#c8ff37"/>
<rect x="550" y="112" width="1" height="3" fill="#d9ff26"/>
<rect x="550" y="115" width="1" height="4" fill="#e9ff16"/>
<rect x="550" y="119" width="1" height="4" fill="#f9ff06"/>
<rect x="550" y="123" width="1" height="11" fill="#fff500"/>
<rect x="550" y="134" width="1" height="2" fill="#ffe500"/>
<rect x="551" y="46" width="1" height="11" fill="#37ffc8"/>
<rect x="551" y="57" width="1" height="2" fill="#47ffb8"/>
<rect x="551" y="59" width="1" height="2" fill="#57ffa8"/>
<rect x="551" y="61" width="1" height="10" fill="#67ff98"/>
<rect x="551" y="71" width="1" height="9" fill="#77ff88"/>
<rect x="551" y="80" width="1" height="11" fill="#88ff77"/>
<rect x="551" y="91" width="1" height="8" fill="#98ff67"/>
<rect x="551" y="99" width="1" height="5" fill="#a8ff57"/>
<rect x="551" y="104" width="1" height="4" fill="#b8ff47"/>
<rect x="551" y="108" width="1" height="3" fill="#c8ff37"/>
<rect x="551" y="111" width="1" height="3" fill="#d9ff26"/>
<rect x="551" y="114" width="1" height="4" fill="#e9ff16"/>
<rect x="551" y="118" width="1" height="4" fill="#f9ff06"/>
<rect x="551" y="122" width="1" height="9" fill="#fff500"/>
<rect x="551" y="131" width="1" height="5" fill="#ffe500"/>
<rect x="552" y="46" width="1" height="10" fill="#37ffc8"/>
<rect x="552" y="56" width="1" height="2" fill="#47ffb8"/>
<rect x="552" y="58" width="1" height="2" fill="#57ffa8"/>
<rect x="552" y="60" width="1" height="10" fill="#67ff98"/>
<rect x="552" y="70" width="1" height="9" fill="#77ff88"/>
<rect x="552" y="79" width="1" height="11" fill="#88ff77"/>
<rect x="552" y="90" width="1" height="8" fill="#98ff67"/>
<rect x="552" y="98" width="1" height="5" fill="#a8ff57"/>
<rect x="552" y="103" width="1" height="4" fill="#b8ff47"/>
<rect x="552" y="107" width="1" height="4" fill="#c8ff37"/>
<rect x="552" y="111" width="1" height="3" fill="#d9ff26"/>
<rect x="552" y="114" width="1" height="4" fill="#e9ff16"/>
<rect x="552" y="118" width="1" height="5" fill="#f9ff06"/>
<rect x="552" y="123" width="1" height="8" fill="#fff500"/>
<rect x="552" y="131" width="1" height="5" fill="#ffe500"/>
<rect x="553" y="46" width="1" height="11" fill="#37ffc8"/>
<rect x="553" y="57" width="1" height="2" fill="#47ffb8"/>
<rect x="553" y="59" width="1" height="1" fill="#57ffa8"/>
<rect x="553" y="60" width="1" height="11" fill="#67ff98"/>
<rect x="553" y="71" width="1" height="8" fill="#77ff88"/>
<rect x="553" y="79" width="1" height="11" fill="#88ff77"/>
<rect x="553" y="90" width="1" height="8" fill="#98ff67"/>
<rect x="553" y="98" width="1" height="5" fill="#a8ff57"/>
<rect x="553" y="103" width="1" height="4" fill="#b8ff47"/>
<rect x="553" y="107" width="1" height="3" fill="#c8ff37"/>
<rect x="553" y="110" width="1" height="3" fill="#d9ff26"/>
<rect x="553" y="113" width="1" height="5" fill="#e9ff16"/>
<rect x="553" y="118" width="1" height="7" fill="#f9ff06"/>
<rect x="553" y="125" width="1" height="9" fill="#fff500"/>
<rect x="553" y="134" width="1" height="2" fill="#ffe500"/>
<rect x="554" y="46" width="1" height="11" fill="#37ffc8"/>
<rect x="554" y="57" width="1" height="3" fill="#47ffb8"/>
<rect x="554" y="60" width="1" height="3" fill="#57ffa8"/>
<rect x="554" y="63" width="1" height="9" fill="#67ff98"/>
<rect x="554" y="72" width="1" height="10" fill="#77ff88"/>
<rect x="554" y="82" width="1" height="10" fill="#88ff77"/>
<rect x="554" y="92" width="1" height="7" fill="#98ff67"/>
<rect x="554" y="99" width="1" height="4" fill="#a8ff57"/>
<rect x="554" y="103" width="1" height="4" fill="#b8ff47"/>
<rect x="554" y="107" width="1" height="3" fill="#c8ff37"/>
<rect x="554" y="110" width="1" height="3" fill="#d9ff26"/>
<rect x="554" y="113" width="1" height="7" fill="#e9ff16"/>
<rect x="554" y="120" width="1" height="9" fill="#f9ff06"/>
<rect x="554" y="129" width="1" height="7" fill="#fff500"/>
<rect x="555" y="46" width="1" height="16" fill="#37ffc8"/>
<rect x="555" y="62" width="1" height="3" fill="#47ffb8"/>
<rect x="555" y="65" width="1" height="3" fill="#57ffa8"/>
<rect x="555" y="68" width="1" height="7" fill="#67ff98"/>
<rect x="555" y="75" width="1" height="10" fill="#77ff88"/>
<rect x="555" y="85" width="1" height="9" fill="#88ff77"/>
<rect x="555" y="94" width="1" height="6" fill="#98ff67"/>
<rect x="555" y="100" width="1" height="4" fill="#a8ff57"/>
<rect x="555" y="104" width="1" height="3" fill="#b8ff47"/>
<rect x="555" y="107" width="1" height="3" fill="#c8ff37"/>
<rect x="555" y="110" width="1" height="4" fill="#d9ff26"/>
<rect x="555" y="114" width="1" height="10" fill="#e9ff16"/>
<rect x="555" y="124" width="1" height="11" fill="#f9ff06"/>
<rect x="555" y="135" width="1" height="1" fill="#fff500"/>
<rect x="556" y="46" width="1" height="16" fill="#37ffc8"/>
<rect x="556" y="62" width="1" height="4" fill="#47ffb8"/>
<rect x="556" y="66" width="1" height="3" fill="#57ffa8"/>
<rect x="556" y="69" width="1" height="7" fill="#67ff98"/>
<rect x="556" y="76" width="1" height="9" fill="#77ff88"/>
<rect x="556" y="85" width="1" height="9" fill="#88ff77"/>
<rect x="556" y="94" width="1" height="6" fill="#98ff67"/>
<rect x="556" y="100" width="1" height="4" fill="#a8ff57"/>
<rect x="556" y="104" width="1" height="3" fill="#b8ff47"/>
<rect x="556" y="107" width="1" height="3" fill="#c8ff37"/>
<rect x="556" y="110" width="1" height="3" fill="#d9ff26"/>
<rect x="556" y="113" width="1" height="12" fill="#e9ff16"/>
<rect x="556" y="125" width="1" height="11" fill="#f9ff06"/>
<rect x="557" y="46" width="1" height="14" fill="#47ffb8"/>
<rect x="557" y="60" width="1" height="9" fill="#57ffa8"/>
<rect x="557" y="69" width="1" height="8" fill="#67ff98"/>
<rect x="557" y="77" width="1" height="10" fill="#77ff88"/>
<rect x="557" y="87" width="1" height="8" fill="#88ff77"/>
<rect x="557" y="95" width="1" height="6" fill="#98ff67"/>
<rect x="557" y="101" width="1" height="3" fill="#a8ff57"/>
<rect x="557" y="104" width="1" height="4" fill="#b8ff47"/>
<rect x="557" y="108" width="1" height="3" fill="#c8ff37"/>
<rect x="557" y="111" width="1" height="3" fill="#d9ff26"/>
<rect x="557" y="114" width="1" height="14" fill="#e9ff16"/>
<rect x="557" y="128" width="1" height="8" fill="#f9ff06"/>
<rect x="558" y="46" width="1" height="15" fill="#37ffc8"/>
<rect x="558" y="61" width="1" height="3" fill="#47ffb8"/>
<rect x="558" y="64" width="1" height="7" fill="#57ffa8"/>
<rect x="558" y="71" width="1" height="8" fill="#67ff98"/>
<rect x="558" y="79" width="1" height="10" fill="#77ff88"/>
<rect x="558" y="89" width="1" height="7" fill="#88ff77"/>
<rect x="558" y="96" width="1" height="5" fill="#98ff67"/>
<rect x="558" y="101" width="1" height="3" fill="#a8ff57"/>
<rect x="558" y="104" width="1" height="4" fill="#b8ff47"/>
<rect x="558" y="108" width="1" height="3" fill="#c8ff37"/>
<rect x="558" y="111" width="1" height="4" fill="#d9ff26"/>
<rect x="558" y="115" width="1" height="17" fill="#e9ff16"/>
<rect x="558" y="132" width="1" height="4" fill="#f9ff06"/>
<rect x="559" y="46" width="1" height="11" fill="#37ffc8"/>
<rect x="559" y="57" width="1" height="3" fill="#47ffb8"/>
<rect x="559" y="60" width="1" height="10" fill="#57ffa8"/>
<rect x="559" y="70" width="1" height="8" fill="#67ff98"/>
<rect x="559" y="78" width="1" height="9" fill="#77ff88"/>
<rect x="559" y="87" width="1" height="8" fill="#88ff77"/>
<rect x="559" y="95" width="1" height="6" fill="#98ff67"/>
<rect x="559" y="101" width="1" height="3" fill="#a8ff57"/>
<rect x="559" y="104" width="1" height="3" fill="#b8ff47"/>
<rect x="559" y="107" width="1" height="3" fill="#c8ff37"/>
<rect x="559" y="110" width="1" height="3" fill="#d9ff26"/>
<rect x="559" y="113" width="1" height="17" fill="#e9ff16"/>
<rect x="559" y="130" width="1" height="6" fill="#f9ff06"/>
<rect x="560" y="46" width="1" height="16" fill="#37ffc8"/>
<rect x="560" y="62" width="1" height="3" fill="#47ffb8"/>
<rect x="560" y="65" width="1" height="4" fill="#57ffa8"/>
<rect x="560" y="69" width="1" height="8" fill="#67ff98"/>
<rect x="560" y="77" width="1" height="9" fill="#77ff88"/>
<rect x="560" y="86" width="1" height="8" fill="#88ff77"/>
<rect x="560" y="94" width="1" height="6" fill="#98ff67"/>
<rect x="560" y="100" width="1" height="3" fill="#a8ff57"/>
<rect x="560" y="103" width="1" height="3" fill="#b8ff47"/>
<rect x="560" y="106" width="1" height="4" fill="#c8ff37"/>
<rect x="560" y="110" width="1" height="3" fill="#d9ff26"/>
<rect x="560" y="113" width="1" height="17" fill="#e9ff16"/>
<rect x="560" y="130" width="1" height="6" fill="#f9ff06"/>
<rect x="561" y="46" width="1" height="16" fill="#37ffc8"/>
<rect x="561" y="62" width="1" height="3" fill="#47ffb8"/>
<rect x="561" y="65" width="1" height="5" fill="#57ffa8"/>
<rect x="561" y="70" width="1" height="7" fill="#67ff98"/>
<rect x="561" y="77" width="1" height="10" fill="#77ff88"/>
<rect x="561" y="87" width="1" height="7" fill="#88ff77"/>
<rect x="561" y="94" width="1" height="5" fill="#98ff67"/>
<rect x="561" y="99" width="1" height="3" fill="#a8ff57"/>
<rect x="561" y="102" width="1" height="4" fill="#b8ff47"/>
<rect x="561" y="106" width="1" height="4" fill="#c8ff37"/>
<rect x="561" y="110" width="1" height="5" fill="#d9ff26"/>
<rect x="561" y="115" width="1" height="19" fill="#e9ff16"/>
<rect x="561" y="134" width="1" height="2" fill="#f9ff06"/>
<rect x="562" y="46" width="1" height="15" fill="#37ffc8"/>
<rect x="562" y="61" width="1" height="4" fill="#47ffb8"/>
<rect x="562" y="65" width="1" height="3" fill="#57ffa8"/>
<rect x="562" y="68" width="1" height="8" fill="#67ff98"/>
<rect x="562" y="76" width="1" height="10" fill="#77ff88"/>
<rect x="562" y="86" width="1" height="7" fill="#88ff77"/>
<rect x="562" y="93" width="1" height="5" fill="#98ff67"/>
<rect x="562" y="98" width="1" height="4" fill="#a8ff57"/>
<rect x="562" y="102" width="1" height="3" fill="#b8ff47"/>
<rect x="562" y="105" width="1" height="5" fill="#c8ff37"/>
<rect x="562" y="110" width="1" height="4" fill="#d9ff26"/>
<rect x="562" y="114" width="1" height="19" fill="#e9ff16"/>
<rect x="562" y="133" width="1" height="3" fill="#f9ff06"/>
<rect x="563" y="46" width="1" height="10" fill="#37ffc8"/>
<rect x="563" y="56" width="1" height="2" fill="#47ffb8"/>
<rect x="563" y="58" width="1" height="2" fill="#57ffa8"/>
<rect x="563" y="60" width="1" height="13" fill="#67ff98"/>
<rect x="563" y="73" width="1" height="9" fill="#77ff88"/>
<rect x="563" y="82" width="1" height="8" fill="#88ff77"/>
<rect x="563" y="90" width="1" height="6" fill="#98ff67"/>
<rect x="563" y="96" width="1" height="4" fill="#a8ff57"/>
<rect x="563" y="100" width="1" height="4" fill="#b8ff47"/>
<rect x="563" y="104" width="1" height="5" fill="#c8ff37"/>
<rect x="563" y="109" width="1" height="5" fill="#d9ff26"/>
<rect x="563" y="114" width="1" height="14" fill="#e9ff16"/>
<rect x="563" y="128" width="1" height="8" fill="#f9ff06"/>
<rect x="564" y="46" width="1" height="14" fill="#37ffc8"/>
<rect x="564" y="60" width="1" height="4" fill="#47ffb8"/>
<rect x="564" y="64" width="1" height="3" fill="#57ffa8"/>
<rect x="564" y="67" width="1" height="4" fill="#67ff98"/>
<rect x="564" y="71" width="1" height="9" fill="#77ff88"/>
<rect x="564" y="80" width="1" height="9" fill="#88ff77"/>
<rect x="564" y="89" width="1" height="6" fill="#98ff67"/>
<rect x="564" y="95" width="1" height="4" fill="#a8ff57"/>
<rect x="564" y="99" width="1" height="4" fill="#b8ff47"/>
<rect x="564" y="103" width="1" height="5" fill="#c8ff37"/>
<rect x="564" y="108" width="1" height="5" fill="#d9ff26"/>
<rect x="564" y="113" width="1" height="12" fill="#e9ff16"/>
<rect x="564" y="125" width="1" height="11" fill="#f9ff06"/>
<rect x="565" y="46" width="1" height="15" fill="#47ffb8"/>
<rect x="565" y="61" width="1" height="4" fill="#57ffa8"/>
<rect x="565" y="65" width="1" height="6" fill="#67ff98"/>
<rect x="565" y="71" width="1" height="9" fill="#77ff88"/>
<rect x="565" y="80" width="1" height="9" fill="#88ff77"/>
<rect x="565" y="89" width="1" height="6" fill="#98ff67"/>
<rect x="565" y="95" width="1" height="4" fill="#a8ff57"/>
<rect x="565" y="99" width="1" height="4" fill="#b8ff47"/>
<rect x="565" y="103" width="1" height="5" fill="#c8ff37"/>
<rect x="565" y="108" width="1" height="6" fill="#d9ff26"/>
<rect x="565" y="114" width="1" height="13" fill="#e9ff16"/>
<rect x="565" y="127" width="1" height="9" fill="#f9ff06"/>
<rect x="566" y="46" width="1" height="14" fill="#37ffc8"/>
<rect x="566" y="60" width="1" height="4" fill="#47ffb8"/>
<rect x="566" y="64" width="1" height="2" fill="#57ffa8"/>
<rect x="566" y="66" width="1" height="7" fill="#67ff98"/>
<rect x="566" y="73" width="1" height="9" fill="#77ff88"/>
<rect x="566" y="82" width="1" height="7" fill="#88ff77"/>
<rect x="566" y="89" width="1" height="6" fill="#98ff67"/>
<rect x="566" y="95" width="1" height="4" fill="#a8ff57"/>
<rect x="566" y="99" width="1" height="5" fill="#b8ff47"/>
<rect x="566" y="104" width="1" height="6" fill="#c8ff37"/>
<rect x="566" y="110" width="1" height="6" fill="#d9ff26"/>
<rect x="566" y="116" width="1" height="17" fill="#e9ff16"/>
<rect x="566" y="133" width="1" height="3" fill="#f9ff06"/>
<rect x="567" y="46" width="1" height="15" fill="#37ffc8"/>
<rect x="567" y="61" width="1" height="3" fill="#47ffb8"/>
<rect x="567" y="64" width="1" height="2" fill="#57ffa8"/>
<rect x="567" y="66" width="1" height="6" fill="#67ff98"/>
<rect x="567" y="72" width="1" height="10" fill="#77ff88"/>
<rect x="567" y="82" width="1" height="7" fill="#88ff77"/>
<rect x="567" y="89" width="1" height="5" fill="#98ff67"/>
<rect x="567" y="94" width="1" height="4" fill="#a8ff57"/>
<rect x="567" y="98" width="1" height="6" fill="#b8ff47"/>
<rect x="567" y="104" width="1" height="6" fill="#c8ff37"/>
<rect x="567" y="110" width="1" height="8" fill="#d9ff26"/>
<rect x="567" y="118" width="1" height="17" fill="#e9ff16"/>
<rect x="567" y="135" width="1" height="1" fill="#f9ff06"/>
<rect x="568" y="46" width="1" height="12" fill="#37ffc8"/>
<rect x="568" y="58" width="1" height="3" fill="#47ffb8"/>
<rect x="568" y="61" width="1" height="2" fill="#57ffa8"/>
<rect x="568" y="63" width="1" height="8" fill="#67ff98"/>
<rect x="568" y="71" width="1" height="9" fill="#77ff88"/>
<rect x="568" y="80" width="1" height="8" fill="#88ff77"/>
<rect x="568" y="88" width="1" height="5" fill="#98ff67"/>
<rect x="568" y="93" width="1" height="4" fill="#a8ff57"/>
<rect x="568" y="97" width="1" height="6" fill="#b8ff47"/>
<rect x="568" y="103" width="1" height="7" fill="#c8ff37"/>
<rect x="568" y="110" width="1" height="7" fill="#d9ff26"/>
<rect x="568" y="117" width="1" height="16" fill="#e9ff16"/>
<rect x="568" y="133" width="1" height="3" fill="#f9ff06"/>
<rect x="569" y="46" width="1" height="3" fill="#67ff98"/>
<rect x="569" y="49" width="1" height="13" fill="#57ffa8"/>
<rect x="569" y="62" width="1" height="8" fill="#67ff98"/>
<rect x="569" y="70" width="1" height="9" fill="#77ff88"/>
<rect x="569" y="79" width="1" height="8" fill="#88ff77"/>
<rect x="569" y="87" width="1" height="6" fill="#98ff67"/>
<rect x="569" y="93" width="1" height="4" fill="#a8ff57"/>
<rect x="569" y="97" width="1" height="6" fill="#b8ff47"/>
<rect x="569" y="103" width="1" height="7" fill="#c8ff37"/>
<rect x="569" y="110" width="1" height="8" fill="#d9ff26"/>
<rect x="569" y="118" width="1" height="15" fill="#e9ff16"/>
<rect x="569" y="133" width="1" height="3" fill="#f9ff06"/>
<rect x="570" y="46" width="1" height="17" fill="#57ffa8"/>
<rect x="570" y="63" width="1" height="8" fill="#67ff98"/>
<rect x="570" y="71" width="1" height="9" fill="#77ff88"/>
<rect x="570" y="80" width="1" height="8" fill="#88ff77"/>
<rect x="570" y="88" width="1" height="6" fill="#98ff67"/>
<rect x="570" y="94" width="1" height="4" fill="#a8ff57"/>
<rect x="570" y="98" width="1" height="6" fill="#b8ff47"/>
<rect x="570" y="104" width="1" height="8" fill="#c8ff37"/>
<rect x="570" y="112" width="1" height="8" fill="#d9ff26"/>
<rect x="570" y="120" width="1" height="14" fill="#e9ff16"/>
<rect x="570" y="134" width="1" height="2" fill="#f9ff06"/>
<rect x="571" y="46" width="1" height="23" fill="#67ff98"/>
<rect x="571" y="69" width="1" height="9" fill="#77ff88"/>
<rect x="571" y="78" width="1" height="8" fill="#88ff77"/>
<rect x="571" y="86" width="1" height="6" fill="#98ff67"/>
<rect x="571" y="92" width="1" height="5" fill="#a8ff57"/>
<rect x="571" y="97" width="1" height="5" fill="#b8ff47"/>
<rect x="571" y="102" width="1" height="8" fill="#c8ff37"/>
<rect x="571" y="110" width="1" height="8" fill="#d9ff26"/>
<rect x="571" y="118" width="1" height="14" fill="#e9ff16"/>
<rect x="571" y="132" width="1" height="4" fill="#f9ff06"/>
<rect x="572" y="46" width="1" height="5" fill="#57ffa8"/>
<rect x="572" y="51" width="1" height="15" fill="#67ff98"/>
<rect x="572" y="66" width="1" height="8" fill="#77ff88"/>
<rect x="572" y="74" width="1" height="9" fill="#88ff77"/>
<rect x="572" y="83" width="1" height="7" fill="#98ff67"/>
<rect x="572" y="90" width="1" height="4" fill="#a8ff57"/>
<rect x="572" y="94" width="1" height="5" fill="#b8ff47"/>
<rect x="572" y="99" width="1" height="8" fill="#c8ff37"/>
<rect x="572" y="107" width="1" height="9" fill="#d9ff26"/>
<rect x="572" y="116" width="1" height="12" fill="#e9ff16"/>
<rect x="572" y="128" width="1" height="8" fill="#f9ff06"/>
<rect x="573" y="46" width="1" height="18" fill="#67ff98"/>
<rect x="573" y="64" width="1" height="9" fill="#77ff88"/>
<rect x="573" y="73" width="1" height="9" fill="#88ff77"/>
<rect x="573" y="82" width="1" height="7" fill="#98ff67"/>
<rect x="573" y="89" width="1" height="4" fill="#a8ff57"/>
<rect x="573" y="93" width="1" height="5" fill="#b8ff47"/>
<rect x="573" y="98" width="1" height="9" fill="#c8ff37"/>
<rect x="573" y="107" width="1" height="8" fill="#d9ff26"/>
<rect x="573" y="115" width="1" height="12" fill="#e9ff16"/>
<rect x="573" y="127" width="1" height="9" fill="#f9ff06"/>
<rect x="574" y="46" width="1" height="5" fill="#57ffa8"/>
<rect x="574" y="51" width="1" height="15" fill="#67ff98"/>
<rect x="574" y="66" width="1" height="9" fill="#77ff88"/>
<rect x="574" y="75" width="1" height="8" fill="#88ff77"/>
<rect x="574" y="83" width="1" height="7" fill="#98ff67"/>
<rect x="574" y="90" width="1" height="5" fill="#a8ff57"/>
<rect x="574" y="95" width="1" height="5" fill="#b8ff47"/>
<rect x="574" y="100" width="1" height="9" fill="#c8ff37"/>
<rect x="574" y="109" width="1" height="9" fill="#d9ff26"/>
<rect x="574" y="118" width="1" height="13" fill="#e9ff16"/>
<rect x="574" y="131" width="1" height="5" fill="#f9ff06"/>
<rect x="575" y="46" width="1" height="9" fill="#37ffc8"/>
<rect x="575" y="55" width="1" height="2" fill="#47ffb8"/>
<rect x="575" y="57" width="1" height="4" fill="#57ffa8"/>
<rect x="575" y="61" width="1" height="7" fill="#67ff98"/>
<rect x="575" y="68" width="1" height="9" fill="#77ff88"/>
<rect x="575" y="77" width="1" height="8" fill="#88ff77"/>
<rect x="575" y="85" width="1" height="7" fill="#98ff67"/>
<rect x="575" y="92" width="1" height="5" fill="#a8ff57"/>
<rect x="575" y="97" width="1" height="6" fill="#b8ff47"/>
<rect x="575" y="103" width="1" height="9" fill="#c8ff37"/>
<rect x="575" y="112" width="1" height="9" fill="#d9ff26"/>
<rect x="575" y="121" width="1" height="15" fill="#e9ff16"/>
<rect x="576" y="46" width="1" height="11" fill="#47ffb8"/>
<rect x="576" y="57" width="1" height="3" fill="#57ffa8"/>
<rect x="576" y="60" width="1" height="7" fill="#67ff98"/>
<rect x="576" y="67" width="1" height="9" fill="#77ff88"/>
<rect x="576" y="76" width="1" height="8" fill="#88ff77"/>
<rect x="576" y="84" width="1" height="7" fill="#98ff67"/>
<rect x="576" y="91" width="1" height="5" fill="#a8ff57"/>
<rect x="576" y="96" width="1" height="6" fill="#b8ff47"/>
<rect x="576" y="102" width="1" height="9" fill="#c8ff37"/>
<rect x="576" y="111" width="1" height="9" fill="#d9ff26"/>
<rect x="576" y="120" width="1" height="15" fill="#e9ff16"/>
<rect x="576" y="135" width="1" height="1" fill="#f9ff06"/>
<rect x="577" y="46" width="1" height="10" fill="#37ffc8"/>
<rect x="577" y="56" width="1" height="2" fill="#47ffb8"/>
<rect x="577" y="58" width="1" height="1" fill="#57ffa8"/>
<rect x="577" y="59" width="1" height="5" fill="#67ff98"/>
<rect x="577" y="64" width="1" height="8" fill="#77ff88"/>
<rect x="577" y="72" width="1" height="9" fill="#88ff77"/>
<rect x="577" y="81" width="1" height="8" fill="#98ff67"/>
<rect x="577" y="89" width="1" height="5" fill="#a8ff57"/>
<rect x="577" y="94" width="1" height="5" fill="#b8ff47"/>
<rect x="577" y="99" width="1" height="9" fill="#c8ff37"/>
<rect x="577" y="108" width="1" height="9" fill="#d9ff26"/>
<rect x="577" y="117" width="1" height="13" fill="#e9ff16"/>
<rect x="577" y="130" width="1" height="6" fill="#f9ff06"/>
<rect x="578" y="46" width="1" height="6" fill="#37ffc8"/>
<rect x="578" y="52" width="1" height="1" fill="#47ffb8"/>
<rect x="578" y="53" width="1" height="1" fill="#57ffa8"/>
<rect x="578" y="54" width="1" height="8" fill="#67ff98"/>
<rect x="578" y="62" width="1" height="7" fill="#77ff88"/>
<rect x="578" y="69" width="1" height="10" fill="#88ff77"/>
<rect x="578" y="79" width="1" height="7" fill="#98ff67"/>
<rect x="578" y="86" width="1" height="6" fill="#a8ff57"/>
<rect x="578" y="92" width="1" height="5" fill="#b8ff47"/>
<rect x="578" y="97" width="1" height="9" fill="#c8ff37"/>
<rect x="578" y="106" width="1" height="9" fill="#d9ff26"/>
<rect x="578" y="115" width="1" height="12" fill="#e9ff16"/>
<rect x="578" y="127" width="1" height="9" fill="#f9ff06"/>
<rect x="579" y="46" width="1" height="12" fill="#47ffb8"/>
<rect x="579" y="58" width="1" height="2" fill="#57ffa8"/>
<rect x="579" y="60" width="1" height="1" fill="#67ff98"/>
<rect x="579" y="61" width="1" height="8" fill="#77ff88"/>
<rect x="579" y="69" width="1" height="9" fill="#88ff77"/>
<rect x="579" y="78" width="1" height="8" fill="#98ff67"/>
<rect x="579" y="86" width="1" height="5" fill="#a8ff57"/>
<rect x="579" y="91" width="1" height="6" fill="#b8ff47"/>
<rect x="579" y="97" width="1" height="9" fill="#c8ff37"/>
<rect x="579" y="106" width="1" height="10" fill="#d9ff26"/>
<rect x="579" y="116" width="1" height="12" fill="#e9ff16"/>
<rect x="579" y="128" width="1" height="8" fill="#f9ff06"/>
<rect x="580" y="46" width="1" height="9" fill="#37ffc8"/>
<rect x="580" y="55" width="1" height="2" fill="#47ffb8"/>
<rect x="580" y="57" width="1" height="2" fill="#57ffa8"/>
<rect x="580" y="59" width="1" height="4" fill="#67ff98"/>
<rect x="580" y="63" width="1" height="8" fill="#77ff88"/>
<rect x="580" y="71" width="1" height="9" fill="#88ff77"/>
<rect x="580" y="80" width="1" height="7" fill="#98ff67"/>
<rect x="580" y="87" width="1" height="5" fill="#a8ff57"/>
<rect x="580" y="92" width="1" height="7" fill="#b8ff47"/>
<rect x="580" y="99" width="1" height="10" fill="#c8ff37"/>
<rect x="580" y="109" width="1" height="9" fill="#d9ff26"/>
<rect x="580" y="118" width="1" height="15" fill="#e9ff16"/>
<rect x="580" y="133" width="1" height="3" fill="#f9ff06"/>
<rect x="581" y="46" width="1" height="8" fill="#37ffc8"/>
<rect x="581" y="54" width="1" height="2" fill="#47ffb8"/>
<rect x="581" y="56" width="1" height="2" fill="#57ffa8"/>
<rect x="581" y="58" width="1" height="5" fill="#67ff98"/>
<rect x="581" y="63" width="1" height="9" fill="#77ff88"/>
<rect x="581" y="72" width="1" height="9" fill="#88ff77"/>
<rect x="581" y="81" width="1" height="6" fill="#98ff67"/>
<rect x="581" y="87" width="1" height="6" fill="#a8ff57"/>
<rect x="581" y="93" width="1" height="7" fill="#b8ff47"/>
<rect x="581" y="100" width="1" height="10" fill="#c8ff37"/>
<rect x="581" y="110" width="1" height="9" fill="#d9ff26"/>
<rect x="581" y="119" width="1" height="16" fill="#e9ff16"/>
<rect x="581" y="135" width="1" height="1" fill="#f9ff06"/>
<rect x="582" y="46" width="1" height="11" fill="#47ffb8"/>
<rect x="582" y="57" width="1" height="3" fill="#57ffa8"/>
<rect x="582" y="60" width="1" height="6" fill="#67ff98"/>
<rect x="582" y="66" width="1" height="9" fill="#77ff88"/>
<rect x="582" y="75" width="1" height="9" fill="#88ff77"/>
<rect x="582" y="84" width="1" height="6" fill="#98ff67"/>
<rect x="582" y="90" width="1" height="5" fill="#a8ff57"/>
<rect x="582" y="95" width="1" height="8" fill="#b8ff47"/>
<rect x="582" y="103" width="1" height="10" fill="#c8ff37"/>
<rect x="582" y="113" width="1" height="11" fill="#d9ff26"/>
<rect x="582" y="124" width="1" height="12" fill="#e9ff16"/>
<rect x="583" y="46" width="1" height="9" fill="#47ffb8"/>
<rect x="583" y="55" width="1" height="7" fill="#57ffa8"/>
<rect x="583" y="62" width="1" height="7" fill="#67ff98"/>
<rect x="583" y="69" width="1" height="9" fill="#77ff88"/>
<rect x="583" y="78" width="1" height="8" fill="#88ff77"/>
<rect x="583" y="86" width="1" height="6" fill="#98ff67"/>
<rect x="583" y="92" width="1" height="5" fill="#a8ff57"/>
<rect x="583" y="97" width="1" height="9" fill="#b8ff47"/>
<rect x="583" y="106" width="1" height="9" fill="#c8ff37"/>
<rect x="583" y="115" width="1" height="13" fill="#d9ff26"/>
<rect x="583" y="128" width="1" height="8" fill="#e9ff16"/>
<rect x="584" y="46" width="1" height="10" fill="#37ffc8"/>
<rect x="584" y="56" width="1" height="3" fill="#47ffb8"/>
<rect x="584" y="59" width="1" height="2" fill="#57ffa8"/>
<rect x="584" y="61" width="1" height="8" fill="#67ff98"/>
<rect x="584" y="69" width="1" height="8" fill="#77ff88"/>
<rect x="584" y="77" width="1" height="8" fill="#88ff77"/>
<rect x="584" y="85" width="1" height="6" fill="#98ff67"/>
<rect x="584" y="91" width="1" height="5" fill="#a8ff57"/>
<rect x="584" y="96" width="1" height="9" fill="#b8ff47"/>
<rect x="584" y="105" width="1" height="9" fill="#c8ff37"/>
<rect x="584" y="114" width="1" height="12" fill="#d9ff26"/>
<rect x="584" y="126" width="1" height="10" fill="#e9ff16"/>
<rect x="585" y="46" width="1" height="5" fill="#37ffc8"/>
<rect x="585" y="51" width="1" height="2" fill="#47ffb8"/>
<rect x="585" y="53" width="1" height="7" fill="#57ffa8"/>
<rect x="585" y="60" width="1" height="6" fill="#67ff98"/>
<rect x="585" y="66" width="1" height="9" fill="#77ff88"/>
<rect x="585" y="75" width="1" height="8" fill="#88ff77"/>
<rect x="585" y="83" width="1" height="7" fill="#98ff67"/>
<rect x="585" y="90" width="1" height="5" fill="#a8ff57"/>
<rect x="585" y="95" width="1" height="7" fill="#b8ff47"/>
<rect x="585" y="102" width="1" height="10" fill="#c8ff37"/>
<rect x="585" y="112" width="1" height="9" fill="#d9ff26"/>
<rect x="585" y="121" width="1" height="15" fill="#e9ff16"/>
<rect x="586" y="46" width="1" height="8" fill="#47ffb8"/>
<rect x="586" y="54" width="1" height="1" fill="#57ffa8"/>
<rect x="586" y="55" width="1" height="8" fill="#67ff98"/>
<rect x="586" y="63" width="1" height="7" fill="#77ff88"/>
<rect x="586" y="70" width="1" height="9" fill="#88ff77"/>
<rect x="586" y="79" width="1" height="8" fill="#98ff67"/>
<rect x="586" y="87" width="1" height="5" fill="#a8ff57"/>
<rect x="586" y="92" width="1" height="6" fill="#b8ff47"/>
<rect x="586" y="98" width="1" height="9" fill="#c8ff37"/>
<rect x="586" y="107" width="1" height="9" fill="#d9ff26"/>
<rect x="586" y="116" width="1" height="13" fill="#e9ff16"/>
<rect x="586" y="129" width="1" height="7" fill="#f9ff06"/>
<rect x="587" y="46" width="1" height="9" fill="#37ffc8"/>
<rect x="587" y="55" width="1" height="1" fill="#47ffb8"/>
<rect x="587" y="56" width="1" height="2" fill="#57ffa8"/>
<rect x="587" y="58" width="1" height="5" fill="#67ff98"/>
<rect x="587" y="63" width="1" height="8" fill="#77ff88"/>
<rect x="587" y="71" width="1" height="8" fill="#88ff77"/>
<rect x="587" y="79" width="1" height="8" fill="#98ff67"/>
<rect x="587" y="87" width="1" height="5" fill="#a8ff57"/>
<rect x="587" y="92" width="1" height="6" fill="#b8ff47"/>
<rect x="587" y="98" width="1" height="9" fill="#c8ff37"/>
<rect x="587" y="107" width="1" height="8" fill="#d9ff26"/>
<rect x="587" y="115" width="1" height="13" fill="#e9ff16"/>
<rect x="587" y="128" width="1" height="8" fill="#f9ff06"/>
<rect x="588" y="46" width="1" height="7" fill="#37ffc8"/>
<rect x="588" y="53" width="1" height="2" fill="#47ffb8"/>
<rect x="588" y="55" width="1" height="2" fill="#57ffa8"/>
<rect x="588" y="57" width="1" height="8" fill="#67ff98"/>
<rect x="588" y="65" width="1" height="8" fill="#77ff88"/>
<rect x="588" y="73" width="1" height="8" fill="#88ff77"/>
<rect x="588" y="81" width="1" height="7" fill="#98ff67"/>
<rect x="588" y="88" width="1" height="6" fill="#a8ff57"/>
<rect x="588" y="94" width="1" height="6" fill="#b8ff47"/>
<rect x="588" y="100" width="1" height="9" fill="#c8ff37"/>
<rect x="588" y="109" width="1" height="9" fill="#d9ff26"/>
<rect x="588" y="118" width="1" height="14" fill="#e9ff16"/>
<rect x="588" y="132" width="1" height="4" fill="#f9ff06"/>
<rect x="589" y="46" width="1" height="9" fill="#47ffb8"/>
<rect x="589" y="55" width="1" height="3" fill="#57ffa8"/>
<rect x="589" y="58" width="1" height="7" fill="#67ff98"/>
<rect x="589" y="65" width="1" height="8" fill="#77ff88"/>
<rect x="589" y="73" width="1" height="8" fill="#88ff77"/>
<rect x="589" y="81" width="1" height="8" fill="#98ff67"/>
<rect x="589" y="89" width="1" height="5" fill="#a8ff57"/>
<rect x="589" y="94" width="1" height="6" fill="#b8ff47"/>
<rect x="589" y="100" width="1" height="9" fill="#c8ff37"/>
<rect x="589" y="109" width="1" height="8" fill="#d9ff26"/>
<rect x="589" y="117" width="1" height="14" fill="#e9ff16"/>
<rect x="589" y="131" width="1" height="5" fill="#f9ff06"/>
<rect x="590" y="46" width="1" height="9" fill="#37ffc8"/>
<rect x="590" y="55" width="1" height="2" fill="#47ffb8"/>
<rect x="590" y="57" width="1" height="1" fill="#57ffa8"/>
<rect x="590" y="58" width="1" height="6" fill="#67ff98"/>
<rect x="590" y="64" width="1" height="7" fill="#77ff88"/>
<rect x="590" y="71" width="1" height="8" fill="#88ff77"/>
<rect x="590" y="79" width="1" height="7" fill="#98ff67"/>
<rect x="590" y="86" width="1" height="6" fill="#a8ff57"/>
<rect x="590" y="92" width="1" height="6" fill="#b8ff47"/>
<rect x="590" y="98" width="1" height="8" fill="#c8ff37"/>
<rect x="590" y="106" width="1" height="9" fill="#d9ff26"/>
<rect x="590" y="115" width="1" height="12" fill="#e9ff16"/>
<rect x="590" y="127" width="1" height="9" fill="#f9ff06"/>
<rect x="591" y="46" width="1" height="10" fill="#26ffd9"/>
<rect x="591" y="56" width="1" height="2" fill="#37ffc8"/>
<rect x="591" y="58" width="1" height="1" fill="#47ffb8"/>
<rect x="591" y="59" width="1" height="2" fill="#57ffa8"/>
<rect x="591" y="61" width="1" height="1" fill="#67ff98"/>
<rect x="591" y="62" width="1" height="6" fill="#77ff88"/>
<rect x="591" y="68" width="1" height="8" fill="#88ff77"/>
<rect x="591" y="76" width="1" height="8" fill="#98ff67"/>
<rect x="591" y="84" width="1" height="6" fill="#a8ff57"/>
<rect x="591" y="90" width="1" height="6" fill="#b8ff47"/>
<rect x="591" y="96" width="1" height="7" fill="#c8ff37"/>
<rect x="591" y="103" width="1" height="9" fill="#d9ff26"/>
<rect x="591" y="112" width="1" height="10" fill="#e9ff16"/>
<rect x="591" y="122" width="1" height="14" fill="#f9ff06"/>
<rect x="592" y="46" width="1" height="8" fill="#26ffd9"/>
<rect x="592" y="54" width="1" height="1" fill="#37ffc8"/>
<rect x="592" y="55" width="1" height="1" fill="#47ffb8"/>
<rect x="592" y="56" width="1" height="1" fill="#57ffa8"/>
<rect x="592" y="57" width="1" height="3" fill="#67ff98"/>
<rect x="592" y="60" width="1" height="7" fill="#77ff88"/>
<rect x="592" y="67" width="1" height="8" fill="#88ff77"/>
<rect x="592" y="75" width="1" height="8" fill="#98ff67"/>
<rect x="592" y="83" width="1" height="6" fill="#a8ff57"/>
<rect x="592" y="89" width="1" height="5" fill="#b8ff47"/>
<rect x="592" y="94" width="1" height="8" fill="#c8ff37"/>
<rect x="592" y="102" width="1" height="8" fill="#d9ff26"/>
<rect x="592" y="110" width="1" height="10" fill="#e9ff16"/>
<rect x="592" y="120" width="1" height="16" fill="#f9ff06"/>
<rect x="593" y="46" width="1" height="6" fill="#37ffc8"/>
<rect x="593" y="52" width="1" height="1" fill="#47ffb8"/>
<rect x="593" y="53" width="1" height="1" fill="#57ffa8"/>
<rect x="593" y="54" width="1" height="6" fill="#67ff98"/>
<rect x="593" y="60" width="1" height="6" fill="#77ff88"/>
<rect x="593" y="66" width="1" height="8" fill="#88ff77"/>
<rect x="593" y="74" width="1" height="8" fill="#98ff67"/>
<rect x="593" y="82" width="1" height="7" fill="#a8ff57"/>
<rect x="593" y="89" width="1" height="5" fill="#b8ff47"/>
<rect x="593" y="94" width="1" height="7" fill="#c8ff37"/>
<rect x="593" y="101" width="1" height="8" fill="#d9ff26"/>
<rect x="593" y="109" width="1" height="11" fill="#e9ff16"/>
<rect x="593" y="120" width="1" height="16" fill="#f9ff06"/>
<rect x="594" y="46" width="1" height="13" fill="#67ff98"/>
<rect x="594" y="59" width="1" height="7" fill="#77ff88"/>
<rect x="594" y="66" width="1" height="8" fill="#88ff77"/>
<rect x="594" y="74" width="1" height="8" fill="#98ff67"/>
<rect x="594" y="82" width="1" height="6" fill="#a8ff57"/>
<rect x="594" y="88" width="1" height="6" fill="#b8ff47"/>
<rect x="594" y="94" width="1" height="7" fill="#c8ff37"/>
<rect x="594" y="101" width="1" height="7" fill="#d9ff26"/>
<rect x="594" y="108" width="1" height="12" fill="#e9ff16"/>
<rect x="594" y="120" width="1" height="16" fill="#f9ff06"/>
<rect x="595" y="46" width="1" height="12" fill="#67ff98"/>
<rect x="595" y="58" width="1" height="6" fill="#77ff88"/>
<rect x="595" y="64" width="1" height="8" fill="#88ff77"/>
<rect x="595" y="72" width="1" height="7" fill="#98ff67"/>
<rect x="595" y="79" width="1" height="7" fill="#a8ff57"/>
<rect x="595" y="86" width="1" height="6" fill="#b8ff47"/>
<rect x="595" y="92" width="1" height="7" fill="#c8ff37"/>
<rect x="595" y="99" width="1" height="7" fill="#d9ff26"/>
<rect x="595" y="106" width="1" height="10" fill="#e9ff16"/>
<rect x="595" y="116" width="1" height="20" fill="#f9ff06"/>
<rect x="596" y="46" width="1" height="3" fill="#77ff88"/>
<rect x="596" y="49" width="1" height="7" fill="#67ff98"/>
<rect x="596" y="56" width="1" height="6" fill="#77ff88"/>
<rect x="596" y="62" width="1" height="8" fill="#88ff77"/>
<rect x="596" y="70" width="1" height="8" fill="#98ff67"/>
<rect x="596" y="78" width="1" height="7" fill="#a8ff57"/>
<rect x="596" y="85" width="1" height="6" fill="#b8ff47"/>
<rect x="596" y="91" width="1" height="6" fill="#c8ff37"/>
<rect x="596" y="97" width="1" height="7" fill="#d9ff26"/>
<rect x="596" y="104" width="1" height="10" fill="#e9ff16"/>
<rect x="596" y="114" width="1" height="22" fill="#f9ff06"/>
<rect x="597" y="46" width="1" height="9" fill="#67ff98"/>
<rect x="597" y="55" width="1" height="6" fill="#77ff88"/>
<rect x="597" y="61" width="1" height="8" fill="#88ff77"/>
<rect x="597" y="69" width="1" height="8" fill="#98ff67"/>
<rect x="597" y="77" width="1" height="7" fill="#a8ff57"/>
<rect x="597" y="84" width="1" height="6" fill="#b8ff47"/>
<rect x="597" y="90" width="1" height="6" fill="#c8ff37"/>
<rect x="597" y="96" width="1" height="7" fill="#d9ff26"/>
<rect x="597" y="103" width="1" height="12" fill="#e9ff16"/>
<rect x="597" y="115" width="1" height="21" fill="#f9ff06"/>
<rect x="598" y="46" width="1" height="9" fill="#67ff98"/>
<rect x="598" y="55" width="1" height="6" fill="#77ff88"/>
<rect x="598" y="61" width="1" height="8" fill="#88ff77"/>
<rect x="598" y="69" width="1" height="8" fill="#98ff67"/>
<rect x="598" y="77" width="1" height="6" fill="#a8ff57"/>
<rect x="598" y="83" width="1" height="6" fill="#b8ff47"/>
<rect x="598" y="89" width="1" height="6" fill="#c8ff37"/>
<rect x="598" y="95" width="1" height="6" fill="#d9ff26"/>
<rect x="598" y="101" width="1" height="15" fill="#e9ff16"/>
<rect x="598" y="116" width="1" height="20" fill="#f9ff06"/>
<rect x="599" y="46" width="1" height="7" fill="#67ff98"/>
<rect x="599" y="53" width="1" height="7" fill="#77ff88"/>
<rect x="599" y="60" width="1" height="7" fill="#88ff77"/>
<rect x="599" y="67" width="1" height="8" fill="#98ff67"/>
<rect x="599" y="75" width="1" height="7" fill="#a8ff57"/>
<rect x="599" y="82" width="1" height="6" fill="#b8ff47"/>
<rect x="599" y="88" width="1" height="6" fill="#c8ff37"/>
<rect x="599" y="94" width="1" height="6" fill="#d9ff26"/>
<rect x="599" y="100" width="1" height="15" fill="#e9ff16"/>
<rect x="599" y="115" width="1" height="21" fill="#f9ff06"/>
<rect x="600" y="46" width="1" height="2" fill="#77ff88"/>
<rect x="600" y="48" width="1" height="5" fill="#67ff98"/>
<rect x="600" y="53" width="1" height="6" fill="#77ff88"/>
<rect x="600" y="59" width="1" height="8" fill="#88ff77"/>
<rect x="600" y="67" width="1" height="8" fill="#98ff67"/>
<rect x="600" y="75" width="1" height="6" fill="#a8ff57"/>
<rect x="600" y="81" width="1" height="6" fill="#b8ff47"/>
<rect x="600" y="87" width="1" height="5" fill="#c8ff37"/>
<rect x="600" y="92" width="1" height="6" fill="#d9ff26"/>
<rect x="600" y="98" width="1" height="15" fill="#e9ff16"/>
<rect x="600" y="113" width="1" height="23" fill="#f9ff06"/>
<rect x="601" y="46" width="1" height="7" fill="#67ff98"/>
<rect x="601" y="53" width="1" height="6" fill="#77ff88"/>
<rect x="601" y="59" width="1" height="8" fill="#88ff77"/>
<rect x="601" y="67" width="1" height="8" fill="#98ff67"/>
<rect x="601" y="75" width="1" height="6" fill="#a8ff57"/>
<rect x="601" y="81" width="1" height="5" fill="#b8ff47"/>
<rect x="601" y="86" width="1" height="5" fill="#c8ff37"/>
<rect x="601" y="91" width="1" height="5" fill="#d9ff26"/>
<rect x="601" y="96" width="1" height="12" fill="#e9ff16"/>
<rect x="601" y="108" width="1" height="20" fill="#f9ff06"/>
<rect x="601" y="128" width="1" height="8" fill="#fff500"/>
<rect x="602" y="46" width="1" height="8" fill="#67ff98"/>
<rect x="602" y="54" width="1" height="7" fill="#77ff88"/>
<rect x="602" y="61" width="1" height="8" fill="#88ff77"/>
<rect x="602" y="69" width="1" height="7" fill="#98ff67"/>
<rect x="602" y="76" width="1" height="5" fill="#a8ff57"/>
<rect x="602" y="81" width="1" height="5" fill="#b8ff47"/>
<rect x="602" y="86" width="1" height="4" fill="#c8ff37"/>
<rect x="602" y="90" width="1" height="5" fill="#d9ff26"/>
<rect x="602" y="95" width="1" height="12" fill="#e9ff16"/>
<rect x="602" y="107" width="1" height="16" fill="#f9ff06"/>
<rect x="602" y="123" width="1" height="9" fill="#fff500"/>
<rect x="602" y="132" width="1" height="4" fill="#ffe500"/>
<rect x="603" y="46" width="1" height="9" fill="#67ff98"/>
<rect x="603" y="55" width="1" height="7" fill="#77ff88"/>
<rect x="603" y="62" width="1" height="8" fill="#88ff77"/>
<rect x="603" y="70" width="1" height="7" fill="#98ff67"/>
<rect x="603" y="77" width="1" height="4" fill="#a8ff57"/>
<rect x="603" y="81" width="1" height="5" fill="#b8ff47"/>
<rect x="603" y="86" width="1" height="3" fill="#c8ff37"/>
<rect x="603" y="89" width="1" height="4" fill="#d9ff26"/>
<rect x="603" y="93" width="1" height="10" fill="#e9ff16"/>
<rect x="603" y="103" width="1" height="12" fill="#f9ff06"/>
<rect x="603" y="115" width="1" height="9" fill="#fff500"/>
<rect x="603" y="124" width="1" height="9" fill="#ffe500"/>
<rect x="603" y="133" width="1" height="3" fill="#ffd500"/>
<rect x="604" y="46" width="1" height="2" fill="#77ff88"/>
<rect x="604" y="48" width="1" height="6" fill="#67ff98"/>
<rect x="604" y="54" width="1" height="6" fill="#77ff88"/>
<rect x="604" y="60" width="1" height="9" fill="#88ff77"/>
<rect x="604" y="69" width="1" height="7" fill="#98ff67"/>
<rect x="604" y="76" width="1" height="4" fill="#a8ff57"/>
<rect x="604" y="80" width="1" height="4" fill="#b8ff47"/>
<rect x="604" y="84" width="1" height="3" fill="#c8ff37"/>
<rect x="604" y="87" width="1" height="4" fill="#d9ff26"/>
<rect x="604" y="91" width="1" height="5" fill="#e9ff16"/>
<rect x="604" y="96" width="1" height="9" fill="#f9ff06"/>
<rect x="604" y="105" width="1" height="9" fill="#fff500"/>
<rect x="604" y="114" width="1" height="9" fill="#ffe500"/>
<rect x="604" y="123" width="1" height="8" fill="#ffd500"/>
<rect x="604" y="131" width="1" height="5" fill="#ffc400"/>
<rect x="605" y="46" width="1" height="5" fill="#47ffb8"/>
<rect x="605" y="51" width="1" height="1" fill="#57ffa8"/>
<rect x="605" y="52" width="1" height="3" fill="#67ff98"/>
<rect x="605" y="55" width="1" height="7" fill="#77ff88"/>
<rect x="605" y="62" width="1" height="8" fill="#88ff77"/>
<rect x="605" y="70" width="1" height="7" fill="#98ff67"/>
<rect x="605" y="77" width="1" height="3" fill="#a8ff57"/>
<rect x="605" y="80" width="1" height="4" fill="#b8ff47"/>
<rect x="605" y="84" width="1" height="2" fill="#c8ff37"/>
<rect x="605" y="86" width="1" height="3" fill="#d9ff26"/>
<rect x="605" y="89" width="1" height="4" fill="#e9ff16"/>
<rect x="605" y="93" width="1" height="5" fill="#f9ff06"/>
<rect x="605" y="98" width="1" height="9" fill="#fff500"/>
<rect x="605" y="107" width="1" height="10" fill="#ffe500"/>
<rect x="605" y="117" width="1" height="8" fill="#ffd500"/>
<rect x="605" y="125" width="1" height="4" fill="#ffc400"/>
<rect x="605" y="129" width="1" height="6" fill="#ffb400"/>
<rect x="605" y="135" width="1" height="1" fill="#ffa400"/>
<rect x="606" y="46" width="1" height="6" fill="#47ffb8"/>
<rect x="606" y="52" width="1" height="1" fill="#57ffa8"/>
<rect x="606" y="53" width="1" height="2" fill="#67ff98"/>
<rect x="606" y="55" width="1" height="9" fill="#77ff88"/>
<rect x="606" y="64" width="1" height="8" fill="#88ff77"/>
<rect x="606" y="72" width="1" height="5" fill="#98ff67"/>
<rect x="606" y="77" width="1" height="3" fill="#a8ff57"/>
<rect x="606" y="80" width="1" height="3" fill="#b8ff47"/>
<rect x="606" y="83" width="1" height="3" fill="#c8ff37"/>
<rect x="606" y="86" width="1" height="2" fill="#d9ff26"/>
<rect x="606" y="88" width="1" height="3" fill="#e9ff16"/>
<rect x="606" y="91" width="1" height="3" fill="#f9ff06"/>
<rect x="606" y="94" width="1" height="9" fill="#fff500"/>
<rect x="606" y="103" width="1" height="11" fill="#ffe500"/>
<rect x="606" y="114" width="1" height="6" fill="#ffd500"/>
<rect x="606" y="120" width="1" height="6" fill="#ffc400"/>
<rect x="606" y="126" width="1" height="6" fill="#ffb400"/>
<rect x="606" y="132" width="1" height="4" fill="#ffa400"/>
<rect x="607" y="46" width="1" height="6" fill="#47ffb8"/>
<rect x="607" y="52" width="1" height="1" fill="#57ffa8"/>
<rect x="607" y="53" width="1" height="2" fill="#67ff98"/>
<rect x="607" y="55" width="1" height="10" fill="#77ff88"/>
<rect x="607" y="65" width="1" height="7" fill="#88ff77"/>
<rect x="607" y="72" width="1" height="5" fill="#98ff67"/>
<rect x="607" y="77" width="1" height="4" fill="#a8ff57"/>
<rect x="607" y="81" width="1" height="2" fill="#b8ff47"/>
<rect x="607" y="83" width="1" height="2" fill="#c8ff37"/>
<rect x="607" y="85" width="1" height="3" fill="#d9ff26"/>
<rect x="607" y="88" width="1" height="2" fill="#e9ff16"/>
<rect x="607" y="90" width="1" height="4" fill="#f9ff06"/>
<rect x="607" y="94" width="1" height="9" fill="#fff500"/>
<rect x="607" y="103" width="1" height="8" fill="#ffe500"/>
<rect x="607" y="111" width="1" height="7" fill="#ffd500"/>
<rect x="607" y="118" width="1" height="7" fill="#ffc400"/>
<rect x="607" y="125" width="1" height="7" fill="#ffb400"/>
<rect x="607" y="132" width="1" height="4" fill="#ffa400"/>
<rect x="608" y="46" width="1" height="7" fill="#57ffa8"/>
<rect x="608" y="53" width="1" height="3" fill="#67ff98"/>
<rect x="608" y="56" width="1" height="10" fill="#77ff88"/>
<rect x="608" y="66" width="1" height="8" fill="#88ff77"/>
<rect x="608" y="74" width="1" height="5" fill="#98ff67"/>
<rect x="608" y="79" width="1" height="3" fill="#a8ff57"/>
<rect x="608" y="82" width="1" height="2" fill="#b8ff47"/>
<rect x="608" y="84" width="1" height="2" fill="#c8ff37"/>
<rect x="608" y="86" width="1" height="3" fill="#d9ff26"/>
<rect x="608" y="89" width="1" height="2" fill="#e9ff16"/>
<rect x="608" y="91" width="1" height="3" fill="#f9ff06"/>
<rect x="608" y="94" width="1" height="8" fill="#fff500"/>
<rect x="608" y="102" width="1" height="7" fill="#ffe500"/>
<rect x="608" y="109" width="1" height="8" fill="#ffd500"/>
<rect x="608" y="117" width="1" height="8" fill="#ffc400"/>
<rect x="608" y="125" width="1" height="8" fill="#ffb400"/>
<rect x="608" y="133" width="1" height="3" fill="#ffa400"/>
<rect x="609" y="46" width="1" height="6" fill="#47ffb8"/>
<rect x="609" y="52" width="1" height="2" fill="#57ffa8"/>
<rect x="609" y="54" width="1" height="3" fill="#67ff98"/>
<rect x="609" y="57" width="1" height="11" fill="#77ff88"/>
<rect x="609" y="68" width="1" height="7" fill="#88ff77"/>
<rect x="609" y="75" width="1" height="5" fill="#98ff67"/>
<rect x="609" y="80" width="1" height="3" fill="#a8ff57"/>
<rect x="609" y="83" width="1" height="3" fill="#b8ff47"/>
<rect x="609" y="86" width="1" height="2" fill="#c8ff37"/>
<rect x="609" y="88" width="1" height="2" fill="#d9ff26"/>
<rect x="609" y="90" width="1" height="2" fill="#e9ff16"/>
<rect x="609" y="92" width="1" height="3" fill="#f9ff06"/>
<rect x="609" y="95" width="1" height="6" fill="#fff500"/>
<rect x="609" y="101" width="1" height="6" fill="#ffe500"/>
<rect x="609" y="107" width="1" height="9" fill="#ffd500"/>
<rect x="609" y="116" width="1" height="9" fill="#ffc400"/>
<rect x="609" y="125" width="1" height="9" fill="#ffb400"/>
<rect x="609" y="134" width="1" height="2" fill="#ffa400"/>
<rect x="610" y="46" width="1" height="6" fill="#47ffb8"/>
<rect x="610" y="52" width="1" height="2" fill="#57ffa8"/>
<rect x="610" y="54" width="1" height="4" fill="#67ff98"/>
<rect x="610" y="58" width="1" height="10" fill="#77ff88"/>
<rect x="610" y="68" width="1" height="8" fill="#88ff77"/>
<rect x="610" y="76" width="1" height="5" fill="#98ff67"/>
<rect x="610" y="81" width="1" height="3" fill="#a8ff57"/>
<rect x="610" y="84" width="1" height="3" fill="#b8ff47"/>
<rect x="610" y="87" width="1" height="2" fill="#c8ff37"/>
<rect x="610" y="89" width="1" height="2" fill="#d9ff26"/>
<rect x="610" y="91" width="1" height="2" fill="#e9ff16"/>
<rect x="610" y="93" width="1" height="2" fill="#f9ff06"/>
<rect x="610" y="95" width="1" height="5" fill="#fff500"/>
<rect x="610" y="100" width="1" height="5" fill="#ffe500"/>
<rect x="610" y="105" width="1" height="9" fill="#ffd500"/>
<rect x="610" y="114" width="1" height="10" fill="#ffc400"/>
<rect x="610" y="124" width="1" height="9" fill="#ffb400"/>
<rect x="610" y="133" width="1" height="3" fill="#ffa400"/>
<rect x="611" y="46" width="1" height="7" fill="#57ffa8"/>
<rect x="611" y="53" width="1" height="4" fill="#67ff98"/>
<rect x="611" y="57" width="1" height="9" fill="#77ff88"/>
<rect x="611" y="66" width="1" height="10" fill="#88ff77"/>
<rect x="611" y="76" width="1" height="5" fill="#98ff67"/>
<rect x="611" y="81" width="1" height="3" fill="#a8ff57"/>
<rect x="611" y="84" width="1" height="3" fill="#b8ff47"/>
<rect x="611" y="87" width="1" height="2" fill="#c8ff37"/>
<rect x="611" y="89" width="1" height="2" fill="#d9ff26"/>
<rect x="611" y="91" width="1" height="2" fill="#e9ff16"/>
<rect x="611" y="93" width="1" height="2" fill="#f9ff06"/>
<rect x="611" y="95" width="1" height="3" fill="#fff500"/>
<rect x="611" y="98" width="1" height="3" fill="#ffe500"/>
<rect x="611" y="101" width="1" height="8" fill="#ffd500"/>
<rect x="611" y="109" width="1" height="12" fill="#ffc400"/>
<rect x="611" y="121" width="1" height="11" fill="#ffb400"/>
<rect x="611" y="132" width="1" height="4" fill="#ffa400"/>
<rect x="612" y="46" width="1" height="6" fill="#47ffb8"/>
<rect x="612" y="52" width="1" height="1" fill="#57ffa8"/>
<rect x="612" y="53" width="1" height="5" fill="#67ff98"/>
<rect x="612" y="58" width="1" height="10" fill="#77ff88"/>
<rect x="612" y="68" width="1" height="9" fill="#88ff77"/>
<rect x="612" y="77" width="1" height="4" fill="#98ff67"/>
<rect x="612" y="81" width="1" height="3" fill="#a8ff57"/>
<rect x="612" y="84" width="1" height="3" fill="#b8ff47"/>
<rect x="612" y="87" width="1" height="2" fill="#c8ff37"/>
<rect x="612" y="89" width="1" height="1" fill="#d9ff26"/>
<rect x="612" y="90" width="1" height="2" fill="#e9ff16"/>
<rect x="612" y="92" width="1" height="2" fill="#f9ff06"/>
<rect x="612" y="94" width="1" height="3" fill="#fff500"/>
<rect x="612" y="97" width="1" height="3" fill="#ffe500"/>
<rect x="612" y="100" width="1" height="10" fill="#ffd500"/>
<rect x="612" y="110" width="1" height="13" fill="#ffc400"/>
<rect x="612" y="123" width="1" height="10" fill="#ffb400"/>
<rect x="612" y="133" width="1" height="3" fill="#ffa400"/>
<rect x="613" y="46" width="1" height="10" fill="#57ffa8"/>
<rect x="613" y="56" width="1" height="3" fill="#67ff98"/>
<rect x="613" y="59" width="1" height="11" fill="#77ff88"/>
<rect x="613" y="70" width="1" height="8" fill="#88ff77"/>
<rect x="613" y="78" width="1" height="4" fill="#98ff67"/>
<rect x="613" y="82" width="1" height="3" fill="#a8ff57"/>
<rect x="613" y="85" width="1" height="3" fill="#b8ff47"/>
<rect x="613" y="88" width="1" height="1" fill="#c8ff37"/>
<rect x="613" y="89" width="1" height="2" fill="#d9ff26"/>
<rect x="613" y="91" width="1" height="2" fill="#e9ff16"/>
<rect x="613" y="93" width="1" height="2" fill="#f9ff06"/>
<rect x="613" y="95" width="1" height="3" fill="#fff500"/>
<rect x="613" y="98" width="1" height="2" fill="#ffe500"/>
<rect x="613" y="100" width="1" height="11" fill="#ffd500"/>
<rect x="613" y="111" width="1" height="13" fill="#ffc400"/>
<rect x="613" y="124" width="1" height="10" fill="#ffb400"/>
<rect x="613" y="134" width="1" height="2" fill="#ffa400"/>
<rect x="614" y="46" width="1" height="8" fill="#47ffb8"/>
<rect x="614" y="54" width="1" height="3" fill="#57ffa8"/>
<rect x="614" y="57" width="1" height="1" fill="#67ff98"/>
<rect x="614" y="58" width="1" height="9" fill="#77ff88"/>
<rect x="614" y="67" width="1" height="11" fill="#88ff77"/>
<rect x="614" y="78" width="1" height="4" fill="#98ff67"/>
<rect x="614" y="82" width="1" height="3" fill="#a8ff57"/>
<rect x="614" y="85" width="1" height="3" fill="#b8ff47"/>
<rect x="614" y="88" width="1" height="1" fill="#c8ff37"/>
<rect x="614" y="89" width="1" height="2" fill="#d9ff26"/>
<rect x="614" y="91" width="1" height="2" fill="#e9ff16"/>
<rect x="614" y="93" width="1" height="2" fill="#f9ff06"/>
<rect x="614" y="95" width="1" height="2" fill="#fff500"/>
<rect x="614" y="97" width="1" height="3" fill="#ffe500"/>
<rect x="614" y="100" width="1" height="7" fill="#ffd500"/>
<rect x="614" y="107" width="1" height="13" fill="#ffc400"/>
<rect x="614" y="120" width="1" height="12" fill="#ffb400"/>
<rect x="614" y="132" width="1" height="4" fill="#ffa400"/>
<rect x="615" y="46" width="1" height="7" fill="#57ffa8"/>
<rect x="615" y="53" width="1" height="7" fill="#67ff98"/>
<rect x="615" y="60" width="1" height="10" fill="#77ff88"/>
<rect x="615" y="70" width="1" height="10" fill="#88ff77"/>
<rect x="615" y="80" width="1" height="4" fill="#98ff67"/>
<rect x="615" y="84" width="1" height="3" fill="#a8ff57"/>
<rect x="615" y="87" width="1" height="3" fill="#b8ff47"/>
<rect x="615" y="90" width="1" height="1" fill="#c8ff37"/>
<rect x="615" y="91" width="1" height="1" fill="#d9ff26"/>
<rect x="615" y="92" width="1" height="2" fill="#e9ff16"/>
<rect x="615" y="94" width="1" height="2" fill="#f9ff06"/>
<rect x="615" y="96" width="1" height="3" fill="#fff500"/>
<rect x="615" y="99" width="1" height="2" fill="#ffe500"/>
<rect x="615" y="101" width="1" height="9" fill="#ffd500"/>
<rect x="615" y="110" width="1" height="13" fill="#ffc400"/>
<rect x="615" y="123" width="1" height="11" fill="#ffb400"/>
<rect x="615" y="134" width="1" height="2" fill="#ffa400"/>
<rect x="616" y="46" width="1" height="7" fill="#47ffb8"/>
<rect x="616" y="53" width="1" height="5" fill="#57ffa8"/>
<rect x="616" y="58" width="1" height="6" fill="#67ff98"/>
<rect x="616" y="64" width="1" height="13" fill="#77ff88"/>
<rect x="616" y="77" width="1" height="6" fill="#88ff77"/>
<rect x="616" y="83" width="1" height="3" fill="#98ff67"/>
<rect x="616" y="86" width="1" height="3" fill="#a8ff57"/>
<rect x="616" y="89" width="1" height="2" fill="#b8ff47"/>
<rect x="616" y="91" width="1" height="1" fill="#c8ff37"/>
<rect x="616" y="92" width="1" height="2" fill="#d9ff26"/>
<rect x="616" y="94" width="1" height="2" fill="#e9ff16"/>
<rect x="616" y="96" width="1" height="2" fill="#f9ff06"/>
<rect x="616" y="98" width="1" height="2" fill="#fff500"/>
<rect x="616" y="100" width="1" height="3" fill="#ffe500"/>
<rect x="616" y="103" width="1" height="13" fill="#ffd500"/>
<rect x="616" y="116" width="1" height="13" fill="#ffc400"/>
<rect x="616" y="129" width="1" height="7" fill="#ffb400"/>
<rect x="617" y="46" width="1" height="4" fill="#47ffb8"/>
<rect x="617" y="50" width="1" height="7" fill="#57ffa8"/>
<rect x="617" y="57" width="1" height="6" fill="#67ff98"/>
<rect x="617" y="63" width="1" height="12" fill="#77ff88"/>
<rect x="617" y="75" width="1" height="7" fill="#88ff77"/>
<rect x="617" y="82" width="1" height="4" fill="#98ff67"/>
<rect x="617" y="86" width="1" height="3" fill="#a8ff57"/>
<rect x="617" y="89" width="1" height="2" fill="#b8ff47"/>
<rect x="617" y="91" width="1" height="1" fill="#c8ff37"/>
<rect x="617" y="92" width="1" height="1" fill="#d9ff26"/>
<rect x="617" y="93" width="1" height="2" fill="#e9ff16"/>
<rect x="617" y="95" width="1" height="2" fill="#f9ff06"/>
<rect x="617" y="97" width="1" height="3" fill="#fff500"/>
<rect x="617" y="100" width="1" height="2" fill="#ffe500"/>
<rect x="617" y="102" width="1" height="11" fill="#ffd500"/>
<rect x="617" y="113" width="1" height="14" fill="#ffc400"/>
<rect x="617" y="127" width="1" height="9" fill="#ffb400"/>
<rect x="618" y="46" width="1" height="5" fill="#47ffb8"/>
<rect x="618" y="51" width="1" height="2" fill="#57ffa8"/>
<rect x="618" y="53" width="1" height="9" fill="#67ff98"/>
<rect x="618" y="62" width="1" height="10" fill="#77ff88"/>
<rect x="618" y="72" width="1" height="10" fill="#88ff77"/>
<rect x="618" y="82" width="1" height="4" fill="#98ff67"/>
<rect x="618" y="86" width="1" height="2" fill="#a8ff57"/>
<rect x="618" y="88" width="1" height="3" fill="#b8ff47"/>
<rect x="618" y="91" width="1" height="1" fill="#c8ff37"/>
<rect x="618" y="92" width="1" height="1" fill="#d9ff26"/>
<rect x="618" y="93" width="1" height="2" fill="#e9ff16"/>
<rect x="618" y="95" width="1" height="2" fill="#f9ff06"/>
<rect x="618" y="97" width="1" height="2" fill="#fff500"/>
<rect x="618" y="99" width="1" height="2" fill="#ffe500"/>
<rect x="618" y="101" width="1" height="9" fill="#ffd500"/>
<rect x="618" y="110" width="1" height="13" fill="#ffc400"/>
<rect x="618" y="123" width="1" height="11" fill="#ffb400"/>
<rect x="618" y="134" width="1" height="2" fill="#ffa400"/>
<rect x="619" y="46" width="1" height="5" fill="#47ffb8"/>
<rect x="619" y="51" width="1" height="2" fill="#57ffa8"/>
<rect x="619" y="53" width="1" height="9" fill="#67ff98"/>
<rect x="619" y="62" width="1" height="10" fill="#77ff88"/>
<rect x="619" y="72" width="1" height="9" fill="#88ff77"/>
<rect x="619" y="81" width="1" height="4" fill="#98ff67"/>
<rect x="619" y="85" width="1" height="3" fill="#a8ff57"/>
<rect x="619" y="88" width="1" height="2" fill="#b8ff47"/>
<rect x="619" y="90" width="1" height="1" fill="#c8ff37"/>
<rect x="619" y="91" width="1" height="1" fill="#d9ff26"/>
<rect x="619" y="92" width="1" height="2" fill="#e9ff16"/>
<rect x="619" y="94" width="1" height="2" fill="#f9ff06"/>
<rect x="619" y="96" width="1" height="2" fill="#fff500"/>
<rect x="619" y="98" width="1" height="2" fill="#ffe500"/>
<rect x="619" y="100" width="1" height="10" fill="#ffd500"/>
<rect x="619" y="110" width="1" height="13" fill="#ffc400"/>
<rect x="619" y="123" width="1" height="11" fill="#ffb400"/>
<rect x="619" y="134" width="1" height="2" fill="#ffa400"/>
<rect x="620" y="46" width="1" height="6" fill="#47ffb8"/>
<rect x="620" y="52" width="1" height="4" fill="#57ffa8"/>
<rect x="620" y="56" width="1" height="6" fill="#67ff98"/>
<rect x="620" y="62" width="1" height="11" fill="#77ff88"/>
<rect x="620" y="73" width="1" height="9" fill="#88ff77"/>
<rect x="620" y="82" width="1" height="3" fill="#98ff67"/>
<rect x="620" y="85" width="1" height="2" fill="#a8ff57"/>
<rect x="620" y="87" width="1" height="2" fill="#b8ff47"/>
<rect x="620" y="89" width="1" height="2" fill="#c8ff37"/>
<rect x="620" y="91" width="1" height="1" fill="#d9ff26"/>
<rect x="620" y="92" width="1" height="1" fill="#e9ff16"/>
<rect x="620" y="93" width="1" height="2" fill="#f9ff06"/>
<rect x="620" y="95" width="1" height="2" fill="#fff500"/>
<rect x="620" y="97" width="1" height="3" fill="#ffe500"/>
<rect x="620" y="100" width="1" height="10" fill="#ffd500"/>
<rect x="620" y="110" width="1" height="14" fill="#ffc400"/>
<rect x="620" y="124" width="1" height="10" fill="#ffb400"/>
<rect x="620" y="134" width="1" height="2" fill="#ffa400"/>
<rect x="621" y="46" width="1" height="6" fill="#47ffb8"/>
<rect x="621" y="52" width="1" height="5" fill="#57ffa8"/>
<rect x="621" y="57" width="1" height="6" fill="#67ff98"/>
<rect x="621" y="63" width="1" height="12" fill="#77ff88"/>
<rect x="621" y="75" width="1" height="7" fill="#88ff77"/>
<rect x="621" y="82" width="1" height="4" fill="#98ff67"/>
<rect x="621" y="86" width="1" height="2" fill="#a8ff57"/>
<rect x="621" y="88" width="1" height="1" fill="#b8ff47"/>
<rect x="621" y="89" width="1" height="2" fill="#c8ff37"/>
<rect x="621" y="91" width="1" height="1" fill="#d9ff26"/>
<rect x="621" y="92" width="1" height="1" fill="#e9ff16"/>
<rect x="621" y="93" width="1" height="2" fill="#f9ff06"/>
<rect x="621" y="95" width="1" height="2" fill="#fff500"/>
<rect x="621" y="97" width="1" height="3" fill="#ffe500"/>
<rect x="621" y="100" width="1" height="12" fill="#ffd500"/>
<rect x="621" y="112" width="1" height="14" fill="#ffc400"/>
<rect x="621" y="126" width="1" height="9" fill="#ffb400"/>
<rect x="621" y="135" width="1" height="1" fill="#ffa400"/>
<rect x="622" y="46" width="1" height="5" fill="#47ffb8"/>
<rect x="622" y="51" width="1" height="8" fill="#57ffa8"/>
<rect x="622" y="59" width="1" height="7" fill="#67ff98"/>
<rect x="622" y="66" width="1" height="13" fill="#77ff88"/>
<rect x="622" y="79" width="1" height="5" fill="#88ff77"/>
<rect x="622" y="84" width="1" height="2" fill="#98ff67"/>
<rect x="622" y="86" width="1" height="2" fill="#a8ff57"/>
<rect x="622" y="88" width="1" height="2" fill="#b8ff47"/>
<rect x="622" y="90" width="1" height="1" fill="#c8ff37"/>
<rect x="622" y="91" width="1" height="1" fill="#d9ff26"/>
<rect x="622" y="92" width="1" height="2" fill="#e9ff16"/>
<rect x="622" y="94" width="1" height="2" fill="#f9ff06"/>
<rect x="622" y="96" width="1" height="2" fill="#fff500"/>
<rect x="622" y="98" width="1" height="4" fill="#ffe500"/>
<rect x="622" y="102" width="1" height="13" fill="#ffd500"/>
<rect x="622" y="115" width="1" height="14" fill="#ffc400"/>
<rect x="622" y="129" width="1" height="7" fill="#ffb400"/>
<rect x="623" y="46" width="1" height="6" fill="#47ffb8"/>
<rect x="623" y="52" width="1" height="5" fill="#57ffa8"/>
<rect x="623" y="57" width="1" height="7" fill="#67ff98"/>
<rect x="623" y="64" width="1" height="12" fill="#77ff88"/>
<rect x="623" y="76" width="1" height="7" fill="#88ff77"/>
<rect x="623" y="83" width="1" height="3" fill="#98ff67"/>
<rect x="623" y="86" width="1" height="2" fill="#a8ff57"/>
<rect x="623" y="88" width="1" height="2" fill="#b8ff47"/>
<rect x="623" y="90" width="1" height="1" fill="#c8ff37"/>
<rect x="623" y="91" width="1" height="1" fill="#d9ff26"/>
<rect x="623" y="92" width="1" height="2" fill="#e9ff16"/>
<rect x="623" y="94" width="1" height="1" fill="#f9ff06"/>
<rect x="623" y="95" width="1" height="3" fill="#fff500"/>
<rect x="623" y="98" width="1" height="2" fill="#ffe500"/>
<rect x="623" y="100" width="1" height="12" fill="#ffd500"/>
<rect x="623" y="112" width="1" height="14" fill="#ffc400"/>
<rect x="623" y="126" width="1" height="10" fill="#ffb400"/>
<rect x="624" y="46" width="1" height="8" fill="#37ffc8"/>
<rect x="624" y="54" width="1" height="1" fill="#47ffb8"/>
<rect x="624" y="55" width="1" height="2" fill="#57ffa8"/>
<rect x="624" y="57" width="1" height="4" fill="#67ff98"/>
<rect x="624" y="61" width="1" height="9" fill="#77ff88"/>
<rect x="624" y="70" width="1" height="11" fill="#88ff77"/>
<rect x="624" y="81" width="1" height="4" fill="#98ff67"/>
<rect x="624" y="85" width="1" height="2" fill="#a8ff57"/>
<rect x="624" y="87" width="1" height="2" fill="#b8ff47"/>
<rect x="624" y="89" width="1" height="1" fill="#c8ff37"/>
<rect x="624" y="90" width="1" height="2" fill="#d9ff26"/>
<rect x="624" y="92" width="1" height="1" fill="#e9ff16"/>
<rect x="624" y="93" width="1" height="2" fill="#f9ff06"/>
<rect x="624" y="95" width="1" height="2" fill="#fff500"/>
<rect x="624" y="97" width="1" height="2" fill="#ffe500"/>
<rect x="624" y="99" width="1" height="7" fill="#ffd500"/>
<rect x="624" y="106" width="1" height="13" fill="#ffc400"/>
<rect x="624" y="119" width="1" height="13" fill="#ffb400"/>
<rect x="624" y="132" width="1" height="4" fill="#ffa400"/>
<rect x="625" y="46" width="1" height="9" fill="#47ffb8"/>
<rect x="625" y="55" width="1" height="2" fill="#57ffa8"/>
<rect x="625" y="57" width="1" height="2" fill="#67ff98"/>
<rect x="625" y="59" width="1" height="8" fill="#77ff88"/>
<rect x="625" y="67" width="1" height="13" fill="#88ff77"/>
<rect x="625" y="80" width="1" height="4" fill="#98ff67"/>
<rect x="625" y="84" width="1" height="2" fill="#a8ff57"/>
<rect x="625" y="86" width="1" height="2" fill="#b8ff47"/>
<rect x="625" y="88" width="1" height="2" fill="#c8ff37"/>
<rect x="625" y="90" width="1" height="1" fill="#d9ff26"/>
<rect x="625" y="91" width="1" height="1" fill="#e9ff16"/>
<rect x="625" y="92" width="1" height="2" fill="#f9ff06"/>
<rect x="625" y="94" width="1" height="2" fill="#fff500"/>
<rect x="625" y="96" width="1" height="2" fill="#ffe500"/>
<rect x="625" y="98" width="1" height="5" fill="#ffd500"/>
<rect x="625" y="103" width="1" height="14" fill="#ffc400"/>
<rect x="625" y="117" width="1" height="13" fill="#ffb400"/>
<rect x="625" y="130" width="1" height="6" fill="#ffa400"/>
<rect x="626" y="46" width="1" height="8" fill="#57ffa8"/>
<rect x="626" y="54" width="1" height="7" fill="#67ff98"/>
<rect x="626" y="61" width="1" height="9" fill="#77ff88"/>
<rect x="626" y="70" width="1" height="11" fill="#88ff77"/>
<rect x="626" y="81" width="1" height="4" fill="#98ff67"/>
<rect x="626" y="85" width="1" height="2" fill="#a8ff57"/>
<rect x="626" y="87" width="1" height="2" fill="#b8ff47"/>
<rect x="626" y="89" width="1" height="1" fill="#c8ff37"/>
<rect x="626" y="90" width="1" height="1" fill="#d9ff26"/>
<rect x="626" y="91" width="1" height="2" fill="#e9ff16"/>
<rect x="626" y="93" width="1" height="1" fill="#f9ff06"/>
<rect x="626" y="94" width="1" height="2" fill="#fff500"/>
<rect x="626" y="96" width="1" height="3" fill="#ffe500"/>
<rect x="626" y="99" width="1" height="8" fill="#ffd500"/>
<rect x="626" y="107" width="1" height="13" fill="#ffc400"/>
<rect x="626" y="120" width="1" height="12" fill="#ffb400"/>
<rect x="626" y="132" width="1" height="4" fill="#ffa400"/>
<rect x="627" y="46" width="1" height="11" fill="#57ffa8"/>
<rect x="627" y="57" width="1" height="5" fill="#67ff98"/>
<rect x="627" y="62" width="1" height="10" fill="#77ff88"/>
<rect x="627" y="72" width="1" height="10" fill="#88ff77"/>
<rect x="627" y="82" width="1" height="4" fill="#98ff67"/>
<rect x="627" y="86" width="1" height="2" fill="#a8ff57"/>
<rect x="627" y="88" width="1" height="2" fill="#b8ff47"/>
<rect x="627" y="90" width="1" height="1" fill="#c8ff37"/>
<rect x="627" y="91" width="1" height="1" fill="#d9ff26"/>
<rect x="627" y="92" width="1" height="2" fill="#e9ff16"/>
<rect x="627" y="94" width="1" height="1" fill="#f9ff06"/>
<rect x="627" y="95" width="1" height="2" fill="#fff500"/>
<rect x="627" y="97" width="1" height="3" fill="#ffe500"/>
<rect x="627" y="100" width="1" height="8" fill="#ffd500"/>
<rect x="627" y="108" width="1" height="14" fill="#ffc400"/>
<rect x="627" y="122" width="1" height="11" fill="#ffb400"/>
<rect x="627" y="133" width="1" height="3" fill="#ffa400"/>
<rect x="628" y="46" width="1" height="8" fill="#57ffa8"/>
<rect x="628" y="54" width="1" height="7" fill="#67ff98"/>
<rect x="628" y="61" width="1" height="10" fill="#77ff88"/>
<rect x="628" y="71" width="1" height="10" fill="#88ff77"/>
<rect x="628" y="81" width="1" height="4" fill="#98ff67"/>
<rect x="628" y="85" width="1" height="2" fill="#a8ff57"/>
<rect x="628" y="87" width="1" height="2" fill="#b8ff47"/>
<rect x="628" y="89" width="1" height="2" fill="#c8ff37"/>
<rect x="628" y="91" width="1" height="1" fill="#d9ff26"/>
<rect x="628" y="92" width="1" height="1" fill="#e9ff16"/>
<rect x="628" y="93" width="1" height="2" fill="#f9ff06"/>
<rect x="628" y="95" width="1" height="2" fill="#fff500"/>
<rect x="628" y="97" width="1" height="2" fill="#ffe500"/>
<rect x="628" y="99" width="1" height="8" fill="#ffd500"/>
<rect x="628" y="107" width="1" height="14" fill="#ffc400"/>
<rect x="628" y="121" width="1" height="12" fill="#ffb400"/>
<rect x="628" y="133" width="1" height="3" fill="#ffa400"/>
<rect x="629" y="46" width="1" height="11" fill="#57ffa8"/>
<rect x="629" y="57" width="1" height="4" fill="#67ff98"/>
<rect x="629" y="61" width="1" height="10" fill="#77ff88"/>
<rect x="629" y="71" width="1" height="10" fill="#88ff77"/>
<rect x="629" y="81" width="1" height="4" fill="#98ff67"/>
<rect x="629" y="85" width="1" height="3" fill="#a8ff57"/>
<rect x="629" y="88" width="1" height="2" fill="#b8ff47"/>
<rect x="629" y="90" width="1" height="1" fill="#c8ff37"/>
<rect x="629" y="91" width="1" height="1" fill="#d9ff26"/>
<rect x="629" y="92" width="1" height="1" fill="#e9ff16"/>
<rect x="629" y="93" width="1" height="2" fill="#f9ff06"/>
<rect x="629" y="95" width="1" height="2" fill="#fff500"/>
<rect x="629" y="97" width="1" height="2" fill="#ffe500"/>
<rect x="629" y="99" width="1" height="8" fill="#ffd500"/>
<rect x="629" y="107" width="1" height="14" fill="#ffc400"/>
<rect x="629" y="121" width="1" height="12" fill="#ffb400"/>
<rect x="629" y="133" width="1" height="3" fill="#ffa400"/>
<rect x="630" y="46" width="1" height="6" fill="#47ffb8"/>
<rect x="630" y="52" width="1" height="2" fill="#57ffa8"/>
<rect x="630" y="54" width="1" height="6" fill="#67ff98"/>
<rect x="630" y="60" width="1" height="10" fill="#77ff88"/>
<rect x="630" y="70" width="1" height="10" fill="#88ff77"/>
<rect x="630" y="80" width="1" height="4" fill="#98ff67"/>
<rect x="630" y="84" width="1" height="2" fill="#a8ff57"/>
<rect x="630" y="86" width="1" height="2" fill="#b8ff47"/>
<rect x="630" y="88" width="1" height="1" fill="#c8ff37"/>
<rect x="630" y="89" width="1" height="1" fill="#d9ff26"/>
<rect x="630" y="90" width="1" height="2" fill="#e9ff16"/>
<rect x="630" y="92" width="1" height="1" fill="#f9ff06"/>
<rect x="630" y="93" width="1" height="3" fill="#fff500"/>
<rect x="630" y="96" width="1" height="2" fill="#ffe500"/>
<rect x="630" y="98" width="1" height="9" fill="#ffd500"/>
<rect x="630" y="107" width="1" height="13" fill="#ffc400"/>
<rect x="630" y="120" width="1" height="12" fill="#ffb400"/>
<rect x="630" y="132" width="1" height="4" fill="#ffa400"/>
<rect x="631" y="46" width="1" height="5" fill="#47ffb8"/>
<rect x="631" y="51" width="1" height="2" fill="#57ffa8"/>
<rect x="631" y="53" width="1" height="7" fill="#67ff98"/>
<rect x="631" y="60" width="1" height="11" fill="#77ff88"/>
<rect x="631" y="71" width="1" height="8" fill="#88ff77"/>
<rect x="631" y="79" width="1" height="4" fill="#98ff67"/>
<rect x="631" y="83" width="1" height="2" fill="#a8ff57"/>
<rect x="631" y="85" width="1" height="2" fill="#b8ff47"/>
<rect x="631" y="87" width="1" height="1" fill="#c8ff37"/>
<rect x="631" y="88" width="1" height="1" fill="#d9ff26"/>
<rect x="631" y="89" width="1" height="2" fill="#e9ff16"/>
<rect x="631" y="91" width="1" height="1" fill="#f9ff06"/>
<rect x="631" y="92" width="1" height="3" fill="#fff500"/>
<rect x="631" y="95" width="1" height="2" fill="#ffe500"/>
<rect x="631" y="97" width="1" height="10" fill="#ffd500"/>
<rect x="631" y="107" width="1" height="14" fill="#ffc400"/>
<rect x="631" y="121" width="1" height="11" fill="#ffb400"/>
<rect x="631" y="132" width="1" height="4" fill="#ffa400"/>
<rect x="632" y="46" width="1" height="5" fill="#57ffa8"/>
<rect x="632" y="51" width="1" height="9" fill="#67ff98"/>
<rect x="632" y="60" width="1" height="10" fill="#77ff88"/>
<rect x="632" y="70" width="1" height="9" fill="#88ff77"/>
<rect x="632" y="79" width="1" height="4" fill="#98ff67"/>
<rect x="632" y="83" width="1" height="2" fill="#a8ff57"/>
<rect x="632" y="85" width="1" height="2" fill="#b8ff47"/>
<rect x="632" y="87" width="1" height="1" fill="#c8ff37"/>
<rect x="632" y="88" width="1" height="1" fill="#d9ff26"/>
<rect x="632" y="89" width="1" height="2" fill="#e9ff16"/>
<rect x="632" y="91" width="1" height="2" fill="#f9ff06"/>
<rect x="632" y="93" width="1" height="2" fill="#fff500"/>
<rect x="632" y="95" width="1" height="2" fill="#ffe500"/>
<rect x="632" y="97" width="1" height="9" fill="#ffd500"/>
<rect x="632" y="106" width="1" height="14" fill="#ffc400"/>
<rect x="632" y="120" width="1" height="11" fill="#ffb400"/>
<rect x="632" y="131" width="1" height="5" fill="#ffa400"/>
<rect x="633" y="46" width="1" height="11" fill="#57ffa8"/>
<rect x="633" y="57" width="1" height="2" fill="#67ff98"/>
<rect x="633" y="59" width="1" height="10" fill="#77ff88"/>
<rect x="633" y="69" width="1" height="11" fill="#88ff77"/>
<rect x="633" y="80" width="1" height="4" fill="#98ff67"/>
<rect x="633" y="84" width="1" height="2" fill="#a8ff57"/>
<rect x="633" y="86" width="1" height="2" fill="#b8ff47"/>
<rect x="633" y="88" width="1" height="1" fill="#c8ff37"/>
<rect x="633" y="89" width="1" height="1" fill="#d9ff26"/>
<rect x="633" y="90" width="1" height="2" fill="#e9ff16"/>
<rect x="633" y="92" width="1" height="1" fill="#f9ff06"/>
<rect x="633" y="93" width="1" height="2" fill="#fff500"/>
<rect x="633" y="95" width="1" height="3" fill="#ffe500"/>
<rect x="633" y="98" width="1" height="7" fill="#ffd500"/>
<rect x="633" y="105" width="1" height="13" fill="#ffc400"/>
<rect x="633" y="118" width="1" height="13" fill="#ffb400"/>
<rect x="633" y="131" width="1" height="5" fill="#ffa400"/>
<rect x="634" y="46" width="1" height="7" fill="#47ffb8"/>
<rect x="634" y="53" width="1" height="3" fill="#57ffa8"/>
<rect x="634" y="56" width="1" height="6" fill="#67ff98"/>
<rect x="634" y="62" width="1" height="10" fill="#77ff88"/>
<rect x="634" y="72" width="1" height="10" fill="#88ff77"/>
<rect x="634" y="82" width="1" height="4" fill="#98ff67"/>
<rect x="634" y="86" width="1" height="2" fill="#a8ff57"/>
<rect x="634" y="88" width="1" height="2" fill="#b8ff47"/>
<rect x="634" y="90" width="1" height="1" fill="#c8ff37"/>
<rect x="634" y="91" width="1" height="1" fill="#d9ff26"/>
<rect x="634" y="92" width="1" height="2" fill="#e9ff16"/>
<rect x="634" y="94" width="1" height="1" fill="#f9ff06"/>
<rect x="634" y="95" width="1" height="2" fill="#fff500"/>
<rect x="634" y="97" width="1" height="3" fill="#ffe500"/>
<rect x="634" y="100" width="1" height="8" fill="#ffd500"/>
<rect x="634" y="108" width="1" height="14" fill="#ffc400"/>
<rect x="634" y="122" width="1" height="12" fill="#ffb400"/>
<rect x="634" y="134" width="1" height="2" fill="#ffa400"/>
<rect x="635" y="46" width="1" height="11" fill="#57ffa8"/>
<rect x="635" y="57" width="1" height="6" fill="#67ff98"/>
<rect x="635" y="63" width="1" height="12" fill="#77ff88"/>
<rect x="635" y="75" width="1" height="8" fill="#88ff77"/>
<rect x="635" y="83" width="1" height="3" fill="#98ff67"/>
<rect x="635" y="86" width="1" height="2" fill="#a8ff57"/>
<rect x="635" y="88" width="1" height="2" fill="#b8ff47"/>
<rect x="635" y="90" width="1" height="1" fill="#c8ff37"/>
<rect x="635" y="91" width="1" height="2" fill="#d9ff26"/>
<rect x="635" y="93" width="1" height="1" fill="#e9ff16"/>
<rect x="635" y="94" width="1" height="2" fill="#f9ff06"/>
<rect x="635" y="96" width="1" height="2" fill="#fff500"/>
<rect x="635" y="98" width="1" height="2" fill="#ffe500"/>
<rect x="635" y="100" width="1" height="11" fill="#ffd500"/>
<rect x="635" y="111" width="1" height="14" fill="#ffc400"/>
<rect x="635" y="125" width="1" height="10" fill="#ffb400"/>
<rect x="635" y="135" width="1" height="1" fill="#ffa400"/>
</g>
<circle cx="511.8" cy="154.0" r="3.1" fill="#ff7500"/>
<circle cx="515.4" cy="154.2" r="3.1" fill="#ff7500"/>
<circle cx="518.8" cy="153.2" r="3.3" fill="#ff7d00"/>
<circle cx="522.2" cy="151.0" r="3.4" fill="#ff8200"/>
<circle cx="525.4" cy="148.8" r="3.4" fill="#ff8500"/>
<circle cx="528.6" cy="146.6" r="3.3" fill="#ff8200"/>
<circle cx="531.6" cy="144.2" r="3.2" fill="#ff7d00"/>
<circle cx="535.6" cy="139.2" r="3.4" fill="#ff7500"/>
</g>
<text transform="translate(77.00 317.70) scale(1 1.01)" font-family="Liberation Serif" font-size="24" text-anchor="end">0</text>
<text transform="translate(77.00 364.55) scale(1 1.01)" font-family="Liberation Serif" font-size="24" text-anchor="end">50</text>
<text transform="translate(77.00 411.40) scale(1 1.01)" font-family="Liberation Serif" font-size="24" text-anchor="end">100</text>
<text transform="translate(77.00 458.25) scale(1 1.01)" font-family="Liberation Serif" font-size="24" text-anchor="end">150</text>
<text transform="translate(77.00 505.10) scale(1 1.01)" font-family="Liberation Serif" font-size="24" text-anchor="end">200</text>
<text transform="translate(25.7 404.40) rotate(-90) scale(1 1.01)" font-family="Liberation Serif" font-size="24" text-anchor="middle" textLength="107" lengthAdjust="spacingAndGlyphs">Depth, (m)</text>
<text transform="translate(542.00 486.00) scale(1 1.01)" font-family="Liberation Serif" font-size="24">Salinity (PSU)</text>
<rect x="873.6" y="309.85" width="40.80" height="187.75" fill="url(#jet)" stroke="#000" stroke-width="1.8"/>
<text transform="translate(919.30 505.40) scale(1 1.01)" font-family="Liberation Serif" font-size="24">30</text>
<text transform="translate(919.30 467.85) scale(1 1.01)" font-family="Liberation Serif" font-size="24">31</text>
<text transform="translate(919.30 430.30) scale(1 1.01)" font-family="Liberation Serif" font-size="24">32</text>
<text transform="translate(919.30 392.75) scale(1 1.01)" font-family="Liberation Serif" font-size="24">33</text>
<text transform="translate(919.30 355.20) scale(1 1.01)" font-family="Liberation Serif" font-size="24">34</text>
<text transform="translate(919.30 317.65) scale(1 1.01)" font-family="Liberation Serif" font-size="24">35</text>
<path d="M914.40 497.60H911.40M873.60 497.60H876.10M914.40 460.05H911.40M873.60 460.05H876.10M914.40 422.50H911.40M873.60 422.50H876.10M914.40 384.95H911.40M873.60 384.95H876.10M914.40 347.40H911.40M873.60 347.40H876.10M914.40 309.85H911.40M873.60 309.85H876.10" stroke="#000" stroke-width="1.6"/>
<line x1="215.00" y1="575.10" x2="215.00" y2="757.40" stroke="#111" stroke-width="1.4" stroke-dasharray="1.7 7.3"/>
<line x1="340.40" y1="575.10" x2="340.40" y2="757.40" stroke="#111" stroke-width="1.4" stroke-dasharray="1.7 7.3"/>
<line x1="466.90" y1="575.10" x2="466.90" y2="757.40" stroke="#111" stroke-width="1.4" stroke-dasharray="1.7 7.3"/>
<line x1="591.20" y1="575.10" x2="591.20" y2="757.40" stroke="#111" stroke-width="1.4" stroke-dasharray="1.7 7.3"/>
<line x1="716.60" y1="575.10" x2="716.60" y2="757.40" stroke="#111" stroke-width="1.4" stroke-dasharray="1.7 7.3"/>
<line x1="98.35" y1="616.45" x2="842.00" y2="616.45" stroke="#111" stroke-width="1.4" stroke-dasharray="1.7 7.3"/>
<line x1="98.35" y1="663.30" x2="842.00" y2="663.30" stroke="#111" stroke-width="1.4" stroke-dasharray="1.7 7.3"/>
<line x1="98.35" y1="710.15" x2="842.00" y2="710.15" stroke="#111" stroke-width="1.4" stroke-dasharray="1.7 7.3"/>
<path d="M89.60 570.00V561.40M89.60 757.40V764.60M114.68 570.00V565.60M114.68 757.40V761.10M139.76 570.00V565.60M139.76 757.40V761.10M164.84 570.00V565.60M164.84 757.40V761.10M189.92 570.00V565.60M189.92 757.40V761.10M215.00 570.00V561.40M215.00 757.40V764.60M240.08 570.00V565.60M240.08 757.40V761.10M265.16 570.00V565.60M265.16 757.40V761.10M290.24 570.00V565.60M290.24 757.40V761.10M315.32 570.00V565.60M315.32 757.40V761.10M340.40 570.00V561.40M340.40 757.40V764.60M365.48 570.00V565.60M365.48 757.40V761.10M390.56 570.00V565.60M390.56 757.40V761.10M415.64 570.00V565.60M415.64 757.40V761.10M440.72 570.00V565.60M440.72 757.40V761.10M466.90 570.00V561.40M466.90 757.40V764.60M490.88 570.00V565.60M490.88 757.40V761.10M515.96 570.00V565.60M515.96 757.40V761.10M541.04 570.00V565.60M541.04 757.40V761.10M566.12 570.00V565.60M566.12 757.40V761.10M591.20 570.00V561.40M591.20 757.40V764.60M616.28 570.00V565.60M616.28 757.40V761.10M641.36 570.00V565.60M641.36 757.40V761.10M666.44 570.00V565.60M666.44 757.40V761.10M691.52 570.00V565.60M691.52 757.40V761.10M716.60 570.00V561.40M716.60 757.40V764.60M741.68 570.00V565.60M741.68 757.40V761.10M766.76 570.00V565.60M766.76 757.40V761.10M791.84 570.00V565.60M791.84 757.40V761.10M816.92 570.00V565.60M816.92 757.40V761.10M842.00 570.00V561.40M842.00 757.40V764.60M89.60 570.00H82.00M842.00 570.00H850.70M89.60 593.42H85.80M842.00 593.42H846.00M89.60 616.85H82.00M842.00 616.85H850.70M89.60 640.27H85.80M842.00 640.27H846.00M89.60 663.70H82.00M842.00 663.70H850.70M89.60 687.12H85.80M842.00 687.12H846.00M89.60 710.55H82.00M842.00 710.55H850.70M89.60 733.98H85.80M842.00 733.98H846.00M89.60 757.40H82.00M842.00 757.40H850.70" stroke="#000" stroke-width="1.7" fill="none"/>
<rect x="89.60" y="570.00" width="752.40" height="187.40" fill="none" stroke="#000" stroke-width="2.1"/>

<text transform="translate(77.00 578.00) scale(1 1.01)" font-family="Liberation Serif" font-size="24" text-anchor="end">0</text>
<text transform="translate(77.00 624.85) scale(1 1.01)" font-family="Liberation Serif" font-size="24" text-anchor="end">50</text>
<text transform="translate(77.00 671.70) scale(1 1.01)" font-family="Liberation Serif" font-size="24" text-anchor="end">100</text>
<text transform="translate(77.00 718.55) scale(1 1.01)" font-family="Liberation Serif" font-size="24" text-anchor="end">150</text>
<text transform="translate(77.00 765.40) scale(1 1.01)" font-family="Liberation Serif" font-size="24" text-anchor="end">200</text>
<text transform="translate(25.7 664.70) rotate(-90) scale(1 1.01)" font-family="Liberation Serif" font-size="24" text-anchor="middle" textLength="107" lengthAdjust="spacingAndGlyphs">Depth, (m)</text>
<text transform="translate(542.00 745.90) scale(1 1.01)" font-family="Liberation Serif" font-size="24">Dissolved Oxygen (ml/l)</text>
<rect x="873.6" y="570.15" width="40.80" height="187.75" fill="url(#jet)" stroke="#000" stroke-width="1.8"/>
<text transform="translate(919.30 765.70) scale(1 1.01)" font-family="Liberation Serif" font-size="24">0</text>
<text transform="translate(919.30 703.12) scale(1 1.01)" font-family="Liberation Serif" font-size="24">1</text>
<text transform="translate(919.30 640.53) scale(1 1.01)" font-family="Liberation Serif" font-size="24">2</text>
<text transform="translate(919.30 577.95) scale(1 1.01)" font-family="Liberation Serif" font-size="24">3</text>
<path d="M914.40 757.90H911.40M873.60 757.90H876.10M914.40 695.32H911.40M873.60 695.32H876.10M914.40 632.73H911.40M873.60 632.73H876.10M914.40 570.15H911.40M873.60 570.15H876.10" stroke="#000" stroke-width="1.6"/>
<text transform="translate(84.60 791.00) scale(1 1.01)" font-family="Liberation Serif" font-size="24" text-anchor="middle">−125.2</text>
<text transform="translate(208.50 791.00) scale(1 1.01)" font-family="Liberation Serif" font-size="24" text-anchor="middle">−125</text>
<text transform="translate(334.40 791.00) scale(1 1.01)" font-family="Liberation Serif" font-size="24" text-anchor="middle">−124.8</text>
<text transform="translate(461.40 791.00) scale(1 1.01)" font-family="Liberation Serif" font-size="24" text-anchor="middle">−124.6</text>
<text transform="translate(586.20 791.00) scale(1 1.01)" font-family="Liberation Serif" font-size="24" text-anchor="middle">−124.4</text>
<text transform="translate(711.80 791.00) scale(1 1.01)" font-family="Liberation Serif" font-size="24" text-anchor="middle">−124.2</text>
<text transform="translate(837.20 791.00) scale(1 1.01)" font-family="Liberation Serif" font-size="24" text-anchor="middle">−124</text>
<text transform="translate(464.50 815.80) scale(1 1.01)" font-family="Liberation Serif" font-size="24" text-anchor="middle">Longitude</text>
</svg></body></html>
